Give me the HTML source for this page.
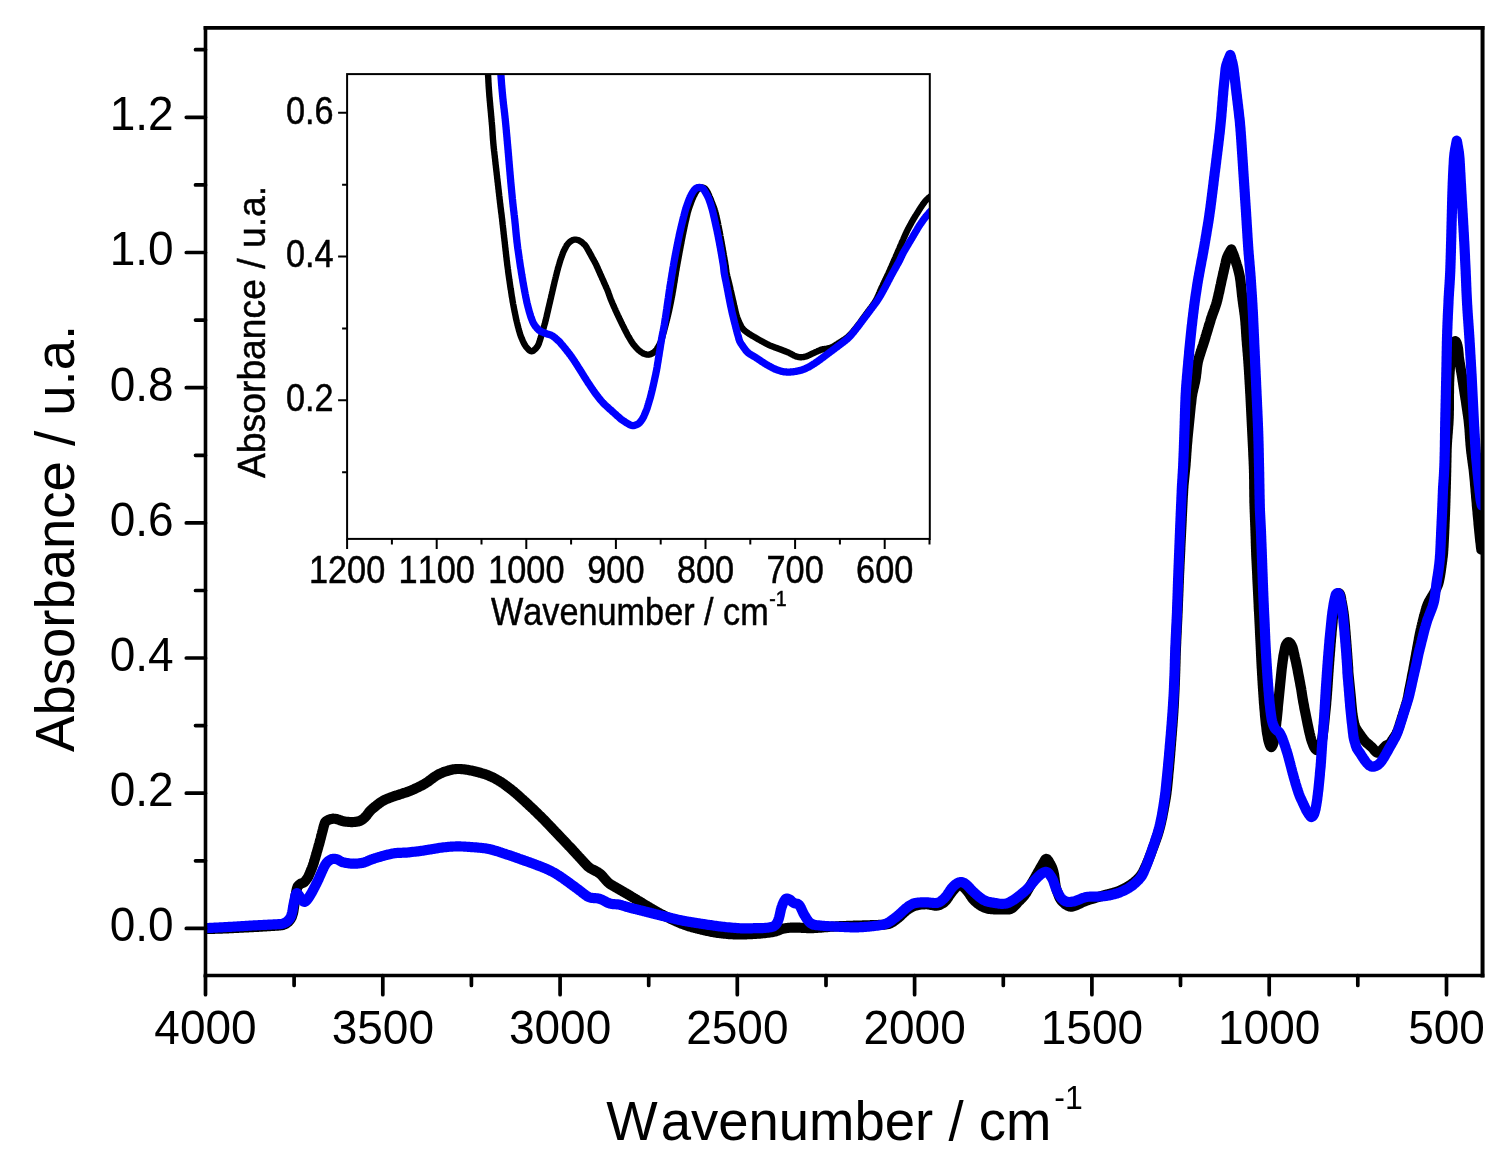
<!DOCTYPE html>
<html lang="en"><head><meta charset="utf-8"><title>FTIR absorbance spectra</title>
<style>
html,body{margin:0;padding:0;background:#fff;}
body{width:1508px;height:1172px;overflow:hidden;}
svg{display:block;}
text{font-family:"Liberation Sans", Arial, Helvetica, sans-serif;fill:#000;font-kerning:none;}
.tk{font-size:46px;}
.ti{font-size:54.5px;}
.itk{font-size:34.3px;stroke:#000;stroke-width:0.45px;}
.iti{font-size:34.25px;stroke:#000;stroke-width:0.45px;}
.ax{stroke:#000;stroke-width:3.6;fill:none;}
.axt{stroke:#000;stroke-width:3.7;fill:none;stroke-linecap:round;}
.iax{stroke:#000;stroke-width:2;fill:none;}
.c{fill:none;stroke-linejoin:round;stroke-linecap:round;}
</style></head><body>
<svg width="1508" height="1172" viewBox="0 0 1508 1172">
<rect width="1508" height="1172" fill="#fff"/>
<defs>
<clipPath id="mc"><rect x="205.5" y="27.95" width="1277.05" height="947.55"/></clipPath>
<clipPath id="ic"><rect x="347.1" y="74.1" width="582.70" height="464.80"/></clipPath>
</defs>

<g clip-path="url(#mc)">
<path class="c" stroke="#000" stroke-width="10.2" d="M205.8,928.9 L206.8,928.9 L207.8,928.9 L208.8,928.9 L209.8,928.9 L210.8,928.8 L211.8,928.8 L212.8,928.8 L213.8,928.8 L214.8,928.8 L215.8,928.7 L216.8,928.7 L217.8,928.7 L218.8,928.7 L219.8,928.6 L220.8,928.6 L221.8,928.6 L222.8,928.5 L223.8,928.5 L224.8,928.5 L225.8,928.4 L226.8,928.4 L227.8,928.3 L228.8,928.3 L229.8,928.2 L230.8,928.2 L231.8,928.1 L232.8,928.1 L233.8,928.0 L234.8,928.0 L235.8,927.9 L236.8,927.9 L237.8,927.8 L238.8,927.8 L239.8,927.7 L240.8,927.7 L241.8,927.6 L242.8,927.6 L243.8,927.5 L244.8,927.5 L245.8,927.4 L246.8,927.4 L247.8,927.3 L248.8,927.3 L249.8,927.2 L250.8,927.2 L251.8,927.1 L252.8,927.1 L253.8,927.0 L254.8,927.0 L255.8,926.9 L256.8,926.9 L257.8,926.8 L258.8,926.8 L259.8,926.7 L260.8,926.6 L261.8,926.6 L262.8,926.5 L263.8,926.5 L264.8,926.4 L265.8,926.3 L266.8,926.3 L267.8,926.2 L268.8,926.2 L269.8,926.1 L270.8,926.0 L271.8,926.0 L272.8,925.9 L273.8,925.8 L274.8,925.8 L275.8,925.7 L276.8,925.7 L277.8,925.6 L278.7,925.5 L279.7,925.5 L280.7,925.3 L281.7,925.2 L282.7,925.0 L283.7,924.7 L284.6,924.3 L285.5,923.9 L286.4,923.3 L287.2,922.7 L288.1,922.1 L288.8,921.3 L289.6,920.5 L290.2,919.6 L290.8,918.7 L291.3,917.8 L291.8,916.9 L292.1,916.0 L292.4,915.0 L292.7,914.1 L293.0,913.1 L293.2,912.2 L293.4,911.2 L293.5,910.2 L293.7,909.2 L293.8,908.2 L294.0,907.2 L294.1,906.2 L294.3,905.3 L294.4,904.3 L294.5,903.3 L294.6,902.3 L294.8,901.3 L294.9,900.3 L295.0,899.3 L295.2,898.3 L295.3,897.3 L295.5,896.3 L295.6,895.4 L295.8,894.4 L296.0,893.4 L296.1,892.4 L296.3,891.4 L296.5,890.4 L296.7,889.5 L297.0,888.5 L297.3,887.5 L297.6,886.6 L298.2,885.8 L298.9,885.1 L299.7,884.4 L300.6,883.8 L301.5,883.3 L302.4,883.0 L303.4,882.7 L304.2,882.1 L304.9,881.3 L305.6,880.6 L306.2,879.8 L306.8,879.0 L307.4,878.2 L307.9,877.3 L308.4,876.4 L308.8,875.5 L309.2,874.6 L309.6,873.7 L310.0,872.8 L310.4,871.8 L310.8,870.9 L311.1,870.0 L311.5,869.1 L311.9,868.1 L312.2,867.2 L312.6,866.3 L312.9,865.3 L313.2,864.4 L313.6,863.4 L313.9,862.5 L314.1,861.5 L314.4,860.6 L314.7,859.6 L315.0,858.6 L315.3,857.7 L315.5,856.7 L315.8,855.8 L316.1,854.8 L316.4,853.8 L316.6,852.9 L316.9,851.9 L317.2,850.9 L317.5,850.0 L317.7,849.0 L318.0,848.1 L318.3,847.1 L318.5,846.1 L318.8,845.2 L319.1,844.2 L319.4,843.2 L319.6,842.3 L319.9,841.3 L320.1,840.4 L320.4,839.4 L320.7,838.4 L320.9,837.5 L321.1,836.5 L321.4,835.5 L321.6,834.6 L321.9,833.6 L322.1,832.6 L322.4,831.7 L322.6,830.7 L322.9,829.7 L323.1,828.8 L323.4,827.8 L323.6,826.8 L323.9,825.9 L324.2,824.9 L324.5,823.9 L324.8,823.0 L325.3,822.1 L326.0,821.4 L326.8,820.8 L327.8,820.3 L328.7,819.8 L329.7,819.4 L330.7,819.1 L331.7,818.9 L332.7,818.7 L333.7,818.7 L334.7,818.8 L335.7,818.9 L336.7,819.1 L337.6,819.4 L338.6,819.7 L339.5,820.0 L340.5,820.4 L341.4,820.7 L342.4,821.0 L343.4,821.2 L344.3,821.4 L345.3,821.6 L346.3,821.7 L347.3,821.8 L348.3,821.9 L349.3,822.0 L350.3,822.0 L351.3,822.1 L352.3,822.1 L353.3,822.0 L354.3,822.0 L355.3,821.9 L356.3,821.8 L357.3,821.6 L358.3,821.4 L359.2,821.1 L360.2,820.8 L361.1,820.3 L362.0,819.8 L362.9,819.1 L363.7,818.5 L364.4,817.8 L365.1,817.1 L365.8,816.3 L366.5,815.6 L367.1,814.8 L367.7,814.0 L368.3,813.2 L368.9,812.4 L369.5,811.6 L370.2,810.9 L370.9,810.2 L371.6,809.5 L372.3,808.8 L373.1,808.2 L373.9,807.6 L374.6,806.9 L375.4,806.3 L376.2,805.7 L377.0,805.0 L377.8,804.4 L378.6,803.8 L379.4,803.2 L380.2,802.6 L381.0,802.1 L381.9,801.5 L382.7,801.0 L383.6,800.5 L384.5,800.0 L385.4,799.6 L386.3,799.2 L387.2,798.8 L388.2,798.4 L389.1,798.1 L390.0,797.7 L391.0,797.4 L391.9,797.0 L392.8,796.7 L393.8,796.4 L394.7,796.0 L395.7,795.7 L396.6,795.4 L397.6,795.1 L398.5,794.8 L399.5,794.5 L400.4,794.2 L401.4,793.9 L402.3,793.6 L403.3,793.2 L404.2,792.9 L405.2,792.6 L406.1,792.3 L407.1,792.0 L408.0,791.6 L408.9,791.3 L409.9,790.9 L410.8,790.6 L411.7,790.2 L412.7,789.8 L413.6,789.4 L414.5,789.0 L415.4,788.5 L416.3,788.1 L417.2,787.7 L418.1,787.3 L419.0,786.8 L419.9,786.4 L420.8,785.9 L421.7,785.5 L422.6,785.0 L423.5,784.5 L424.3,784.0 L425.2,783.5 L426.0,783.0 L426.8,782.4 L427.7,781.9 L428.5,781.3 L429.3,780.7 L430.1,780.1 L430.9,779.5 L431.7,778.9 L432.5,778.3 L433.3,777.7 L434.1,777.1 L434.9,776.6 L435.8,776.0 L436.6,775.5 L437.5,774.9 L438.4,774.5 L439.3,774.0 L440.2,773.6 L441.1,773.1 L442.0,772.8 L442.9,772.4 L443.8,772.0 L444.8,771.7 L445.7,771.4 L446.7,771.1 L447.6,770.8 L448.6,770.5 L449.6,770.2 L450.6,770.0 L451.6,769.7 L452.6,769.5 L453.5,769.3 L454.5,769.2 L455.5,769.1 L456.5,769.0 L457.5,769.0 L458.5,769.0 L459.5,769.0 L460.5,769.0 L461.5,769.1 L462.4,769.2 L463.4,769.3 L464.4,769.4 L465.4,769.5 L466.4,769.7 L467.4,769.8 L468.4,770.0 L469.4,770.2 L470.4,770.4 L471.4,770.6 L472.3,770.8 L473.3,771.0 L474.3,771.2 L475.3,771.5 L476.3,771.7 L477.3,772.0 L478.3,772.2 L479.2,772.5 L480.2,772.8 L481.2,773.0 L482.1,773.3 L483.1,773.6 L484.0,773.9 L485.0,774.2 L485.9,774.5 L486.8,774.9 L487.8,775.2 L488.7,775.6 L489.6,776.0 L490.6,776.4 L491.5,776.8 L492.4,777.2 L493.3,777.7 L494.2,778.1 L495.1,778.6 L496.0,779.1 L496.8,779.6 L497.7,780.1 L498.6,780.6 L499.4,781.1 L500.3,781.6 L501.1,782.1 L501.9,782.7 L502.8,783.3 L503.6,783.8 L504.4,784.4 L505.2,785.0 L506.0,785.6 L506.8,786.2 L507.6,786.8 L508.4,787.4 L509.2,788.0 L510.0,788.6 L510.8,789.2 L511.6,789.8 L512.4,790.5 L513.1,791.1 L513.9,791.7 L514.7,792.4 L515.5,793.0 L516.2,793.7 L517.0,794.3 L517.7,795.0 L518.5,795.6 L519.2,796.3 L520.0,797.0 L520.7,797.7 L521.4,798.3 L522.2,799.0 L522.9,799.7 L523.7,800.4 L524.4,801.0 L525.1,801.7 L525.9,802.4 L526.6,803.1 L527.3,803.7 L528.1,804.4 L528.8,805.1 L529.5,805.8 L530.3,806.5 L531.0,807.1 L531.7,807.8 L532.5,808.5 L533.2,809.2 L533.9,809.9 L534.6,810.6 L535.4,811.3 L536.1,812.0 L536.8,812.7 L537.5,813.4 L538.2,814.1 L538.9,814.8 L539.6,815.5 L540.4,816.2 L541.1,816.9 L541.8,817.6 L542.5,818.3 L543.2,819.0 L543.9,819.7 L544.6,820.4 L545.3,821.1 L546.0,821.9 L546.7,822.6 L547.4,823.3 L548.0,824.0 L548.7,824.7 L549.4,825.5 L550.1,826.2 L550.8,826.9 L551.5,827.6 L552.2,828.4 L552.9,829.1 L553.6,829.8 L554.3,830.5 L555.0,831.3 L555.7,832.0 L556.3,832.7 L557.0,833.4 L557.7,834.2 L558.4,834.9 L559.1,835.6 L559.8,836.3 L560.5,837.1 L561.2,837.8 L561.8,838.5 L562.5,839.2 L563.2,840.0 L563.9,840.7 L564.6,841.4 L565.3,842.1 L566.0,842.9 L566.7,843.6 L567.3,844.3 L568.0,845.0 L568.7,845.8 L569.4,846.5 L570.1,847.2 L570.8,847.9 L571.5,848.7 L572.2,849.4 L572.8,850.1 L573.5,850.9 L574.2,851.6 L574.9,852.3 L575.6,853.1 L576.2,853.8 L576.9,854.5 L577.6,855.3 L578.3,856.0 L578.9,856.8 L579.6,857.5 L580.3,858.2 L580.9,859.0 L581.6,859.7 L582.3,860.5 L583.0,861.2 L583.6,861.9 L584.3,862.7 L585.0,863.4 L585.7,864.1 L586.4,864.8 L587.1,865.6 L587.8,866.3 L588.5,866.9 L589.3,867.5 L590.1,868.1 L591.0,868.6 L591.9,869.1 L592.8,869.6 L593.7,870.0 L594.6,870.5 L595.5,871.0 L596.4,871.4 L597.3,871.9 L598.1,872.4 L599.0,873.0 L599.8,873.6 L600.5,874.2 L601.3,874.9 L602.0,875.6 L602.7,876.3 L603.3,877.1 L604.0,877.8 L604.6,878.6 L605.3,879.4 L605.9,880.2 L606.6,880.9 L607.3,881.6 L608.0,882.3 L608.7,883.0 L609.5,883.6 L610.3,884.2 L611.2,884.7 L612.1,885.2 L612.9,885.7 L613.8,886.2 L614.6,886.7 L615.5,887.2 L616.4,887.7 L617.2,888.2 L618.1,888.7 L619.0,889.2 L619.8,889.7 L620.7,890.2 L621.6,890.7 L622.4,891.2 L623.3,891.7 L624.2,892.2 L625.0,892.7 L625.9,893.3 L626.8,893.8 L627.6,894.3 L628.5,894.8 L629.3,895.3 L630.2,895.8 L631.0,896.3 L631.9,896.9 L632.8,897.4 L633.6,897.9 L634.5,898.4 L635.3,898.9 L636.2,899.4 L637.0,899.9 L637.9,900.5 L638.7,901.0 L639.6,901.5 L640.5,902.0 L641.3,902.5 L642.2,903.0 L643.0,903.6 L643.9,904.1 L644.7,904.6 L645.6,905.1 L646.5,905.6 L647.3,906.1 L648.2,906.6 L649.0,907.2 L649.9,907.7 L650.8,908.2 L651.6,908.7 L652.5,909.2 L653.3,909.7 L654.2,910.2 L655.1,910.7 L655.9,911.2 L656.8,911.7 L657.7,912.2 L658.5,912.7 L659.4,913.2 L660.3,913.6 L661.2,914.1 L662.1,914.6 L663.0,915.0 L663.8,915.5 L664.7,915.9 L665.6,916.4 L666.5,916.8 L667.4,917.3 L668.3,917.7 L669.2,918.1 L670.1,918.6 L671.0,919.0 L671.9,919.4 L672.8,919.8 L673.8,920.2 L674.7,920.7 L675.6,921.1 L676.5,921.5 L677.4,921.9 L678.3,922.3 L679.3,922.7 L680.2,923.1 L681.1,923.5 L682.1,923.8 L683.0,924.2 L683.9,924.5 L684.9,924.9 L685.8,925.2 L686.8,925.5 L687.7,925.8 L688.7,926.2 L689.6,926.4 L690.6,926.7 L691.5,927.0 L692.5,927.3 L693.5,927.6 L694.4,927.8 L695.4,928.1 L696.4,928.3 L697.3,928.6 L698.3,928.8 L699.3,929.1 L700.3,929.3 L701.2,929.5 L702.2,929.8 L703.2,930.0 L704.2,930.2 L705.1,930.4 L706.1,930.7 L707.1,930.9 L708.1,931.1 L709.1,931.3 L710.1,931.5 L711.0,931.7 L712.0,931.9 L713.0,932.0 L714.0,932.2 L715.0,932.4 L716.0,932.5 L716.9,932.7 L717.9,932.9 L718.9,933.0 L719.9,933.1 L720.9,933.3 L721.9,933.4 L722.9,933.5 L723.9,933.6 L724.9,933.7 L725.9,933.8 L726.9,933.9 L727.9,934.0 L728.9,934.1 L729.9,934.1 L730.9,934.2 L731.9,934.2 L732.9,934.3 L733.9,934.3 L734.9,934.3 L735.9,934.4 L736.9,934.4 L737.9,934.4 L738.9,934.4 L739.9,934.4 L740.9,934.4 L741.9,934.4 L742.9,934.4 L743.9,934.3 L744.9,934.3 L745.9,934.3 L746.9,934.3 L747.9,934.2 L748.9,934.2 L749.9,934.2 L750.9,934.1 L751.9,934.1 L752.8,934.0 L753.8,934.0 L754.8,933.9 L755.8,933.9 L756.8,933.8 L757.8,933.7 L758.8,933.6 L759.8,933.6 L760.8,933.5 L761.8,933.4 L762.8,933.3 L763.8,933.2 L764.8,933.1 L765.8,933.0 L766.8,932.8 L767.8,932.7 L768.8,932.6 L769.8,932.5 L770.8,932.3 L771.8,932.2 L772.8,932.0 L773.7,931.8 L774.7,931.6 L775.7,931.3 L776.6,931.0 L777.6,930.6 L778.5,930.3 L779.4,929.9 L780.4,929.5 L781.3,929.2 L782.3,928.9 L783.2,928.6 L784.2,928.4 L785.2,928.2 L786.2,928.1 L787.2,928.0 L788.2,927.9 L789.2,927.8 L790.2,927.7 L791.2,927.7 L792.2,927.6 L793.2,927.6 L794.2,927.6 L795.2,927.6 L796.2,927.6 L797.2,927.6 L798.2,927.6 L799.2,927.7 L800.2,927.7 L801.2,927.8 L802.2,927.8 L803.2,927.9 L804.2,927.9 L805.2,928.0 L806.2,928.0 L807.2,928.1 L808.2,928.1 L809.2,928.1 L810.2,928.2 L811.2,928.1 L812.2,928.1 L813.2,928.1 L814.2,928.0 L815.2,928.0 L816.2,927.9 L817.1,927.9 L818.1,927.8 L819.1,927.7 L820.1,927.6 L821.1,927.6 L822.1,927.5 L823.1,927.4 L824.1,927.3 L825.1,927.2 L826.1,927.2 L827.1,927.1 L828.1,927.0 L829.1,926.9 L830.1,926.8 L831.1,926.7 L832.1,926.7 L833.1,926.6 L834.1,926.5 L835.1,926.5 L836.1,926.4 L837.1,926.3 L838.1,926.3 L839.1,926.2 L840.1,926.2 L841.1,926.2 L842.1,926.1 L843.1,926.1 L844.1,926.0 L845.1,926.0 L846.1,926.0 L847.1,925.9 L848.1,925.9 L849.1,925.9 L850.1,925.8 L851.1,925.8 L852.1,925.8 L853.1,925.7 L854.1,925.7 L855.1,925.7 L856.1,925.6 L857.1,925.6 L858.1,925.6 L859.1,925.5 L860.1,925.5 L861.1,925.5 L862.1,925.5 L863.1,925.4 L864.1,925.4 L865.1,925.4 L866.1,925.3 L867.1,925.3 L868.1,925.3 L869.1,925.3 L870.1,925.2 L871.1,925.2 L872.1,925.2 L873.1,925.1 L874.1,925.1 L875.1,925.1 L876.1,925.0 L877.1,925.0 L878.1,925.0 L879.1,924.9 L880.1,924.9 L881.1,924.8 L882.1,924.8 L883.1,924.7 L884.1,924.6 L885.1,924.5 L886.0,924.4 L887.0,924.3 L888.0,924.1 L889.0,923.8 L889.9,923.5 L890.8,923.1 L891.7,922.6 L892.6,922.1 L893.4,921.5 L894.3,921.0 L895.1,920.3 L895.9,919.7 L896.7,919.1 L897.5,918.5 L898.3,917.9 L899.1,917.2 L899.8,916.6 L900.6,915.9 L901.3,915.2 L902.0,914.5 L902.7,913.8 L903.4,913.1 L904.2,912.5 L904.9,911.8 L905.7,911.1 L906.4,910.5 L907.2,909.9 L908.1,909.3 L908.9,908.7 L909.7,908.2 L910.6,907.7 L911.5,907.2 L912.4,906.8 L913.3,906.4 L914.2,906.0 L915.2,905.7 L916.2,905.4 L917.2,905.2 L918.2,905.0 L919.2,904.8 L920.2,904.6 L921.2,904.5 L922.1,904.4 L923.1,904.4 L924.1,904.3 L925.1,904.3 L926.1,904.2 L927.1,904.3 L928.1,904.3 L929.1,904.5 L930.1,904.7 L931.1,904.9 L932.1,905.1 L933.1,905.3 L934.1,905.5 L935.0,905.6 L936.0,905.6 L937.0,905.6 L938.0,905.4 L939.0,905.1 L939.9,904.8 L940.8,904.4 L941.7,903.9 L942.6,903.4 L943.4,902.8 L944.3,902.1 L945.0,901.4 L945.8,900.6 L946.4,899.9 L947.0,899.1 L947.6,898.3 L948.2,897.5 L948.7,896.6 L949.2,895.8 L949.8,895.0 L950.3,894.2 L950.9,893.4 L951.5,892.6 L952.1,891.8 L952.8,891.0 L953.5,890.2 L954.2,889.3 L954.9,888.5 L955.7,887.7 L956.4,886.9 L957.1,886.2 L957.9,885.7 L958.6,885.2 L959.4,884.9 L960.2,884.8 L961.0,885.1 L961.8,885.5 L962.7,886.2 L963.5,887.0 L964.3,887.8 L965.1,888.7 L965.9,889.5 L966.6,890.3 L967.3,891.1 L968.0,891.9 L968.5,892.7 L969.1,893.5 L969.7,894.4 L970.2,895.2 L970.7,896.0 L971.3,896.8 L971.8,897.6 L972.4,898.4 L973.0,899.2 L973.7,899.9 L974.4,900.7 L975.1,901.4 L975.9,902.0 L976.6,902.7 L977.4,903.3 L978.2,903.9 L979.0,904.5 L979.8,905.1 L980.7,905.6 L981.5,906.1 L982.5,906.6 L983.4,907.1 L984.3,907.5 L985.2,907.9 L986.2,908.2 L987.1,908.5 L988.1,908.7 L989.1,908.9 L990.1,909.0 L991.1,909.1 L992.1,909.2 L993.1,909.3 L994.1,909.4 L995.1,909.5 L996.0,909.5 L997.0,909.5 L998.0,909.5 L999.0,909.5 L1000.0,909.5 L1001.0,909.5 L1002.0,909.5 L1003.0,909.5 L1004.0,909.5 L1005.0,909.5 L1006.0,909.5 L1007.0,909.5 L1008.0,909.5 L1009.0,909.5 L1009.9,909.2 L1010.8,908.9 L1011.7,908.4 L1012.5,907.8 L1013.3,907.2 L1014.1,906.5 L1014.8,905.7 L1015.6,904.9 L1016.3,904.1 L1017.0,903.3 L1017.7,902.5 L1018.4,901.7 L1019.2,901.0 L1019.9,900.3 L1020.6,899.5 L1021.3,898.8 L1022.0,898.1 L1022.7,897.4 L1023.4,896.6 L1024.0,895.9 L1024.6,895.1 L1025.2,894.3 L1025.8,893.5 L1026.3,892.7 L1026.8,891.8 L1027.3,890.9 L1027.8,890.1 L1028.3,889.2 L1028.8,888.3 L1029.3,887.4 L1029.8,886.6 L1030.3,885.7 L1030.8,884.8 L1031.3,884.0 L1031.8,883.1 L1032.3,882.2 L1032.8,881.4 L1033.3,880.5 L1033.8,879.6 L1034.3,878.8 L1034.8,877.9 L1035.3,877.0 L1035.8,876.2 L1036.2,875.3 L1036.7,874.4 L1037.2,873.6 L1037.7,872.7 L1038.2,871.8 L1038.7,870.9 L1039.2,870.1 L1039.7,869.2 L1040.2,868.3 L1040.7,867.5 L1041.2,866.6 L1041.7,865.7 L1042.2,864.9 L1042.7,864.0 L1043.2,863.1 L1043.7,862.3 L1044.2,861.4 L1044.7,860.5 L1045.2,859.7 L1045.7,859.0 L1046.4,858.9 L1047.1,859.2 L1047.8,860.0 L1048.6,861.1 L1049.3,862.3 L1050.0,863.6 L1050.7,864.8 L1051.2,865.8 L1051.7,866.8 L1052.1,867.8 L1052.5,868.7 L1052.8,869.7 L1053.1,870.7 L1053.4,871.7 L1053.6,872.7 L1053.8,873.6 L1054.0,874.6 L1054.2,875.6 L1054.3,876.6 L1054.4,877.6 L1054.6,878.6 L1054.7,879.5 L1054.8,880.5 L1054.9,881.5 L1055.1,882.5 L1055.2,883.5 L1055.4,884.4 L1055.5,885.4 L1055.7,886.4 L1055.9,887.4 L1056.2,888.3 L1056.5,889.3 L1056.8,890.2 L1057.1,891.2 L1057.4,892.1 L1057.8,893.0 L1058.1,893.9 L1058.4,894.8 L1058.8,895.7 L1059.1,896.6 L1059.5,897.5 L1060.0,898.4 L1060.5,899.2 L1061.1,900.1 L1061.7,900.9 L1062.4,901.7 L1063.3,902.5 L1064.2,903.3 L1065.1,904.1 L1066.0,904.8 L1067.0,905.3 L1067.9,905.8 L1068.8,906.2 L1069.8,906.5 L1070.7,906.6 L1071.7,906.6 L1072.6,906.5 L1073.5,906.2 L1074.5,905.9 L1075.4,905.5 L1076.3,905.1 L1077.2,904.8 L1078.1,904.3 L1079.0,903.9 L1080.0,903.5 L1080.9,903.0 L1081.8,902.6 L1082.7,902.2 L1083.6,901.8 L1084.6,901.4 L1085.5,901.0 L1086.4,900.6 L1087.4,900.3 L1088.3,900.0 L1089.3,899.7 L1090.2,899.4 L1091.2,899.1 L1092.1,898.9 L1093.1,898.6 L1094.0,898.3 L1095.0,898.0 L1096.0,897.7 L1096.9,897.4 L1097.9,897.1 L1098.8,896.8 L1099.8,896.5 L1100.8,896.3 L1101.7,896.0 L1102.7,895.7 L1103.6,895.4 L1104.6,895.1 L1105.6,894.9 L1106.5,894.6 L1107.5,894.4 L1108.5,894.1 L1109.4,893.9 L1110.4,893.6 L1111.4,893.4 L1112.3,893.1 L1113.3,892.8 L1114.3,892.6 L1115.2,892.3 L1116.2,892.0 L1117.1,891.7 L1118.1,891.4 L1119.0,891.0 L1119.9,890.6 L1120.8,890.2 L1121.7,889.7 L1122.6,889.3 L1123.5,888.8 L1124.4,888.4 L1125.3,887.9 L1126.2,887.4 L1127.1,886.9 L1127.9,886.4 L1128.8,885.9 L1129.6,885.4 L1130.5,884.8 L1131.3,884.3 L1132.1,883.7 L1132.9,883.1 L1133.7,882.5 L1134.5,881.8 L1135.2,881.2 L1136.0,880.5 L1136.8,879.8 L1137.5,879.1 L1138.2,878.4 L1138.9,877.7 L1139.6,876.9 L1140.2,876.2 L1140.8,875.4 L1141.4,874.6 L1142.0,873.7 L1142.5,872.9 L1143.0,872.0 L1143.4,871.1 L1143.9,870.2 L1144.3,869.3 L1144.7,868.3 L1145.1,867.4 L1145.6,866.5 L1146.0,865.6 L1146.4,864.7 L1146.8,863.8 L1147.2,862.9 L1147.6,861.9 L1147.9,861.0 L1148.3,860.1 L1148.7,859.2 L1149.1,858.3 L1149.4,857.3 L1149.8,856.4 L1150.2,855.5 L1150.5,854.5 L1150.9,853.6 L1151.2,852.7 L1151.6,851.7 L1151.9,850.8 L1152.3,849.9 L1152.6,848.9 L1153.0,848.0 L1153.3,847.0 L1153.7,846.1 L1154.0,845.2 L1154.4,844.2 L1154.7,843.3 L1155.0,842.3 L1155.4,841.4 L1155.7,840.5 L1156.1,839.5 L1156.4,838.6 L1156.7,837.6 L1157.1,836.7 L1157.4,835.7 L1157.7,834.8 L1158.0,833.8 L1158.3,832.9 L1158.6,831.9 L1158.9,831.0 L1159.1,830.0 L1159.4,829.0 L1159.7,828.1 L1159.9,827.1 L1160.2,826.1 L1160.4,825.2 L1160.6,824.2 L1160.9,823.2 L1161.1,822.2 L1161.3,821.3 L1161.5,820.3 L1161.7,819.3 L1162.0,818.3 L1162.2,817.4 L1162.4,816.4 L1162.5,815.4 L1162.7,814.4 L1162.9,813.4 L1163.1,812.5 L1163.3,811.5 L1163.5,810.5 L1163.7,809.5 L1163.8,808.5 L1164.0,807.5 L1164.2,806.6 L1164.4,805.6 L1164.6,804.6 L1164.7,803.6 L1164.9,802.6 L1165.1,801.6 L1165.3,800.6 L1165.4,799.7 L1165.6,798.7 L1165.8,797.7 L1165.9,796.7 L1166.1,795.7 L1166.2,794.7 L1166.4,793.7 L1166.5,792.7 L1166.6,791.7 L1166.7,790.8 L1166.9,789.8 L1167.0,788.8 L1167.1,787.8 L1167.2,786.8 L1167.3,785.8 L1167.4,784.8 L1167.5,783.8 L1167.6,782.8 L1167.7,781.8 L1167.8,780.8 L1167.9,779.8 L1168.0,778.8 L1168.1,777.8 L1168.2,776.8 L1168.2,775.8 L1168.3,774.8 L1168.4,773.8 L1168.5,772.8 L1168.6,771.8 L1168.7,770.9 L1168.8,769.9 L1168.9,768.9 L1169.0,767.9 L1169.1,766.9 L1169.1,765.9 L1169.2,764.9 L1169.3,763.9 L1169.4,762.9 L1169.5,761.9 L1169.6,760.9 L1169.7,759.9 L1169.7,758.9 L1169.8,757.9 L1169.9,756.9 L1170.0,755.9 L1170.1,754.9 L1170.2,753.9 L1170.2,752.9 L1170.3,751.9 L1170.4,750.9 L1170.5,749.9 L1170.6,748.9 L1170.6,747.9 L1170.7,746.9 L1170.8,745.9 L1170.9,744.9 L1171.0,743.9 L1171.0,742.9 L1171.1,742.0 L1171.2,741.0 L1171.3,740.0 L1171.4,739.0 L1171.4,738.0 L1171.5,737.0 L1171.6,736.0 L1171.7,735.0 L1171.8,734.0 L1171.8,733.0 L1171.9,732.0 L1172.0,731.0 L1172.1,730.0 L1172.1,729.0 L1172.2,728.0 L1172.3,727.0 L1172.4,726.0 L1172.5,725.0 L1172.5,724.0 L1172.6,723.0 L1172.7,722.0 L1172.7,721.0 L1172.8,720.0 L1172.9,719.0 L1173.0,718.0 L1173.0,717.0 L1173.1,716.0 L1173.2,715.0 L1173.2,714.0 L1173.3,713.0 L1173.4,712.0 L1173.4,711.0 L1173.5,710.0 L1173.5,709.0 L1173.6,708.0 L1173.7,707.0 L1173.7,706.0 L1173.8,705.0 L1173.8,704.0 L1173.9,703.1 L1173.9,702.1 L1174.0,701.1 L1174.0,700.1 L1174.1,699.1 L1174.1,698.1 L1174.2,697.1 L1174.2,696.1 L1174.3,695.1 L1174.3,694.1 L1174.4,693.1 L1174.4,692.1 L1174.5,691.1 L1174.5,690.1 L1174.6,689.1 L1174.6,688.1 L1174.6,687.1 L1174.7,686.1 L1174.7,685.1 L1174.8,684.1 L1174.8,683.1 L1174.8,682.1 L1174.9,681.1 L1174.9,680.1 L1175.0,679.1 L1175.0,678.1 L1175.0,677.1 L1175.1,676.1 L1175.1,675.1 L1175.1,674.1 L1175.2,673.1 L1175.2,672.1 L1175.2,671.1 L1175.3,670.1 L1175.3,669.1 L1175.3,668.1 L1175.3,667.1 L1175.4,666.1 L1175.4,665.1 L1175.4,664.1 L1175.5,663.1 L1175.5,662.1 L1175.5,661.1 L1175.5,660.1 L1175.6,659.1 L1175.6,658.1 L1175.6,657.1 L1175.6,656.1 L1175.7,655.1 L1175.7,654.1 L1175.7,653.1 L1175.8,652.1 L1175.8,651.1 L1175.9,650.1 L1175.9,649.1 L1175.9,648.1 L1176.0,647.1 L1176.0,646.1 L1176.1,645.1 L1176.1,644.1 L1176.2,643.1 L1176.2,642.1 L1176.2,641.1 L1176.3,640.1 L1176.3,639.1 L1176.4,638.1 L1176.4,637.1 L1176.5,636.1 L1176.5,635.1 L1176.6,634.1 L1176.6,633.1 L1176.7,632.1 L1176.7,631.1 L1176.7,630.1 L1176.8,629.1 L1176.8,628.1 L1176.9,627.1 L1176.9,626.1 L1177.0,625.1 L1177.0,624.1 L1177.1,623.1 L1177.1,622.1 L1177.2,621.1 L1177.2,620.1 L1177.3,619.1 L1177.3,618.1 L1177.4,617.1 L1177.4,616.1 L1177.4,615.1 L1177.5,614.1 L1177.5,613.1 L1177.6,612.1 L1177.6,611.1 L1177.7,610.1 L1177.7,609.1 L1177.7,608.1 L1177.8,607.1 L1177.8,606.1 L1177.9,605.1 L1177.9,604.1 L1177.9,603.1 L1178.0,602.1 L1178.0,601.1 L1178.1,600.1 L1178.1,599.1 L1178.1,598.1 L1178.2,597.1 L1178.2,596.1 L1178.3,595.1 L1178.3,594.1 L1178.3,593.1 L1178.4,592.1 L1178.4,591.1 L1178.5,590.1 L1178.5,589.1 L1178.5,588.1 L1178.6,587.1 L1178.6,586.1 L1178.6,585.1 L1178.7,584.1 L1178.7,583.1 L1178.8,582.2 L1178.8,581.2 L1178.8,580.2 L1178.9,579.2 L1178.9,578.2 L1179.0,577.2 L1179.0,576.2 L1179.0,575.2 L1179.1,574.2 L1179.1,573.2 L1179.2,572.2 L1179.2,571.2 L1179.3,570.2 L1179.3,569.2 L1179.4,568.2 L1179.4,567.2 L1179.4,566.2 L1179.5,565.2 L1179.5,564.2 L1179.6,563.2 L1179.6,562.2 L1179.7,561.2 L1179.7,560.2 L1179.8,559.2 L1179.8,558.2 L1179.9,557.2 L1179.9,556.2 L1180.0,555.2 L1180.0,554.2 L1180.1,553.2 L1180.1,552.2 L1180.2,551.2 L1180.2,550.2 L1180.3,549.2 L1180.3,548.2 L1180.3,547.2 L1180.4,546.2 L1180.4,545.2 L1180.5,544.2 L1180.5,543.2 L1180.6,542.2 L1180.6,541.2 L1180.7,540.2 L1180.7,539.2 L1180.8,538.2 L1180.8,537.2 L1180.9,536.2 L1180.9,535.2 L1181.0,534.2 L1181.0,533.2 L1181.1,532.2 L1181.1,531.2 L1181.2,530.2 L1181.2,529.2 L1181.3,528.2 L1181.3,527.2 L1181.4,526.2 L1181.4,525.2 L1181.5,524.2 L1181.5,523.2 L1181.6,522.2 L1181.6,521.2 L1181.7,520.2 L1181.7,519.2 L1181.7,518.2 L1181.8,517.2 L1181.8,516.2 L1181.9,515.2 L1181.9,514.2 L1182.0,513.2 L1182.0,512.2 L1182.1,511.2 L1182.1,510.2 L1182.2,509.2 L1182.2,508.2 L1182.3,507.2 L1182.3,506.2 L1182.4,505.2 L1182.4,504.2 L1182.5,503.2 L1182.5,502.2 L1182.6,501.2 L1182.6,500.2 L1182.7,499.2 L1182.7,498.2 L1182.8,497.2 L1182.8,496.2 L1182.9,495.2 L1183.0,494.3 L1183.0,493.3 L1183.1,492.3 L1183.1,491.3 L1183.2,490.3 L1183.2,489.3 L1183.3,488.3 L1183.4,487.3 L1183.4,486.3 L1183.5,485.3 L1183.6,484.3 L1183.7,483.3 L1183.8,482.3 L1183.9,481.3 L1184.0,480.3 L1184.1,479.3 L1184.2,478.3 L1184.3,477.3 L1184.4,476.3 L1184.5,475.3 L1184.6,474.3 L1184.7,473.3 L1184.8,472.3 L1184.9,471.3 L1185.0,470.3 L1185.1,469.3 L1185.2,468.4 L1185.3,467.4 L1185.4,466.4 L1185.5,465.4 L1185.6,464.4 L1185.6,463.4 L1185.7,462.4 L1185.8,461.4 L1185.9,460.4 L1185.9,459.4 L1186.0,458.4 L1186.1,457.4 L1186.1,456.4 L1186.2,455.4 L1186.3,454.4 L1186.3,453.4 L1186.4,452.4 L1186.5,451.4 L1186.6,450.4 L1186.6,449.4 L1186.7,448.4 L1186.8,447.4 L1186.8,446.4 L1186.9,445.4 L1187.0,444.4 L1187.1,443.4 L1187.2,442.4 L1187.3,441.4 L1187.4,440.4 L1187.4,439.4 L1187.5,438.4 L1187.6,437.4 L1187.7,436.5 L1187.8,435.5 L1187.9,434.5 L1188.0,433.5 L1188.1,432.5 L1188.2,431.5 L1188.3,430.5 L1188.4,429.5 L1188.5,428.5 L1188.6,427.5 L1188.7,426.5 L1188.8,425.5 L1188.9,424.5 L1189.0,423.5 L1189.1,422.5 L1189.2,421.5 L1189.3,420.5 L1189.4,419.5 L1189.5,418.5 L1189.6,417.5 L1189.7,416.6 L1189.8,415.6 L1189.9,414.6 L1190.0,413.6 L1190.1,412.6 L1190.2,411.6 L1190.3,410.6 L1190.4,409.6 L1190.5,408.6 L1190.6,407.6 L1190.7,406.6 L1190.8,405.6 L1190.9,404.6 L1191.1,403.6 L1191.2,402.6 L1191.3,401.6 L1191.4,400.6 L1191.5,399.6 L1191.6,398.6 L1191.7,397.7 L1191.8,396.7 L1192.0,395.7 L1192.2,394.7 L1192.3,393.7 L1192.5,392.7 L1192.7,391.8 L1193.0,390.8 L1193.2,389.8 L1193.4,388.8 L1193.6,387.8 L1193.9,386.9 L1194.1,385.9 L1194.3,384.9 L1194.5,383.9 L1194.8,383.0 L1195.0,382.0 L1195.2,381.0 L1195.4,380.0 L1195.5,379.0 L1195.7,378.1 L1195.9,377.1 L1196.0,376.1 L1196.1,375.1 L1196.2,374.1 L1196.4,373.1 L1196.5,372.1 L1196.6,371.1 L1196.7,370.1 L1196.8,369.1 L1196.9,368.1 L1197.0,367.1 L1197.2,366.1 L1197.3,365.1 L1197.5,364.1 L1197.6,363.2 L1197.8,362.2 L1198.0,361.2 L1198.3,360.2 L1198.5,359.3 L1198.8,358.3 L1199.1,357.3 L1199.4,356.4 L1199.7,355.4 L1200.0,354.5 L1200.3,353.5 L1200.6,352.6 L1200.9,351.6 L1201.2,350.7 L1201.5,349.7 L1201.8,348.8 L1202.1,347.8 L1202.4,346.9 L1202.8,345.9 L1203.1,345.0 L1203.4,344.0 L1203.7,343.1 L1204.0,342.1 L1204.3,341.2 L1204.6,340.2 L1204.9,339.2 L1205.2,338.3 L1205.5,337.3 L1205.7,336.4 L1206.0,335.4 L1206.3,334.5 L1206.6,333.5 L1206.9,332.5 L1207.2,331.6 L1207.5,330.6 L1207.8,329.7 L1208.0,328.7 L1208.3,327.8 L1208.6,326.8 L1208.9,325.8 L1209.2,324.9 L1209.5,323.9 L1209.8,323.0 L1210.1,322.0 L1210.4,321.1 L1210.6,320.1 L1210.9,319.1 L1211.2,318.2 L1211.6,317.2 L1211.9,316.3 L1212.2,315.3 L1212.5,314.4 L1212.9,313.5 L1213.2,312.5 L1213.6,311.6 L1213.9,310.6 L1214.3,309.7 L1214.6,308.8 L1214.9,307.8 L1215.3,306.9 L1215.6,305.9 L1215.9,305.0 L1216.2,304.0 L1216.5,303.1 L1216.8,302.1 L1217.0,301.1 L1217.3,300.2 L1217.5,299.2 L1217.7,298.2 L1218.0,297.3 L1218.2,296.3 L1218.4,295.3 L1218.6,294.3 L1218.8,293.4 L1219.1,292.4 L1219.3,291.4 L1219.5,290.4 L1219.7,289.4 L1219.9,288.5 L1220.1,287.5 L1220.3,286.5 L1220.5,285.5 L1220.8,284.6 L1221.0,283.6 L1221.2,282.6 L1221.4,281.6 L1221.6,280.6 L1221.8,279.7 L1222.0,278.7 L1222.3,277.7 L1222.5,276.7 L1222.7,275.8 L1222.9,274.8 L1223.1,273.8 L1223.4,272.8 L1223.6,271.9 L1223.8,270.9 L1224.0,269.9 L1224.2,268.9 L1224.5,268.0 L1224.7,267.0 L1224.9,266.0 L1225.1,265.0 L1225.3,264.1 L1225.6,263.1 L1225.8,262.1 L1226.0,261.1 L1226.2,260.2 L1226.5,259.2 L1226.8,258.2 L1227.1,257.3 L1227.5,256.4 L1227.9,255.5 L1228.3,254.6 L1228.8,253.7 L1229.3,252.8 L1229.8,251.9 L1230.3,251.0 L1230.8,250.2 L1231.3,249.4 L1231.7,250.3 L1232.1,251.2 L1232.5,252.2 L1232.9,253.1 L1233.2,254.0 L1233.6,255.0 L1233.9,255.9 L1234.3,256.8 L1234.6,257.8 L1234.9,258.7 L1235.2,259.7 L1235.5,260.6 L1235.8,261.6 L1236.1,262.5 L1236.4,263.5 L1236.7,264.5 L1237.0,265.4 L1237.3,266.4 L1237.6,267.3 L1237.9,268.3 L1238.1,269.3 L1238.4,270.2 L1238.6,271.2 L1238.9,272.2 L1239.1,273.2 L1239.3,274.1 L1239.5,275.1 L1239.7,276.1 L1239.9,277.1 L1240.0,278.1 L1240.2,279.1 L1240.3,280.0 L1240.5,281.0 L1240.6,282.0 L1240.7,283.0 L1240.8,284.0 L1240.9,285.0 L1241.0,286.0 L1241.2,287.0 L1241.3,288.0 L1241.4,289.0 L1241.5,290.0 L1241.6,291.0 L1241.7,292.0 L1241.8,293.0 L1241.9,294.0 L1242.0,294.9 L1242.1,295.9 L1242.3,296.9 L1242.4,297.9 L1242.5,298.9 L1242.6,299.9 L1242.8,300.9 L1242.9,301.9 L1243.0,302.9 L1243.2,303.9 L1243.3,304.9 L1243.4,305.9 L1243.6,306.8 L1243.7,307.8 L1243.9,308.8 L1244.0,309.8 L1244.1,310.8 L1244.3,311.8 L1244.4,312.8 L1244.5,313.8 L1244.7,314.8 L1244.8,315.8 L1244.9,316.8 L1245.0,317.8 L1245.1,318.7 L1245.2,319.7 L1245.3,320.7 L1245.4,321.7 L1245.5,322.7 L1245.5,323.7 L1245.6,324.7 L1245.7,325.7 L1245.8,326.7 L1245.8,327.7 L1245.9,328.7 L1246.0,329.7 L1246.0,330.7 L1246.1,331.7 L1246.1,332.7 L1246.2,333.7 L1246.3,334.7 L1246.3,335.7 L1246.4,336.7 L1246.5,337.7 L1246.5,338.7 L1246.6,339.7 L1246.7,340.7 L1246.8,341.7 L1246.9,342.7 L1246.9,343.7 L1247.0,344.7 L1247.1,345.7 L1247.2,346.7 L1247.3,347.7 L1247.4,348.7 L1247.4,349.7 L1247.5,350.7 L1247.6,351.7 L1247.7,352.6 L1247.8,353.6 L1247.8,354.6 L1247.9,355.6 L1248.0,356.6 L1248.1,357.6 L1248.1,358.6 L1248.2,359.6 L1248.3,360.6 L1248.4,361.6 L1248.4,362.6 L1248.5,363.6 L1248.6,364.6 L1248.6,365.6 L1248.7,366.6 L1248.8,367.6 L1248.8,368.6 L1248.9,369.6 L1249.0,370.6 L1249.0,371.6 L1249.1,372.6 L1249.1,373.6 L1249.2,374.6 L1249.3,375.6 L1249.3,376.6 L1249.4,377.6 L1249.4,378.6 L1249.5,379.6 L1249.6,380.6 L1249.6,381.6 L1249.7,382.6 L1249.7,383.6 L1249.8,384.6 L1249.9,385.6 L1249.9,386.6 L1250.0,387.6 L1250.0,388.6 L1250.1,389.6 L1250.1,390.6 L1250.2,391.6 L1250.2,392.6 L1250.3,393.6 L1250.4,394.6 L1250.4,395.6 L1250.5,396.6 L1250.5,397.6 L1250.6,398.6 L1250.6,399.6 L1250.7,400.6 L1250.7,401.6 L1250.8,402.6 L1250.8,403.6 L1250.9,404.6 L1250.9,405.5 L1251.0,406.5 L1251.0,407.5 L1251.1,408.5 L1251.1,409.5 L1251.2,410.5 L1251.2,411.5 L1251.3,412.5 L1251.3,413.5 L1251.4,414.5 L1251.4,415.5 L1251.5,416.5 L1251.5,417.5 L1251.6,418.5 L1251.6,419.5 L1251.7,420.5 L1251.7,421.5 L1251.8,422.5 L1251.8,423.5 L1251.9,424.5 L1251.9,425.5 L1252.0,426.5 L1252.0,427.5 L1252.1,428.5 L1252.1,429.5 L1252.2,430.5 L1252.2,431.5 L1252.3,432.5 L1252.3,433.5 L1252.4,434.5 L1252.4,435.5 L1252.5,436.5 L1252.5,437.5 L1252.6,438.5 L1252.6,439.5 L1252.7,440.5 L1252.7,441.5 L1252.8,442.5 L1252.8,443.5 L1252.9,444.5 L1252.9,445.5 L1253.0,446.5 L1253.0,447.5 L1253.1,448.5 L1253.1,449.5 L1253.2,450.5 L1253.2,451.5 L1253.3,452.5 L1253.3,453.5 L1253.3,454.5 L1253.4,455.5 L1253.4,456.5 L1253.5,457.5 L1253.5,458.5 L1253.6,459.5 L1253.6,460.5 L1253.7,461.5 L1253.7,462.5 L1253.7,463.5 L1253.8,464.5 L1253.8,465.5 L1253.9,466.5 L1253.9,467.5 L1253.9,468.5 L1254.0,469.5 L1254.0,470.5 L1254.0,471.5 L1254.0,472.5 L1254.1,473.5 L1254.1,474.5 L1254.1,475.5 L1254.1,476.5 L1254.1,477.5 L1254.1,478.5 L1254.2,479.5 L1254.2,480.5 L1254.2,481.5 L1254.2,482.5 L1254.2,483.5 L1254.2,484.5 L1254.2,485.5 L1254.2,486.5 L1254.2,487.5 L1254.2,488.5 L1254.3,489.5 L1254.3,490.5 L1254.3,491.5 L1254.3,492.5 L1254.3,493.5 L1254.3,494.5 L1254.3,495.5 L1254.3,496.5 L1254.4,497.5 L1254.4,498.5 L1254.4,499.5 L1254.4,500.5 L1254.4,501.5 L1254.4,502.5 L1254.5,503.5 L1254.5,504.5 L1254.5,505.5 L1254.6,506.5 L1254.6,507.5 L1254.6,508.5 L1254.7,509.5 L1254.7,510.5 L1254.7,511.5 L1254.8,512.5 L1254.8,513.5 L1254.9,514.5 L1254.9,515.5 L1254.9,516.5 L1255.0,517.5 L1255.0,518.5 L1255.0,519.5 L1255.1,520.5 L1255.1,521.5 L1255.2,522.5 L1255.2,523.5 L1255.2,524.5 L1255.3,525.5 L1255.3,526.5 L1255.4,527.5 L1255.4,528.5 L1255.4,529.5 L1255.5,530.5 L1255.5,531.5 L1255.5,532.5 L1255.6,533.5 L1255.6,534.5 L1255.6,535.5 L1255.7,536.5 L1255.7,537.5 L1255.7,538.5 L1255.8,539.5 L1255.8,540.5 L1255.8,541.5 L1255.8,542.5 L1255.9,543.4 L1255.9,544.4 L1255.9,545.4 L1256.0,546.4 L1256.0,547.4 L1256.0,548.4 L1256.1,549.4 L1256.1,550.4 L1256.1,551.4 L1256.2,552.4 L1256.2,553.4 L1256.2,554.4 L1256.3,555.4 L1256.3,556.4 L1256.4,557.4 L1256.4,558.4 L1256.5,559.4 L1256.5,560.4 L1256.6,561.4 L1256.6,562.4 L1256.7,563.4 L1256.7,564.4 L1256.8,565.4 L1256.8,566.4 L1256.9,567.4 L1256.9,568.4 L1257.0,569.4 L1257.0,570.4 L1257.1,571.4 L1257.1,572.4 L1257.2,573.4 L1257.2,574.4 L1257.3,575.4 L1257.3,576.4 L1257.3,577.4 L1257.4,578.4 L1257.4,579.4 L1257.5,580.4 L1257.5,581.4 L1257.6,582.4 L1257.6,583.4 L1257.7,584.4 L1257.7,585.4 L1257.8,586.4 L1257.8,587.4 L1257.9,588.4 L1257.9,589.4 L1258.0,590.4 L1258.0,591.4 L1258.1,592.4 L1258.1,593.4 L1258.2,594.4 L1258.2,595.4 L1258.3,596.4 L1258.3,597.4 L1258.4,598.4 L1258.4,599.4 L1258.5,600.4 L1258.5,601.4 L1258.6,602.4 L1258.6,603.4 L1258.7,604.4 L1258.7,605.4 L1258.7,606.4 L1258.8,607.4 L1258.8,608.4 L1258.9,609.4 L1258.9,610.4 L1259.0,611.4 L1259.1,612.4 L1259.1,613.4 L1259.2,614.4 L1259.2,615.4 L1259.3,616.4 L1259.3,617.4 L1259.4,618.4 L1259.4,619.4 L1259.5,620.4 L1259.5,621.4 L1259.6,622.4 L1259.6,623.4 L1259.7,624.4 L1259.7,625.4 L1259.8,626.4 L1259.8,627.4 L1259.9,628.4 L1259.9,629.4 L1260.0,630.4 L1260.0,631.4 L1260.0,632.4 L1260.1,633.3 L1260.1,634.3 L1260.2,635.3 L1260.2,636.3 L1260.3,637.3 L1260.3,638.3 L1260.4,639.3 L1260.4,640.3 L1260.5,641.3 L1260.5,642.3 L1260.6,643.3 L1260.6,644.3 L1260.7,645.3 L1260.7,646.3 L1260.8,647.3 L1260.8,648.3 L1260.9,649.3 L1260.9,650.3 L1261.0,651.3 L1261.0,652.3 L1261.0,653.3 L1261.1,654.3 L1261.1,655.3 L1261.2,656.3 L1261.2,657.3 L1261.3,658.3 L1261.3,659.3 L1261.4,660.3 L1261.4,661.3 L1261.5,662.3 L1261.5,663.3 L1261.6,664.3 L1261.6,665.3 L1261.7,666.3 L1261.7,667.3 L1261.8,668.3 L1261.9,669.3 L1261.9,670.3 L1262.0,671.3 L1262.0,672.3 L1262.1,673.3 L1262.1,674.3 L1262.2,675.3 L1262.3,676.3 L1262.3,677.3 L1262.4,678.3 L1262.4,679.3 L1262.5,680.3 L1262.6,681.3 L1262.6,682.3 L1262.7,683.3 L1262.7,684.3 L1262.8,685.3 L1262.9,686.3 L1262.9,687.3 L1263.0,688.3 L1263.1,689.3 L1263.1,690.3 L1263.2,691.3 L1263.3,692.3 L1263.3,693.3 L1263.4,694.3 L1263.5,695.3 L1263.5,696.3 L1263.6,697.3 L1263.7,698.3 L1263.7,699.2 L1263.8,700.2 L1263.9,701.2 L1263.9,702.2 L1264.0,703.2 L1264.1,704.2 L1264.2,705.2 L1264.3,706.2 L1264.3,707.2 L1264.4,708.2 L1264.5,709.2 L1264.6,710.2 L1264.7,711.2 L1264.8,712.2 L1264.9,713.2 L1264.9,714.2 L1265.0,715.2 L1265.1,716.2 L1265.2,717.2 L1265.3,718.2 L1265.4,719.2 L1265.5,720.2 L1265.6,721.2 L1265.7,722.2 L1265.8,723.2 L1265.9,724.1 L1266.0,725.1 L1266.2,726.1 L1266.3,727.1 L1266.4,728.1 L1266.5,729.1 L1266.6,730.1 L1266.7,731.1 L1266.9,732.1 L1267.0,733.1 L1267.2,734.1 L1267.4,735.0 L1267.6,736.0 L1267.8,737.0 L1267.9,738.0 L1268.1,739.0 L1268.3,740.0 L1268.5,740.9 L1268.8,741.9 L1269.1,742.8 L1269.4,743.8 L1269.8,744.8 L1270.2,745.8 L1270.7,746.7 L1271.3,747.2 L1271.9,746.5 L1272.5,745.4 L1273.0,744.4 L1273.3,743.5 L1273.6,742.5 L1273.8,741.6 L1274.0,740.6 L1274.2,739.6 L1274.3,738.6 L1274.5,737.6 L1274.6,736.6 L1274.7,735.7 L1274.9,734.7 L1275.0,733.7 L1275.1,732.7 L1275.2,731.7 L1275.4,730.7 L1275.5,729.7 L1275.6,728.7 L1275.7,727.7 L1275.8,726.7 L1276.0,725.7 L1276.1,724.7 L1276.2,723.7 L1276.3,722.8 L1276.4,721.8 L1276.5,720.8 L1276.7,719.8 L1276.8,718.8 L1276.9,717.8 L1277.0,716.8 L1277.1,715.8 L1277.2,714.8 L1277.3,713.8 L1277.4,712.8 L1277.5,711.8 L1277.6,710.8 L1277.7,709.8 L1277.8,708.8 L1277.8,707.8 L1277.9,706.8 L1278.0,705.8 L1278.1,704.8 L1278.2,703.8 L1278.3,702.9 L1278.4,701.9 L1278.5,700.9 L1278.6,699.9 L1278.7,698.9 L1278.8,697.9 L1278.9,696.9 L1279.0,695.9 L1279.1,694.9 L1279.2,693.9 L1279.3,692.9 L1279.4,691.9 L1279.5,690.9 L1279.6,689.9 L1279.7,688.9 L1279.8,687.9 L1279.9,686.9 L1280.0,685.9 L1280.1,684.9 L1280.2,683.9 L1280.3,682.9 L1280.4,682.0 L1280.5,681.0 L1280.6,680.0 L1280.7,679.0 L1280.8,678.0 L1280.9,677.0 L1281.0,676.0 L1281.1,675.0 L1281.2,674.0 L1281.3,673.0 L1281.4,672.0 L1281.5,671.0 L1281.6,670.0 L1281.7,669.0 L1281.8,668.0 L1282.0,667.0 L1282.1,666.0 L1282.2,665.1 L1282.3,664.1 L1282.5,663.1 L1282.6,662.1 L1282.7,661.1 L1282.9,660.1 L1283.0,659.1 L1283.2,658.1 L1283.3,657.1 L1283.4,656.1 L1283.6,655.2 L1283.8,654.2 L1284.0,653.2 L1284.2,652.2 L1284.4,651.2 L1284.6,650.3 L1284.8,649.3 L1285.0,648.3 L1285.2,647.3 L1285.5,646.4 L1285.8,645.4 L1286.2,644.5 L1286.8,643.6 L1287.5,642.7 L1288.4,642.1 L1289.2,642.3 L1289.9,642.9 L1290.6,643.7 L1291.2,644.7 L1291.7,645.6 L1292.1,646.5 L1292.5,647.4 L1292.8,648.3 L1293.0,649.3 L1293.3,650.3 L1293.5,651.2 L1293.7,652.2 L1293.9,653.2 L1294.2,654.2 L1294.4,655.1 L1294.6,656.1 L1294.8,657.1 L1295.1,658.1 L1295.3,659.0 L1295.5,660.0 L1295.8,661.0 L1296.0,662.0 L1296.2,662.9 L1296.4,663.9 L1296.6,664.9 L1296.8,665.9 L1297.0,666.8 L1297.2,667.8 L1297.4,668.8 L1297.6,669.8 L1297.8,670.8 L1297.9,671.8 L1298.1,672.7 L1298.3,673.7 L1298.5,674.7 L1298.7,675.7 L1298.9,676.7 L1299.1,677.7 L1299.2,678.6 L1299.4,679.6 L1299.6,680.6 L1299.8,681.6 L1300.0,682.6 L1300.2,683.6 L1300.3,684.5 L1300.5,685.5 L1300.7,686.5 L1300.9,687.5 L1301.1,688.5 L1301.3,689.5 L1301.4,690.4 L1301.6,691.4 L1301.7,692.4 L1301.9,693.4 L1302.0,694.4 L1302.2,695.4 L1302.3,696.4 L1302.5,697.4 L1302.6,698.3 L1302.8,699.3 L1303.0,700.3 L1303.1,701.3 L1303.3,702.3 L1303.5,703.3 L1303.7,704.3 L1303.9,705.2 L1304.1,706.2 L1304.2,707.2 L1304.4,708.2 L1304.6,709.2 L1304.8,710.1 L1305.0,711.1 L1305.2,712.1 L1305.4,713.1 L1305.6,714.1 L1305.8,715.1 L1306.0,716.0 L1306.2,717.0 L1306.4,718.0 L1306.6,719.0 L1306.8,720.0 L1307.0,720.9 L1307.2,721.9 L1307.4,722.9 L1307.6,723.9 L1307.8,724.9 L1308.0,725.8 L1308.2,726.8 L1308.4,727.8 L1308.6,728.8 L1308.8,729.7 L1309.0,730.7 L1309.3,731.7 L1309.5,732.7 L1309.7,733.6 L1310.0,734.6 L1310.2,735.6 L1310.4,736.6 L1310.7,737.5 L1310.9,738.5 L1311.2,739.5 L1311.5,740.4 L1311.8,741.3 L1312.2,742.3 L1312.5,743.2 L1312.9,744.2 L1313.2,745.1 L1313.6,746.0 L1314.0,746.9 L1314.5,747.8 L1315.1,748.6 L1315.9,749.5 L1316.7,750.1 L1317.5,750.3 L1318.3,749.8 L1319.1,749.0 L1319.8,748.1 L1320.2,747.2 L1320.5,746.2 L1320.8,745.3 L1321.0,744.3 L1321.2,743.3 L1321.5,742.4 L1321.7,741.4 L1321.9,740.4 L1322.1,739.4 L1322.3,738.5 L1322.5,737.5 L1322.6,736.5 L1322.8,735.5 L1322.9,734.5 L1323.0,733.5 L1323.1,732.5 L1323.3,731.5 L1323.4,730.5 L1323.5,729.5 L1323.6,728.5 L1323.7,727.6 L1323.8,726.6 L1323.9,725.6 L1324.1,724.6 L1324.2,723.6 L1324.3,722.6 L1324.4,721.6 L1324.5,720.6 L1324.6,719.6 L1324.7,718.6 L1324.8,717.6 L1324.9,716.6 L1325.0,715.6 L1325.1,714.6 L1325.2,713.6 L1325.3,712.6 L1325.4,711.6 L1325.5,710.6 L1325.6,709.7 L1325.7,708.7 L1325.8,707.7 L1325.9,706.7 L1326.0,705.7 L1326.1,704.7 L1326.2,703.7 L1326.2,702.7 L1326.3,701.7 L1326.4,700.7 L1326.5,699.7 L1326.6,698.7 L1326.7,697.7 L1326.7,696.7 L1326.8,695.7 L1326.9,694.7 L1327.0,693.7 L1327.0,692.7 L1327.1,691.7 L1327.2,690.7 L1327.3,689.7 L1327.3,688.7 L1327.4,687.7 L1327.5,686.7 L1327.5,685.7 L1327.6,684.7 L1327.7,683.7 L1327.7,682.7 L1327.8,681.7 L1327.9,680.7 L1327.9,679.7 L1328.0,678.7 L1328.1,677.7 L1328.1,676.8 L1328.2,675.8 L1328.3,674.8 L1328.3,673.8 L1328.4,672.8 L1328.5,671.8 L1328.6,670.8 L1328.6,669.8 L1328.7,668.8 L1328.8,667.8 L1328.8,666.8 L1328.9,665.8 L1329.0,664.8 L1329.1,663.8 L1329.1,662.8 L1329.2,661.8 L1329.3,660.8 L1329.4,659.8 L1329.4,658.8 L1329.5,657.8 L1329.6,656.8 L1329.7,655.8 L1329.8,654.8 L1329.8,653.8 L1329.9,652.8 L1330.0,651.8 L1330.1,650.8 L1330.2,649.8 L1330.2,648.8 L1330.3,647.8 L1330.4,646.8 L1330.5,645.8 L1330.5,644.8 L1330.6,643.8 L1330.7,642.8 L1330.8,641.9 L1330.9,640.9 L1330.9,639.9 L1331.0,638.9 L1331.1,637.9 L1331.2,636.9 L1331.3,635.9 L1331.4,634.9 L1331.5,633.9 L1331.5,632.9 L1331.6,631.9 L1331.7,630.9 L1331.8,629.9 L1331.9,628.9 L1332.0,627.9 L1332.1,626.9 L1332.2,625.9 L1332.3,624.9 L1332.4,623.9 L1332.5,622.9 L1332.6,621.9 L1332.6,620.9 L1332.7,619.9 L1332.8,618.9 L1332.9,617.9 L1333.0,617.0 L1333.2,616.0 L1333.3,615.0 L1333.4,614.0 L1333.5,613.0 L1333.7,612.0 L1333.8,611.0 L1334.0,610.0 L1334.1,609.0 L1334.3,608.0 L1334.4,607.1 L1334.6,606.1 L1334.7,605.1 L1334.9,604.1 L1335.1,603.1 L1335.3,602.1 L1335.5,601.1 L1335.7,600.2 L1335.9,599.2 L1336.1,598.2 L1336.3,597.2 L1336.5,596.3 L1336.8,595.3 L1337.3,594.4 L1337.9,593.5 L1338.7,593.1 L1339.5,593.6 L1340.1,594.6 L1340.4,595.6 L1340.7,596.5 L1340.9,597.5 L1341.1,598.5 L1341.3,599.5 L1341.4,600.4 L1341.6,601.4 L1341.8,602.4 L1342.0,603.4 L1342.2,604.4 L1342.3,605.4 L1342.5,606.3 L1342.7,607.3 L1342.8,608.3 L1343.0,609.3 L1343.1,610.3 L1343.3,611.3 L1343.5,612.3 L1343.6,613.3 L1343.7,614.2 L1343.9,615.2 L1344.0,616.2 L1344.1,617.2 L1344.2,618.2 L1344.3,619.2 L1344.4,620.2 L1344.5,621.2 L1344.6,622.2 L1344.7,623.2 L1344.8,624.2 L1344.9,625.2 L1345.0,626.2 L1345.1,627.2 L1345.1,628.2 L1345.2,629.2 L1345.3,630.2 L1345.4,631.2 L1345.5,632.2 L1345.6,633.2 L1345.6,634.2 L1345.7,635.2 L1345.8,636.1 L1345.9,637.1 L1345.9,638.1 L1346.0,639.1 L1346.1,640.1 L1346.2,641.1 L1346.3,642.1 L1346.3,643.1 L1346.4,644.1 L1346.5,645.1 L1346.6,646.1 L1346.6,647.1 L1346.7,648.1 L1346.8,649.1 L1346.9,650.1 L1346.9,651.1 L1347.0,652.1 L1347.1,653.1 L1347.2,654.1 L1347.2,655.1 L1347.3,656.1 L1347.4,657.1 L1347.4,658.1 L1347.5,659.1 L1347.6,660.1 L1347.7,661.1 L1347.7,662.1 L1347.8,663.1 L1347.9,664.1 L1347.9,665.1 L1348.0,666.1 L1348.1,667.1 L1348.2,668.1 L1348.2,669.1 L1348.2,670.1 L1348.3,671.1 L1348.3,672.1 L1348.4,673.1 L1348.5,674.1 L1348.6,675.0 L1348.7,676.0 L1348.8,677.0 L1348.9,678.0 L1349.0,679.0 L1349.1,680.0 L1349.2,681.0 L1349.3,682.0 L1349.4,683.0 L1349.5,684.0 L1349.6,685.0 L1349.7,686.0 L1349.8,687.0 L1349.9,688.0 L1350.0,689.0 L1350.1,690.0 L1350.2,691.0 L1350.3,692.0 L1350.4,693.0 L1350.5,694.0 L1350.6,694.9 L1350.7,695.9 L1350.8,696.9 L1350.9,697.9 L1351.0,698.9 L1351.1,699.9 L1351.1,700.9 L1351.2,701.9 L1351.3,702.9 L1351.4,703.9 L1351.5,704.9 L1351.6,705.9 L1351.7,706.9 L1351.8,707.9 L1351.9,708.9 L1352.0,709.9 L1352.1,710.9 L1352.2,711.9 L1352.3,712.9 L1352.5,713.9 L1352.6,714.8 L1352.7,715.8 L1352.9,716.8 L1353.1,717.8 L1353.2,718.8 L1353.4,719.8 L1353.6,720.8 L1353.8,721.7 L1354.0,722.7 L1354.2,723.7 L1354.5,724.7 L1354.8,725.6 L1355.1,726.6 L1355.5,727.5 L1356.0,728.4 L1356.5,729.3 L1357.0,730.1 L1357.5,731.0 L1358.1,731.8 L1358.6,732.6 L1359.2,733.4 L1359.8,734.2 L1360.4,735.1 L1361.0,735.9 L1361.6,736.7 L1362.2,737.5 L1362.8,738.3 L1363.4,739.1 L1364.0,739.8 L1364.6,740.6 L1365.3,741.4 L1366.0,742.1 L1366.7,742.8 L1367.5,743.4 L1368.2,744.1 L1369.0,744.7 L1369.7,745.4 L1370.5,746.1 L1371.2,746.7 L1372.0,747.4 L1372.7,748.1 L1373.3,748.8 L1373.9,749.6 L1374.5,750.4 L1375.2,751.2 L1376.0,751.9 L1376.9,752.5 L1377.8,752.7 L1378.8,752.5 L1379.7,752.1 L1380.5,751.4 L1381.2,750.7 L1381.9,749.9 L1382.5,749.2 L1383.2,748.5 L1383.9,747.7 L1384.5,747.0 L1385.2,746.3 L1386.0,745.6 L1386.9,745.2 L1387.8,744.8 L1388.7,744.3 L1389.6,743.8 L1390.3,743.1 L1390.9,742.3 L1391.4,741.5 L1392.0,740.6 L1392.5,739.8 L1393.1,739.0 L1393.6,738.1 L1394.2,737.3 L1394.7,736.5 L1395.3,735.6 L1395.8,734.8 L1396.3,733.9 L1396.7,733.0 L1397.1,732.1 L1397.5,731.1 L1397.9,730.2 L1398.2,729.3 L1398.5,728.3 L1398.9,727.4 L1399.2,726.4 L1399.5,725.5 L1399.8,724.5 L1400.1,723.6 L1400.4,722.6 L1400.7,721.7 L1401.0,720.7 L1401.3,719.8 L1401.6,718.8 L1401.9,717.8 L1402.2,716.9 L1402.5,715.9 L1402.8,715.0 L1403.1,714.0 L1403.4,713.1 L1403.7,712.1 L1404.0,711.2 L1404.3,710.2 L1404.6,709.2 L1404.9,708.3 L1405.2,707.3 L1405.5,706.4 L1405.8,705.4 L1406.1,704.5 L1406.4,703.5 L1406.6,702.6 L1406.9,701.6 L1407.2,700.6 L1407.4,699.7 L1407.6,698.7 L1407.9,697.7 L1408.1,696.7 L1408.3,695.8 L1408.4,694.8 L1408.6,693.8 L1408.8,692.8 L1409.0,691.8 L1409.1,690.8 L1409.3,689.8 L1409.5,688.9 L1409.7,687.9 L1409.9,686.9 L1410.1,685.9 L1410.3,684.9 L1410.5,684.0 L1410.7,683.0 L1410.9,682.0 L1411.1,681.0 L1411.3,680.0 L1411.5,679.1 L1411.7,678.1 L1411.8,677.1 L1412.0,676.1 L1412.2,675.1 L1412.4,674.1 L1412.6,673.2 L1412.8,672.2 L1413.0,671.2 L1413.2,670.2 L1413.4,669.2 L1413.5,668.3 L1413.7,667.3 L1413.9,666.3 L1414.1,665.3 L1414.3,664.3 L1414.4,663.3 L1414.6,662.4 L1414.8,661.4 L1415.0,660.4 L1415.2,659.4 L1415.3,658.4 L1415.5,657.4 L1415.7,656.4 L1415.9,655.5 L1416.1,654.5 L1416.2,653.5 L1416.4,652.5 L1416.6,651.5 L1416.8,650.5 L1417.0,649.6 L1417.1,648.6 L1417.3,647.6 L1417.5,646.6 L1417.7,645.6 L1417.9,644.6 L1418.0,643.7 L1418.2,642.7 L1418.4,641.7 L1418.6,640.7 L1418.8,639.7 L1418.9,638.7 L1419.1,637.8 L1419.3,636.8 L1419.5,635.8 L1419.7,634.8 L1419.9,633.8 L1420.1,632.9 L1420.3,631.9 L1420.5,630.9 L1420.7,629.9 L1421.0,628.9 L1421.2,628.0 L1421.4,627.0 L1421.6,626.0 L1421.9,625.1 L1422.1,624.1 L1422.3,623.1 L1422.6,622.1 L1422.8,621.2 L1423.1,620.2 L1423.3,619.2 L1423.6,618.3 L1423.8,617.3 L1424.1,616.3 L1424.3,615.4 L1424.6,614.4 L1424.8,613.4 L1425.1,612.5 L1425.4,611.5 L1425.6,610.5 L1425.9,609.6 L1426.2,608.6 L1426.5,607.7 L1426.8,606.7 L1427.1,605.8 L1427.5,604.8 L1427.9,603.9 L1428.3,603.0 L1428.7,602.1 L1429.2,601.2 L1429.7,600.4 L1430.2,599.5 L1430.7,598.6 L1431.2,597.8 L1431.7,596.9 L1432.3,596.1 L1432.8,595.2 L1433.3,594.3 L1433.8,593.5 L1434.3,592.6 L1434.8,591.7 L1435.3,590.8 L1435.7,589.9 L1436.1,589.0 L1436.5,588.1 L1436.9,587.2 L1437.3,586.3 L1437.7,585.3 L1438.1,584.4 L1438.4,583.4 L1438.6,582.5 L1438.9,581.5 L1439.1,580.5 L1439.3,579.5 L1439.5,578.6 L1439.7,577.6 L1439.9,576.6 L1440.1,575.6 L1440.2,574.6 L1440.4,573.6 L1440.5,572.7 L1440.7,571.7 L1440.8,570.7 L1441.0,569.7 L1441.1,568.7 L1441.2,567.7 L1441.4,566.7 L1441.5,565.7 L1441.6,564.7 L1441.8,563.7 L1441.9,562.7 L1442.0,561.8 L1442.2,560.8 L1442.3,559.8 L1442.4,558.8 L1442.5,557.8 L1442.7,556.8 L1442.8,555.8 L1442.9,554.8 L1443.0,553.8 L1443.1,552.8 L1443.1,551.8 L1443.2,550.8 L1443.3,549.8 L1443.3,548.8 L1443.4,547.8 L1443.5,546.8 L1443.5,545.8 L1443.6,544.8 L1443.6,543.8 L1443.7,542.8 L1443.7,541.8 L1443.8,540.8 L1443.8,539.8 L1443.9,538.8 L1443.9,537.8 L1444.0,536.8 L1444.0,535.8 L1444.1,534.8 L1444.1,533.8 L1444.2,532.8 L1444.2,531.8 L1444.2,530.9 L1444.3,529.9 L1444.3,528.9 L1444.4,527.9 L1444.4,526.9 L1444.5,525.9 L1444.5,524.9 L1444.5,523.9 L1444.6,522.9 L1444.6,521.9 L1444.7,520.9 L1444.7,519.9 L1444.8,518.9 L1444.8,517.9 L1444.8,516.9 L1444.9,515.9 L1444.9,514.9 L1445.0,513.9 L1445.0,512.9 L1445.0,511.9 L1445.1,510.9 L1445.1,509.9 L1445.1,508.9 L1445.2,507.9 L1445.2,506.9 L1445.2,505.9 L1445.3,504.9 L1445.3,503.9 L1445.3,502.9 L1445.4,501.9 L1445.4,500.9 L1445.4,499.9 L1445.4,498.9 L1445.5,497.9 L1445.5,496.9 L1445.5,495.9 L1445.6,494.9 L1445.6,493.9 L1445.6,492.9 L1445.6,491.9 L1445.7,490.9 L1445.7,489.9 L1445.7,488.9 L1445.8,487.9 L1445.8,486.9 L1445.8,485.9 L1445.8,484.9 L1445.9,483.9 L1445.9,482.9 L1445.9,481.9 L1445.9,480.9 L1446.0,479.9 L1446.0,478.9 L1446.0,477.9 L1446.0,476.9 L1446.1,475.9 L1446.1,474.9 L1446.1,473.9 L1446.1,472.9 L1446.2,471.9 L1446.2,470.9 L1446.2,469.9 L1446.2,468.9 L1446.2,467.9 L1446.3,466.9 L1446.3,465.9 L1446.3,464.9 L1446.3,463.9 L1446.3,462.9 L1446.4,461.9 L1446.4,460.9 L1446.4,459.9 L1446.4,458.9 L1446.4,457.9 L1446.5,456.9 L1446.5,455.9 L1446.5,454.9 L1446.5,453.9 L1446.5,452.9 L1446.6,451.9 L1446.6,450.9 L1446.6,449.9 L1446.6,448.9 L1446.7,447.9 L1446.7,446.9 L1446.8,445.9 L1446.8,444.9 L1446.9,443.9 L1446.9,442.9 L1447.0,441.9 L1447.1,440.9 L1447.1,439.9 L1447.2,438.9 L1447.3,437.9 L1447.4,436.9 L1447.4,435.9 L1447.5,434.9 L1447.6,433.9 L1447.7,432.9 L1447.8,431.9 L1447.8,430.9 L1447.9,429.9 L1448.0,428.9 L1448.1,427.9 L1448.1,426.9 L1448.2,425.9 L1448.3,424.9 L1448.4,423.9 L1448.4,422.9 L1448.5,421.9 L1448.5,420.9 L1448.6,420.0 L1448.6,419.0 L1448.7,418.0 L1448.7,417.0 L1448.7,416.0 L1448.8,415.0 L1448.8,414.0 L1448.8,413.0 L1448.8,412.0 L1448.8,411.0 L1448.9,410.0 L1448.9,409.0 L1448.9,408.0 L1448.9,407.0 L1448.9,406.0 L1448.9,405.0 L1448.9,404.0 L1448.9,403.0 L1448.9,402.0 L1448.9,401.0 L1448.9,400.0 L1448.9,399.0 L1448.9,398.0 L1448.9,397.0 L1448.9,396.0 L1448.9,395.0 L1448.9,394.0 L1449.0,393.0 L1449.0,392.0 L1449.0,391.0 L1449.0,390.0 L1449.0,389.0 L1449.0,388.0 L1449.0,387.0 L1449.0,386.0 L1449.1,385.0 L1449.1,384.0 L1449.1,383.0 L1449.1,382.0 L1449.2,381.0 L1449.2,380.0 L1449.2,379.0 L1449.3,378.0 L1449.3,377.0 L1449.4,376.0 L1449.4,375.0 L1449.5,374.0 L1449.6,373.0 L1449.6,372.0 L1449.7,371.0 L1449.8,370.0 L1449.8,369.0 L1449.9,368.0 L1450.0,367.0 L1450.1,366.0 L1450.2,365.0 L1450.2,364.0 L1450.3,363.0 L1450.4,362.0 L1450.5,361.0 L1450.6,360.0 L1450.7,359.0 L1450.7,358.0 L1450.8,357.0 L1450.9,356.0 L1451.0,355.0 L1451.2,354.1 L1451.3,353.1 L1451.4,352.1 L1451.6,351.1 L1451.8,350.1 L1452.0,349.1 L1452.2,348.1 L1452.4,347.1 L1452.7,346.1 L1453.0,345.0 L1453.5,343.7 L1454.1,342.5 L1454.6,341.6 L1455.1,341.1 L1455.6,341.2 L1456.0,341.7 L1456.4,342.5 L1456.8,343.5 L1457.1,344.6 L1457.5,345.7 L1457.7,346.8 L1457.9,347.9 L1458.1,348.9 L1458.2,349.9 L1458.3,350.9 L1458.4,351.9 L1458.5,352.9 L1458.6,353.9 L1458.7,354.9 L1458.7,355.8 L1458.8,356.8 L1458.9,357.8 L1459.1,358.8 L1459.2,359.8 L1459.4,360.8 L1459.5,361.8 L1459.7,362.8 L1459.9,363.8 L1460.0,364.7 L1460.2,365.7 L1460.4,366.7 L1460.5,367.7 L1460.7,368.7 L1460.9,369.7 L1461.0,370.7 L1461.2,371.6 L1461.4,372.6 L1461.5,373.6 L1461.7,374.6 L1461.9,375.6 L1462.0,376.6 L1462.2,377.6 L1462.3,378.6 L1462.5,379.5 L1462.6,380.5 L1462.8,381.5 L1463.0,382.5 L1463.1,383.5 L1463.3,384.5 L1463.4,385.5 L1463.6,386.5 L1463.7,387.4 L1463.9,388.4 L1464.1,389.4 L1464.2,390.4 L1464.4,391.4 L1464.5,392.4 L1464.7,393.4 L1464.8,394.4 L1465.0,395.3 L1465.1,396.3 L1465.3,397.3 L1465.4,398.3 L1465.6,399.3 L1465.8,400.3 L1465.9,401.3 L1466.1,402.3 L1466.2,403.3 L1466.3,404.2 L1466.5,405.2 L1466.6,406.2 L1466.8,407.2 L1466.9,408.2 L1467.1,409.2 L1467.2,410.2 L1467.4,411.2 L1467.5,412.2 L1467.6,413.1 L1467.8,414.1 L1467.9,415.1 L1468.1,416.1 L1468.2,417.1 L1468.3,418.1 L1468.5,419.1 L1468.6,420.1 L1468.7,421.1 L1468.8,422.1 L1468.9,423.1 L1469.0,424.1 L1469.1,425.1 L1469.2,426.0 L1469.3,427.0 L1469.4,428.0 L1469.5,429.0 L1469.6,430.0 L1469.6,431.0 L1469.7,432.0 L1469.8,433.0 L1469.8,434.0 L1469.9,435.0 L1470.0,436.0 L1470.0,437.0 L1470.1,438.0 L1470.2,439.0 L1470.2,440.0 L1470.3,441.0 L1470.4,442.0 L1470.5,443.0 L1470.5,444.0 L1470.6,445.0 L1470.7,446.0 L1470.8,447.0 L1470.9,448.0 L1471.0,449.0 L1471.1,450.0 L1471.2,451.0 L1471.3,452.0 L1471.4,453.0 L1471.6,453.9 L1471.7,454.9 L1471.8,455.9 L1472.0,456.9 L1472.1,457.9 L1472.2,458.9 L1472.4,459.9 L1472.5,460.9 L1472.6,461.9 L1472.8,462.9 L1472.9,463.9 L1473.0,464.9 L1473.2,465.8 L1473.3,466.8 L1473.4,467.8 L1473.6,468.8 L1473.7,469.8 L1473.8,470.8 L1473.9,471.8 L1474.0,472.8 L1474.1,473.8 L1474.2,474.8 L1474.3,475.8 L1474.4,476.8 L1474.5,477.8 L1474.6,478.8 L1474.7,479.8 L1474.8,480.8 L1474.9,481.8 L1475.0,482.7 L1475.0,483.7 L1475.1,484.7 L1475.2,485.7 L1475.3,486.7 L1475.4,487.7 L1475.5,488.7 L1475.6,489.7 L1475.6,490.7 L1475.7,491.7 L1475.8,492.7 L1475.9,493.7 L1476.0,494.7 L1476.1,495.7 L1476.1,496.7 L1476.2,497.7 L1476.3,498.7 L1476.4,499.7 L1476.5,500.7 L1476.6,501.7 L1476.7,502.7 L1476.8,503.7 L1476.8,504.7 L1476.9,505.7 L1477.0,506.7 L1477.1,507.7 L1477.2,508.7 L1477.3,509.6 L1477.4,510.6 L1477.5,511.6 L1477.6,512.6 L1477.6,513.6 L1477.7,514.6 L1477.8,515.6 L1477.9,516.6 L1478.0,517.6 L1478.1,518.6 L1478.2,519.6 L1478.3,520.6 L1478.4,521.6 L1478.5,522.6 L1478.5,523.6 L1478.6,524.6 L1478.7,525.6 L1478.8,526.6 L1478.9,527.6 L1479.0,528.6 L1479.1,529.6 L1479.2,530.6 L1479.3,531.6 L1479.4,532.6 L1479.5,533.5 L1479.6,534.5 L1479.7,535.5 L1479.8,536.5 L1479.9,537.5 L1480.0,538.5 L1480.1,539.5 L1480.2,540.5 L1480.3,541.5 L1480.5,542.5 L1480.6,543.5 L1480.7,544.5 L1480.8,545.5 L1480.9,546.5 L1481.0,547.5 L1481.2,548.5 L1481.3,549.4 L1481.3,549.7"/>
<path class="c" stroke="#0000ff" stroke-width="10.2" d="M205.8,928.1 L206.8,928.1 L207.8,928.0 L208.8,928.0 L209.8,927.9 L210.8,927.9 L211.8,927.8 L212.8,927.8 L213.8,927.7 L214.8,927.7 L215.8,927.6 L216.8,927.6 L217.8,927.5 L218.8,927.5 L219.8,927.4 L220.8,927.4 L221.8,927.3 L222.8,927.3 L223.8,927.2 L224.8,927.2 L225.8,927.1 L226.8,927.0 L227.8,927.0 L228.8,926.9 L229.8,926.9 L230.8,926.8 L231.8,926.8 L232.8,926.7 L233.8,926.6 L234.8,926.6 L235.8,926.5 L236.8,926.5 L237.8,926.4 L238.8,926.3 L239.8,926.3 L240.8,926.2 L241.8,926.2 L242.8,926.1 L243.8,926.0 L244.8,926.0 L245.8,925.9 L246.8,925.8 L247.8,925.8 L248.8,925.7 L249.8,925.7 L250.8,925.6 L251.8,925.5 L252.8,925.5 L253.8,925.4 L254.8,925.4 L255.8,925.3 L256.8,925.3 L257.8,925.2 L258.8,925.1 L259.8,925.1 L260.7,925.0 L261.7,925.0 L262.7,925.0 L263.7,924.9 L264.7,924.9 L265.7,924.8 L266.7,924.8 L267.7,924.7 L268.7,924.7 L269.7,924.6 L270.7,924.6 L271.7,924.5 L272.7,924.5 L273.7,924.4 L274.7,924.4 L275.7,924.3 L276.7,924.3 L277.7,924.2 L278.7,924.2 L279.7,924.1 L280.7,924.0 L281.7,923.9 L282.7,923.6 L283.6,923.3 L284.5,922.9 L285.5,922.5 L286.4,921.9 L287.2,921.3 L288.0,920.6 L288.8,919.8 L289.4,919.1 L290.0,918.2 L290.5,917.4 L290.9,916.5 L291.3,915.5 L291.6,914.6 L291.8,913.6 L292.1,912.6 L292.3,911.7 L292.5,910.7 L292.7,909.7 L292.8,908.7 L293.0,907.7 L293.1,906.7 L293.3,905.8 L293.5,904.8 L293.7,903.8 L293.9,902.8 L294.1,901.8 L294.3,900.8 L294.6,899.7 L294.8,898.5 L295.0,897.3 L295.2,896.1 L295.5,895.1 L295.9,894.2 L296.3,893.5 L296.7,893.1 L297.3,893.3 L298.0,894.0 L298.6,895.0 L299.3,896.0 L299.9,896.9 L300.5,897.7 L301.1,898.5 L301.7,899.4 L302.3,900.2 L302.9,901.0 L303.5,901.6 L304.2,901.9 L305.1,901.7 L305.9,901.1 L306.8,900.2 L307.7,899.1 L308.4,898.1 L309.0,897.2 L309.5,896.3 L310.1,895.5 L310.6,894.6 L311.1,893.7 L311.6,892.9 L312.1,892.0 L312.6,891.1 L313.0,890.2 L313.5,889.4 L313.9,888.5 L314.4,887.6 L314.9,886.7 L315.3,885.8 L315.7,885.0 L316.2,884.1 L316.6,883.2 L317.1,882.3 L317.5,881.4 L317.9,880.5 L318.4,879.6 L318.8,878.7 L319.2,877.7 L319.6,876.8 L320.0,875.9 L320.4,875.0 L320.8,874.1 L321.2,873.2 L321.6,872.3 L322.0,871.4 L322.4,870.5 L322.8,869.5 L323.3,868.6 L323.7,867.7 L324.1,866.8 L324.6,865.9 L325.1,865.0 L325.6,864.2 L326.2,863.4 L326.8,862.6 L327.5,861.9 L328.3,861.2 L329.1,860.6 L329.9,860.0 L330.9,859.5 L331.9,859.1 L332.9,858.9 L333.9,858.8 L334.9,858.9 L335.9,859.0 L336.9,859.2 L337.8,859.6 L338.6,860.0 L339.5,860.6 L340.4,861.1 L341.3,861.6 L342.2,862.0 L343.2,862.3 L344.2,862.5 L345.1,862.7 L346.1,862.9 L347.1,863.1 L348.1,863.3 L349.1,863.4 L350.1,863.5 L351.1,863.6 L352.1,863.6 L353.1,863.7 L354.1,863.7 L355.1,863.6 L356.1,863.6 L357.1,863.6 L358.0,863.5 L359.0,863.4 L360.0,863.3 L361.0,863.1 L362.0,863.0 L363.0,862.7 L364.0,862.5 L365.0,862.2 L365.9,861.8 L366.9,861.4 L367.8,861.0 L368.7,860.6 L369.6,860.2 L370.5,859.9 L371.4,859.5 L372.4,859.2 L373.3,858.9 L374.3,858.5 L375.2,858.2 L376.2,857.9 L377.1,857.6 L378.1,857.3 L379.1,857.1 L380.0,856.8 L381.0,856.5 L381.9,856.2 L382.9,855.9 L383.9,855.7 L384.8,855.4 L385.8,855.1 L386.8,854.9 L387.7,854.6 L388.7,854.4 L389.7,854.2 L390.7,854.0 L391.6,853.8 L392.6,853.6 L393.6,853.4 L394.6,853.3 L395.6,853.1 L396.6,853.0 L397.6,852.9 L398.6,852.9 L399.6,852.8 L400.6,852.8 L401.6,852.8 L402.6,852.7 L403.6,852.7 L404.6,852.7 L405.6,852.6 L406.6,852.6 L407.6,852.5 L408.6,852.4 L409.6,852.2 L410.6,852.1 L411.5,852.0 L412.5,851.9 L413.5,851.8 L414.5,851.7 L415.5,851.6 L416.5,851.5 L417.5,851.4 L418.5,851.2 L419.5,851.1 L420.5,851.0 L421.5,850.8 L422.5,850.7 L423.5,850.6 L424.4,850.4 L425.4,850.3 L426.4,850.1 L427.4,849.9 L428.4,849.8 L429.4,849.6 L430.4,849.4 L431.3,849.2 L432.3,849.1 L433.3,848.9 L434.3,848.7 L435.3,848.6 L436.3,848.4 L437.3,848.2 L438.3,848.1 L439.2,847.9 L440.2,847.8 L441.2,847.7 L442.2,847.5 L443.2,847.4 L444.2,847.3 L445.2,847.2 L446.2,847.1 L447.2,847.0 L448.2,846.9 L449.2,846.8 L450.2,846.7 L451.2,846.7 L452.2,846.6 L453.2,846.5 L454.2,846.5 L455.2,846.5 L456.2,846.4 L457.2,846.4 L458.2,846.4 L459.2,846.4 L460.2,846.4 L461.2,846.5 L462.2,846.5 L463.2,846.5 L464.2,846.6 L465.2,846.6 L466.2,846.7 L467.2,846.8 L468.2,846.8 L469.2,846.9 L470.2,847.0 L471.2,847.1 L472.2,847.1 L473.2,847.2 L474.2,847.3 L475.2,847.4 L476.2,847.4 L477.2,847.5 L478.1,847.6 L479.1,847.7 L480.1,847.8 L481.1,847.9 L482.1,848.0 L483.1,848.1 L484.1,848.2 L485.1,848.3 L486.1,848.5 L487.1,848.7 L488.1,848.8 L489.1,849.1 L490.0,849.3 L491.0,849.5 L492.0,849.8 L492.9,850.0 L493.9,850.3 L494.9,850.6 L495.8,850.9 L496.8,851.1 L497.7,851.4 L498.7,851.7 L499.6,852.1 L500.6,852.4 L501.5,852.7 L502.5,853.0 L503.4,853.3 L504.4,853.6 L505.3,853.9 L506.3,854.3 L507.2,854.6 L508.2,854.9 L509.1,855.2 L510.1,855.5 L511.0,855.9 L512.0,856.2 L512.9,856.5 L513.9,856.8 L514.8,857.2 L515.8,857.5 L516.7,857.8 L517.6,858.1 L518.6,858.5 L519.5,858.8 L520.5,859.1 L521.4,859.5 L522.4,859.8 L523.3,860.1 L524.2,860.5 L525.2,860.8 L526.1,861.1 L527.1,861.5 L528.0,861.8 L528.9,862.2 L529.9,862.5 L530.8,862.9 L531.8,863.2 L532.7,863.5 L533.6,863.9 L534.6,864.2 L535.5,864.6 L536.5,864.9 L537.4,865.3 L538.3,865.6 L539.3,866.0 L540.2,866.4 L541.2,866.7 L542.1,867.1 L543.0,867.5 L543.9,867.8 L544.9,868.2 L545.8,868.6 L546.7,869.0 L547.6,869.4 L548.5,869.8 L549.4,870.3 L550.3,870.7 L551.2,871.2 L552.1,871.6 L553.0,872.1 L553.9,872.6 L554.8,873.0 L555.6,873.5 L556.5,874.1 L557.3,874.6 L558.2,875.1 L559.0,875.7 L559.9,876.2 L560.7,876.8 L561.5,877.4 L562.4,877.9 L563.2,878.5 L564.0,879.1 L564.8,879.7 L565.6,880.2 L566.4,880.8 L567.2,881.4 L568.0,882.0 L568.9,882.6 L569.7,883.2 L570.5,883.8 L571.3,884.4 L572.1,885.0 L572.9,885.6 L573.7,886.1 L574.5,886.7 L575.3,887.3 L576.1,887.9 L576.9,888.5 L577.7,889.1 L578.5,889.7 L579.3,890.3 L580.1,890.9 L580.9,891.5 L581.7,892.1 L582.5,892.8 L583.3,893.4 L584.0,894.0 L584.9,894.6 L585.7,895.2 L586.5,895.7 L587.3,896.3 L588.2,896.8 L589.1,897.2 L590.0,897.5 L591.0,897.7 L592.0,897.9 L593.0,898.0 L594.0,898.1 L595.1,898.1 L596.1,898.2 L597.1,898.3 L598.1,898.5 L599.1,898.7 L600.0,899.0 L601.0,899.3 L601.9,899.7 L602.8,900.1 L603.7,900.6 L604.6,901.1 L605.5,901.5 L606.3,902.0 L607.2,902.5 L608.2,902.9 L609.1,903.2 L610.0,903.6 L611.0,903.8 L612.0,904.0 L613.0,904.1 L614.0,904.2 L615.0,904.2 L616.0,904.3 L617.0,904.3 L618.0,904.4 L619.0,904.6 L619.9,904.8 L620.9,905.1 L621.9,905.3 L622.8,905.6 L623.8,905.9 L624.7,906.2 L625.7,906.5 L626.7,906.8 L627.6,907.1 L628.6,907.3 L629.5,907.6 L630.5,907.9 L631.5,908.1 L632.4,908.4 L633.4,908.6 L634.4,908.9 L635.4,909.1 L636.3,909.3 L637.3,909.6 L638.3,909.8 L639.2,910.1 L640.2,910.3 L641.2,910.6 L642.1,910.8 L643.1,911.0 L644.1,911.3 L645.1,911.5 L646.0,911.8 L647.0,912.0 L648.0,912.3 L648.9,912.5 L649.9,912.7 L650.9,913.0 L651.8,913.2 L652.8,913.5 L653.8,913.7 L654.8,914.0 L655.7,914.2 L656.7,914.4 L657.7,914.7 L658.6,914.9 L659.6,915.2 L660.6,915.4 L661.5,915.7 L662.5,915.9 L663.5,916.1 L664.5,916.4 L665.4,916.6 L666.4,916.9 L667.4,917.1 L668.3,917.3 L669.3,917.6 L670.3,917.8 L671.2,918.1 L672.2,918.3 L673.2,918.6 L674.2,918.8 L675.1,919.0 L676.1,919.3 L677.1,919.5 L678.1,919.7 L679.0,919.9 L680.0,920.1 L681.0,920.3 L682.0,920.5 L683.0,920.7 L683.9,920.9 L684.9,921.0 L685.9,921.2 L686.9,921.4 L687.9,921.6 L688.9,921.7 L689.9,921.9 L690.8,922.0 L691.8,922.2 L692.8,922.4 L693.8,922.5 L694.8,922.7 L695.8,922.9 L696.8,923.0 L697.8,923.2 L698.7,923.3 L699.7,923.5 L700.7,923.7 L701.7,923.8 L702.7,924.0 L703.7,924.1 L704.7,924.3 L705.7,924.4 L706.6,924.6 L707.6,924.7 L708.6,924.9 L709.6,925.0 L710.6,925.1 L711.6,925.3 L712.6,925.4 L713.6,925.6 L714.6,925.7 L715.6,925.8 L716.5,926.0 L717.5,926.1 L718.5,926.2 L719.5,926.4 L720.5,926.5 L721.5,926.6 L722.5,926.7 L723.5,926.8 L724.5,926.9 L725.5,927.1 L726.5,927.2 L727.5,927.3 L728.5,927.4 L729.5,927.4 L730.5,927.5 L731.5,927.6 L732.5,927.7 L733.5,927.8 L734.5,927.9 L735.4,927.9 L736.4,928.0 L737.4,928.1 L738.4,928.1 L739.4,928.2 L740.4,928.3 L741.4,928.3 L742.4,928.3 L743.4,928.3 L744.4,928.3 L745.4,928.3 L746.4,928.3 L747.4,928.3 L748.4,928.3 L749.4,928.3 L750.4,928.3 L751.4,928.3 L752.4,928.3 L753.4,928.2 L754.4,928.2 L755.4,928.2 L756.4,928.2 L757.4,928.1 L758.4,928.1 L759.4,928.1 L760.4,928.1 L761.4,928.1 L762.4,928.1 L763.4,928.0 L764.4,928.0 L765.4,927.9 L766.4,927.8 L767.4,927.7 L768.4,927.6 L769.4,927.4 L770.4,927.3 L771.4,927.0 L772.4,926.8 L773.3,926.5 L774.2,926.0 L775.0,925.3 L775.7,924.6 L776.4,923.8 L777.0,922.9 L777.5,922.0 L777.9,921.1 L778.3,920.1 L778.6,919.2 L778.9,918.2 L779.2,917.2 L779.4,916.3 L779.7,915.3 L779.9,914.3 L780.1,913.3 L780.3,912.4 L780.5,911.4 L780.7,910.4 L780.9,909.4 L781.2,908.5 L781.5,907.5 L781.8,906.6 L782.2,905.6 L782.5,904.7 L782.9,903.7 L783.3,902.8 L783.7,901.9 L784.2,901.0 L784.7,900.2 L785.3,899.4 L786.0,898.7 L787.0,898.5 L788.1,898.7 L789.1,899.2 L790.0,899.7 L790.8,900.4 L791.5,901.1 L792.2,901.8 L793.0,902.4 L793.8,903.0 L794.7,903.3 L795.7,903.5 L796.8,903.7 L797.8,904.0 L798.6,904.5 L799.3,905.2 L799.9,906.0 L800.4,906.9 L800.8,907.8 L801.3,908.7 L801.7,909.6 L802.1,910.5 L802.5,911.4 L802.9,912.3 L803.3,913.2 L803.8,914.1 L804.3,915.0 L804.9,915.8 L805.4,916.7 L805.9,917.5 L806.4,918.3 L807.0,919.2 L807.6,920.0 L808.2,920.8 L808.8,921.5 L809.6,922.3 L810.3,923.0 L811.2,923.6 L812.1,924.1 L813.0,924.5 L814.0,924.8 L814.9,924.9 L815.9,925.1 L816.9,925.2 L817.9,925.3 L818.9,925.4 L819.9,925.5 L820.9,925.6 L821.9,925.7 L822.9,925.8 L823.9,925.9 L824.9,926.0 L825.9,926.0 L826.9,926.1 L827.9,926.1 L828.9,926.2 L829.9,926.3 L830.9,926.3 L831.9,926.4 L832.9,926.4 L833.9,926.5 L834.9,926.6 L835.9,926.6 L836.9,926.7 L837.9,926.7 L838.9,926.8 L839.9,926.8 L840.9,926.9 L841.9,926.9 L842.9,927.0 L843.9,927.0 L844.9,927.1 L845.9,927.1 L846.9,927.2 L847.9,927.2 L848.9,927.2 L849.9,927.3 L850.9,927.3 L851.9,927.3 L852.9,927.3 L853.9,927.4 L854.9,927.4 L855.9,927.4 L856.9,927.3 L857.9,927.3 L858.8,927.3 L859.8,927.2 L860.8,927.2 L861.8,927.1 L862.8,927.1 L863.8,927.0 L864.8,926.9 L865.8,926.9 L866.8,926.8 L867.8,926.7 L868.8,926.6 L869.8,926.5 L870.8,926.4 L871.8,926.3 L872.8,926.2 L873.8,926.0 L874.8,925.9 L875.8,925.8 L876.8,925.7 L877.8,925.6 L878.8,925.4 L879.8,925.3 L880.8,925.1 L881.8,924.9 L882.7,924.7 L883.7,924.5 L884.7,924.2 L885.6,923.8 L886.5,923.4 L887.5,923.0 L888.4,922.5 L889.2,922.0 L890.1,921.4 L890.9,920.9 L891.8,920.3 L892.6,919.7 L893.3,919.1 L894.1,918.5 L894.9,917.9 L895.7,917.3 L896.5,916.7 L897.3,916.0 L898.0,915.4 L898.8,914.8 L899.5,914.1 L900.3,913.4 L901.0,912.8 L901.7,912.1 L902.5,911.4 L903.2,910.7 L903.9,910.1 L904.7,909.4 L905.4,908.7 L906.2,908.1 L907.0,907.5 L907.8,906.8 L908.6,906.2 L909.4,905.6 L910.3,905.1 L911.2,904.6 L912.1,904.1 L913.0,903.7 L913.9,903.4 L914.9,903.1 L915.9,902.9 L916.9,902.7 L917.9,902.6 L918.9,902.5 L919.9,902.5 L920.9,902.4 L921.9,902.4 L922.9,902.4 L923.9,902.4 L924.9,902.4 L925.9,902.4 L926.9,902.4 L927.9,902.4 L928.9,902.5 L929.9,902.6 L930.9,902.7 L931.9,902.8 L932.9,902.9 L933.8,903.0 L934.8,903.0 L935.8,903.0 L936.8,902.9 L937.8,902.7 L938.8,902.4 L939.6,902.0 L940.5,901.5 L941.3,900.9 L942.1,900.2 L942.9,899.5 L943.7,898.8 L944.4,898.0 L945.1,897.3 L945.8,896.5 L946.4,895.8 L947.0,895.0 L947.6,894.2 L948.1,893.3 L948.7,892.5 L949.2,891.7 L949.8,890.9 L950.3,890.0 L950.9,889.2 L951.5,888.4 L952.2,887.7 L952.9,886.9 L953.6,886.1 L954.4,885.4 L955.2,884.7 L956.0,884.1 L956.8,883.5 L957.7,883.0 L958.5,882.6 L959.4,882.2 L960.3,882.1 L961.3,882.1 L962.3,882.3 L963.3,882.7 L964.3,883.1 L965.2,883.7 L966.1,884.4 L966.8,885.0 L967.6,885.7 L968.3,886.5 L969.0,887.2 L969.7,887.9 L970.3,888.6 L971.0,889.3 L971.7,890.1 L972.4,890.8 L973.1,891.5 L973.8,892.1 L974.6,892.8 L975.3,893.5 L976.0,894.2 L976.8,894.8 L977.5,895.5 L978.3,896.1 L979.1,896.8 L979.8,897.4 L980.6,898.0 L981.5,898.6 L982.3,899.2 L983.2,899.7 L984.1,900.2 L985.0,900.6 L985.9,901.0 L986.9,901.3 L987.8,901.6 L988.8,901.9 L989.8,902.1 L990.7,902.3 L991.7,902.5 L992.7,902.6 L993.7,902.8 L994.7,903.0 L995.7,903.1 L996.7,903.3 L997.6,903.4 L998.6,903.6 L999.6,903.7 L1000.6,903.8 L1001.6,903.8 L1002.6,903.9 L1003.6,903.8 L1004.6,903.7 L1005.6,903.6 L1006.6,903.4 L1007.6,903.1 L1008.6,902.7 L1009.5,902.2 L1010.4,901.8 L1011.3,901.3 L1012.2,900.8 L1013.0,900.3 L1013.9,899.8 L1014.7,899.2 L1015.5,898.6 L1016.3,898.0 L1017.1,897.4 L1017.9,896.8 L1018.7,896.2 L1019.5,895.6 L1020.2,895.0 L1021.0,894.3 L1021.8,893.7 L1022.6,893.1 L1023.3,892.4 L1024.1,891.8 L1024.9,891.1 L1025.6,890.5 L1026.3,889.8 L1027.1,889.1 L1027.8,888.4 L1028.5,887.7 L1029.1,887.0 L1029.8,886.2 L1030.4,885.5 L1031.1,884.7 L1031.7,884.0 L1032.3,883.2 L1033.0,882.4 L1033.6,881.7 L1034.2,880.9 L1034.9,880.1 L1035.6,879.4 L1036.3,878.6 L1037.0,877.9 L1037.7,877.1 L1038.5,876.4 L1039.4,875.6 L1040.2,874.8 L1041.1,874.1 L1042.0,873.4 L1042.9,872.8 L1043.8,872.4 L1044.6,872.0 L1045.5,871.9 L1046.3,871.9 L1047.1,872.1 L1047.8,872.5 L1048.5,873.2 L1049.2,873.9 L1049.9,874.8 L1050.5,875.8 L1051.1,876.7 L1051.7,877.7 L1052.2,878.6 L1052.7,879.5 L1053.1,880.4 L1053.5,881.4 L1053.8,882.3 L1054.1,883.2 L1054.4,884.2 L1054.8,885.1 L1055.1,886.0 L1055.4,887.0 L1055.7,887.9 L1056.1,888.8 L1056.4,889.8 L1056.9,890.7 L1057.3,891.6 L1057.8,892.5 L1058.2,893.3 L1058.7,894.2 L1059.2,895.1 L1059.7,895.9 L1060.2,896.7 L1060.8,897.5 L1061.5,898.3 L1062.2,899.0 L1063.0,899.7 L1063.9,900.4 L1064.8,901.0 L1065.8,901.4 L1066.8,901.7 L1067.8,901.9 L1068.8,902.0 L1069.8,902.0 L1070.9,901.9 L1071.8,901.8 L1072.8,901.6 L1073.8,901.4 L1074.7,901.2 L1075.7,900.9 L1076.6,900.5 L1077.5,900.2 L1078.5,899.8 L1079.4,899.4 L1080.4,899.0 L1081.3,898.6 L1082.3,898.2 L1083.2,897.9 L1084.2,897.6 L1085.1,897.3 L1086.1,897.1 L1087.1,896.9 L1088.0,896.8 L1089.0,896.7 L1090.0,896.6 L1091.0,896.6 L1092.0,896.6 L1093.0,896.6 L1094.0,896.6 L1095.0,896.6 L1096.0,896.6 L1097.0,896.6 L1098.0,896.6 L1099.0,896.5 L1100.0,896.5 L1101.1,896.5 L1102.0,896.4 L1103.0,896.3 L1104.0,896.2 L1105.0,896.0 L1106.0,895.9 L1107.0,895.7 L1108.0,895.5 L1109.0,895.4 L1109.9,895.2 L1110.9,895.0 L1111.9,894.7 L1112.9,894.5 L1113.8,894.3 L1114.8,894.0 L1115.8,893.7 L1116.8,893.5 L1117.7,893.1 L1118.6,892.8 L1119.6,892.5 L1120.5,892.1 L1121.4,891.7 L1122.3,891.3 L1123.3,890.9 L1124.2,890.5 L1125.1,890.0 L1126.0,889.6 L1126.9,889.1 L1127.7,888.6 L1128.6,888.1 L1129.4,887.6 L1130.3,887.0 L1131.1,886.4 L1131.9,885.9 L1132.7,885.3 L1133.5,884.6 L1134.2,884.0 L1135.0,883.3 L1135.8,882.6 L1136.5,881.9 L1137.3,881.2 L1138.0,880.5 L1138.7,879.8 L1139.4,879.0 L1140.0,878.3 L1140.7,877.5 L1141.2,876.7 L1141.8,875.9 L1142.3,875.0 L1142.8,874.1 L1143.2,873.2 L1143.7,872.3 L1144.0,871.4 L1144.4,870.5 L1144.8,869.5 L1145.2,868.6 L1145.6,867.7 L1146.0,866.8 L1146.3,865.8 L1146.7,864.9 L1147.1,864.0 L1147.4,863.0 L1147.8,862.1 L1148.1,861.2 L1148.5,860.2 L1148.8,859.3 L1149.1,858.4 L1149.5,857.4 L1149.8,856.5 L1150.2,855.5 L1150.5,854.6 L1150.8,853.6 L1151.1,852.7 L1151.5,851.8 L1151.8,850.8 L1152.1,849.9 L1152.4,848.9 L1152.7,848.0 L1153.1,847.0 L1153.4,846.1 L1153.7,845.1 L1154.0,844.2 L1154.4,843.2 L1154.7,842.3 L1155.0,841.3 L1155.3,840.4 L1155.6,839.4 L1155.9,838.5 L1156.3,837.5 L1156.6,836.6 L1156.9,835.6 L1157.2,834.7 L1157.5,833.7 L1157.8,832.8 L1158.0,831.8 L1158.3,830.9 L1158.6,829.9 L1158.8,828.9 L1159.1,828.0 L1159.4,827.0 L1159.6,826.0 L1159.8,825.0 L1160.1,824.1 L1160.3,823.1 L1160.5,822.1 L1160.7,821.1 L1160.9,820.2 L1161.1,819.2 L1161.3,818.2 L1161.5,817.2 L1161.7,816.2 L1161.9,815.3 L1162.1,814.3 L1162.2,813.3 L1162.4,812.3 L1162.6,811.3 L1162.7,810.3 L1162.9,809.3 L1163.1,808.3 L1163.2,807.4 L1163.4,806.4 L1163.5,805.4 L1163.7,804.4 L1163.8,803.4 L1164.0,802.4 L1164.1,801.4 L1164.3,800.4 L1164.4,799.4 L1164.6,798.5 L1164.7,797.5 L1164.8,796.5 L1165.0,795.5 L1165.1,794.5 L1165.2,793.5 L1165.4,792.5 L1165.5,791.5 L1165.6,790.5 L1165.7,789.5 L1165.8,788.5 L1165.9,787.5 L1166.0,786.5 L1166.1,785.6 L1166.2,784.6 L1166.3,783.6 L1166.4,782.6 L1166.5,781.6 L1166.6,780.6 L1166.7,779.6 L1166.8,778.6 L1166.9,777.6 L1167.0,776.6 L1167.1,775.6 L1167.2,774.6 L1167.3,773.6 L1167.4,772.6 L1167.5,771.6 L1167.6,770.6 L1167.7,769.6 L1167.8,768.6 L1167.9,767.6 L1168.0,766.6 L1168.1,765.6 L1168.1,764.7 L1168.2,763.7 L1168.3,762.7 L1168.4,761.7 L1168.5,760.7 L1168.6,759.7 L1168.7,758.7 L1168.8,757.7 L1168.9,756.7 L1169.0,755.7 L1169.1,754.7 L1169.1,753.7 L1169.2,752.7 L1169.3,751.7 L1169.4,750.7 L1169.5,749.7 L1169.6,748.7 L1169.7,747.7 L1169.7,746.7 L1169.8,745.7 L1169.9,744.7 L1170.0,743.7 L1170.1,742.7 L1170.2,741.7 L1170.3,740.7 L1170.3,739.7 L1170.4,738.8 L1170.5,737.8 L1170.6,736.8 L1170.7,735.8 L1170.8,734.8 L1170.9,733.8 L1170.9,732.8 L1171.0,731.8 L1171.1,730.8 L1171.2,729.8 L1171.3,728.8 L1171.3,727.8 L1171.4,726.8 L1171.5,725.8 L1171.6,724.8 L1171.7,723.8 L1171.7,722.8 L1171.8,721.8 L1171.9,720.8 L1172.0,719.8 L1172.0,718.8 L1172.1,717.8 L1172.2,716.8 L1172.3,715.8 L1172.3,714.8 L1172.4,713.8 L1172.5,712.8 L1172.6,711.8 L1172.6,710.8 L1172.7,709.8 L1172.8,708.8 L1172.8,707.8 L1172.9,706.8 L1173.0,705.8 L1173.0,704.9 L1173.1,703.9 L1173.1,702.9 L1173.2,701.9 L1173.3,700.9 L1173.3,699.9 L1173.4,698.9 L1173.4,697.9 L1173.5,696.9 L1173.6,695.9 L1173.6,694.9 L1173.7,693.9 L1173.7,692.9 L1173.8,691.9 L1173.8,690.9 L1173.9,689.9 L1173.9,688.9 L1174.0,687.9 L1174.0,686.9 L1174.0,685.9 L1174.1,684.9 L1174.1,683.9 L1174.2,682.9 L1174.2,681.9 L1174.3,680.9 L1174.3,679.9 L1174.3,678.9 L1174.4,677.9 L1174.4,676.9 L1174.5,675.9 L1174.5,674.9 L1174.5,673.9 L1174.6,672.9 L1174.6,671.9 L1174.6,670.9 L1174.7,669.9 L1174.7,668.9 L1174.7,667.9 L1174.8,666.9 L1174.8,665.9 L1174.8,664.9 L1174.8,663.9 L1174.9,662.9 L1174.9,661.9 L1174.9,660.9 L1174.9,659.9 L1175.0,658.9 L1175.0,657.9 L1175.0,656.9 L1175.1,655.9 L1175.1,654.9 L1175.1,653.9 L1175.2,652.9 L1175.2,651.9 L1175.2,650.9 L1175.3,649.9 L1175.3,648.9 L1175.3,647.9 L1175.4,646.9 L1175.4,645.9 L1175.5,644.9 L1175.5,643.9 L1175.6,642.9 L1175.6,641.9 L1175.6,640.9 L1175.7,639.9 L1175.7,638.9 L1175.8,637.9 L1175.8,636.9 L1175.9,635.9 L1175.9,634.9 L1176.0,633.9 L1176.0,632.9 L1176.1,631.9 L1176.1,630.9 L1176.2,629.9 L1176.2,628.9 L1176.3,627.9 L1176.3,626.9 L1176.4,625.9 L1176.4,624.9 L1176.5,623.9 L1176.5,622.9 L1176.6,621.9 L1176.6,620.9 L1176.6,619.9 L1176.7,618.9 L1176.7,617.9 L1176.8,616.9 L1176.8,615.9 L1176.9,614.9 L1176.9,613.9 L1177.0,612.9 L1177.0,611.9 L1177.0,610.9 L1177.1,609.9 L1177.1,608.9 L1177.1,607.9 L1177.2,606.9 L1177.2,605.9 L1177.3,604.9 L1177.3,603.9 L1177.3,602.9 L1177.4,601.9 L1177.4,600.9 L1177.4,599.9 L1177.5,598.9 L1177.5,597.9 L1177.5,596.9 L1177.6,595.9 L1177.6,594.9 L1177.6,594.0 L1177.7,593.0 L1177.7,592.0 L1177.7,591.0 L1177.8,590.0 L1177.8,589.0 L1177.8,588.0 L1177.9,587.0 L1177.9,586.0 L1177.9,585.0 L1178.0,584.0 L1178.0,583.0 L1178.0,582.0 L1178.1,581.0 L1178.1,580.0 L1178.1,579.0 L1178.2,578.0 L1178.2,577.0 L1178.3,576.0 L1178.3,575.0 L1178.3,574.0 L1178.4,573.0 L1178.4,572.0 L1178.4,571.0 L1178.5,570.0 L1178.5,569.0 L1178.6,568.0 L1178.6,567.0 L1178.6,566.0 L1178.7,565.0 L1178.7,564.0 L1178.8,563.0 L1178.8,562.0 L1178.8,561.0 L1178.9,560.0 L1178.9,559.0 L1179.0,558.0 L1179.0,557.0 L1179.0,556.0 L1179.1,555.0 L1179.1,554.0 L1179.2,553.0 L1179.2,552.0 L1179.2,551.0 L1179.3,550.0 L1179.3,549.0 L1179.4,548.0 L1179.4,547.0 L1179.4,546.0 L1179.5,545.0 L1179.5,544.0 L1179.6,543.0 L1179.6,542.0 L1179.6,541.0 L1179.7,540.0 L1179.7,539.0 L1179.8,538.0 L1179.8,537.0 L1179.8,536.0 L1179.9,535.0 L1179.9,534.0 L1180.0,533.0 L1180.0,532.0 L1180.0,531.0 L1180.1,530.0 L1180.1,529.0 L1180.2,528.0 L1180.2,527.0 L1180.2,526.0 L1180.3,525.0 L1180.3,524.0 L1180.4,523.0 L1180.4,522.0 L1180.5,521.0 L1180.5,520.0 L1180.5,519.0 L1180.6,518.0 L1180.6,517.0 L1180.7,516.0 L1180.7,515.0 L1180.7,514.0 L1180.8,513.0 L1180.8,512.0 L1180.9,511.0 L1180.9,510.0 L1181.0,509.0 L1181.0,508.0 L1181.0,507.0 L1181.1,506.0 L1181.1,505.0 L1181.2,504.0 L1181.2,503.0 L1181.3,502.0 L1181.3,501.0 L1181.4,500.0 L1181.4,499.0 L1181.4,498.0 L1181.5,497.0 L1181.5,496.0 L1181.6,495.0 L1181.6,494.0 L1181.7,493.0 L1181.7,492.0 L1181.7,491.0 L1181.8,490.0 L1181.8,489.0 L1181.9,488.0 L1181.9,487.0 L1182.0,486.0 L1182.0,485.0 L1182.1,484.0 L1182.2,483.0 L1182.2,482.0 L1182.3,481.0 L1182.3,480.0 L1182.4,479.1 L1182.5,478.1 L1182.5,477.1 L1182.6,476.1 L1182.6,475.1 L1182.7,474.1 L1182.8,473.1 L1182.8,472.1 L1182.9,471.1 L1182.9,470.1 L1183.0,469.1 L1183.1,468.1 L1183.1,467.1 L1183.2,466.1 L1183.2,465.1 L1183.2,464.1 L1183.3,463.1 L1183.3,462.1 L1183.4,461.1 L1183.4,460.1 L1183.4,459.1 L1183.5,458.1 L1183.5,457.1 L1183.6,456.1 L1183.6,455.1 L1183.6,454.1 L1183.7,453.1 L1183.7,452.1 L1183.8,451.1 L1183.8,450.1 L1183.8,449.1 L1183.9,448.1 L1183.9,447.1 L1183.9,446.1 L1184.0,445.1 L1184.0,444.1 L1184.0,443.1 L1184.1,442.1 L1184.1,441.1 L1184.2,440.1 L1184.2,439.1 L1184.2,438.1 L1184.3,437.1 L1184.3,436.1 L1184.3,435.1 L1184.4,434.1 L1184.4,433.1 L1184.4,432.1 L1184.5,431.1 L1184.5,430.1 L1184.5,429.1 L1184.6,428.1 L1184.6,427.1 L1184.6,426.1 L1184.7,425.1 L1184.7,424.1 L1184.7,423.1 L1184.7,422.1 L1184.8,421.1 L1184.8,420.1 L1184.8,419.1 L1184.9,418.1 L1184.9,417.1 L1184.9,416.1 L1184.9,415.1 L1185.0,414.1 L1185.0,413.1 L1185.0,412.1 L1185.1,411.1 L1185.1,410.1 L1185.1,409.1 L1185.2,408.1 L1185.2,407.1 L1185.2,406.1 L1185.3,405.1 L1185.3,404.1 L1185.3,403.1 L1185.4,402.1 L1185.4,401.1 L1185.5,400.1 L1185.5,399.1 L1185.5,398.1 L1185.6,397.1 L1185.6,396.1 L1185.7,395.1 L1185.7,394.1 L1185.8,393.1 L1185.9,392.1 L1185.9,391.1 L1186.0,390.1 L1186.0,389.1 L1186.1,388.1 L1186.2,387.1 L1186.2,386.1 L1186.3,385.1 L1186.4,384.1 L1186.5,383.1 L1186.5,382.1 L1186.6,381.2 L1186.7,380.2 L1186.8,379.2 L1186.9,378.2 L1186.9,377.2 L1187.0,376.2 L1187.1,375.2 L1187.2,374.2 L1187.3,373.2 L1187.4,372.2 L1187.5,371.2 L1187.5,370.2 L1187.6,369.2 L1187.7,368.2 L1187.8,367.2 L1187.9,366.2 L1188.0,365.2 L1188.1,364.2 L1188.2,363.2 L1188.2,362.2 L1188.3,361.2 L1188.4,360.2 L1188.5,359.2 L1188.6,358.2 L1188.7,357.2 L1188.8,356.2 L1188.9,355.2 L1189.0,354.2 L1189.1,353.3 L1189.1,352.3 L1189.2,351.3 L1189.3,350.3 L1189.4,349.3 L1189.5,348.3 L1189.6,347.3 L1189.7,346.3 L1189.8,345.3 L1189.9,344.3 L1190.0,343.3 L1190.1,342.3 L1190.2,341.3 L1190.3,340.3 L1190.4,339.3 L1190.5,338.3 L1190.6,337.3 L1190.7,336.3 L1190.8,335.3 L1190.9,334.3 L1191.0,333.3 L1191.1,332.4 L1191.2,331.4 L1191.3,330.4 L1191.4,329.4 L1191.5,328.4 L1191.6,327.4 L1191.7,326.4 L1191.8,325.4 L1192.0,324.4 L1192.1,323.4 L1192.2,322.4 L1192.3,321.4 L1192.4,320.4 L1192.5,319.4 L1192.6,318.4 L1192.8,317.4 L1192.9,316.4 L1193.0,315.5 L1193.1,314.5 L1193.2,313.5 L1193.4,312.5 L1193.5,311.5 L1193.6,310.5 L1193.7,309.5 L1193.9,308.5 L1194.0,307.5 L1194.1,306.5 L1194.2,305.5 L1194.4,304.5 L1194.5,303.6 L1194.6,302.6 L1194.8,301.6 L1194.9,300.6 L1195.1,299.6 L1195.2,298.6 L1195.3,297.6 L1195.5,296.6 L1195.6,295.6 L1195.8,294.6 L1195.9,293.6 L1196.1,292.7 L1196.2,291.7 L1196.4,290.7 L1196.5,289.7 L1196.7,288.7 L1196.8,287.7 L1197.0,286.7 L1197.1,285.7 L1197.3,284.8 L1197.4,283.8 L1197.6,282.8 L1197.8,281.8 L1197.9,280.8 L1198.1,279.8 L1198.3,278.8 L1198.4,277.8 L1198.6,276.9 L1198.8,275.9 L1199.0,274.9 L1199.1,273.9 L1199.3,272.9 L1199.5,271.9 L1199.7,271.0 L1199.9,270.0 L1200.0,269.0 L1200.2,268.0 L1200.4,267.0 L1200.6,266.0 L1200.8,265.1 L1201.0,264.1 L1201.2,263.1 L1201.3,262.1 L1201.5,261.1 L1201.7,260.1 L1201.9,259.2 L1202.1,258.2 L1202.3,257.2 L1202.5,256.2 L1202.6,255.2 L1202.8,254.3 L1203.0,253.3 L1203.2,252.3 L1203.4,251.3 L1203.5,250.3 L1203.7,249.3 L1203.9,248.3 L1204.1,247.4 L1204.2,246.4 L1204.4,245.4 L1204.6,244.4 L1204.7,243.4 L1204.9,242.4 L1205.1,241.4 L1205.2,240.5 L1205.4,239.5 L1205.6,238.5 L1205.7,237.5 L1205.9,236.5 L1206.1,235.5 L1206.3,234.5 L1206.4,233.6 L1206.6,232.6 L1206.7,231.6 L1206.9,230.6 L1207.1,229.6 L1207.2,228.6 L1207.4,227.6 L1207.6,226.7 L1207.7,225.7 L1207.9,224.7 L1208.0,223.7 L1208.2,222.7 L1208.4,221.7 L1208.5,220.7 L1208.7,219.7 L1208.8,218.8 L1209.0,217.8 L1209.1,216.8 L1209.3,215.8 L1209.4,214.8 L1209.5,213.8 L1209.7,212.8 L1209.8,211.8 L1210.0,210.8 L1210.1,209.8 L1210.2,208.9 L1210.4,207.9 L1210.5,206.9 L1210.6,205.9 L1210.7,204.9 L1210.9,203.9 L1211.0,202.9 L1211.1,201.9 L1211.3,200.9 L1211.4,199.9 L1211.5,198.9 L1211.6,197.9 L1211.8,197.0 L1211.9,196.0 L1212.0,195.0 L1212.1,194.0 L1212.3,193.0 L1212.4,192.0 L1212.5,191.0 L1212.6,190.0 L1212.8,189.0 L1212.9,188.0 L1213.0,187.0 L1213.1,186.0 L1213.3,185.0 L1213.4,184.1 L1213.5,183.1 L1213.6,182.1 L1213.7,181.1 L1213.9,180.1 L1214.0,179.1 L1214.1,178.1 L1214.2,177.1 L1214.4,176.1 L1214.5,175.1 L1214.6,174.1 L1214.7,173.1 L1214.8,172.1 L1215.0,171.2 L1215.1,170.2 L1215.2,169.2 L1215.3,168.2 L1215.5,167.2 L1215.6,166.2 L1215.7,165.2 L1215.8,164.2 L1216.0,163.2 L1216.1,162.2 L1216.2,161.2 L1216.3,160.2 L1216.4,159.2 L1216.6,158.2 L1216.7,157.3 L1216.8,156.3 L1216.9,155.3 L1217.1,154.3 L1217.2,153.3 L1217.3,152.3 L1217.4,151.3 L1217.6,150.3 L1217.7,149.3 L1217.8,148.3 L1217.9,147.3 L1218.0,146.3 L1218.2,145.3 L1218.3,144.4 L1218.4,143.4 L1218.5,142.4 L1218.6,141.4 L1218.7,140.4 L1218.9,139.4 L1219.0,138.4 L1219.1,137.4 L1219.2,136.4 L1219.3,135.4 L1219.4,134.4 L1219.6,133.4 L1219.7,132.4 L1219.8,131.4 L1219.9,130.4 L1220.0,129.5 L1220.1,128.5 L1220.2,127.5 L1220.3,126.5 L1220.4,125.5 L1220.5,124.5 L1220.6,123.5 L1220.7,122.5 L1220.8,121.5 L1220.9,120.5 L1221.0,119.5 L1221.1,118.5 L1221.2,117.5 L1221.3,116.5 L1221.4,115.5 L1221.4,114.5 L1221.5,113.5 L1221.6,112.5 L1221.7,111.5 L1221.8,110.5 L1221.9,109.5 L1221.9,108.5 L1222.0,107.5 L1222.1,106.5 L1222.2,105.6 L1222.3,104.6 L1222.3,103.6 L1222.4,102.6 L1222.5,101.6 L1222.6,100.6 L1222.7,99.6 L1222.7,98.6 L1222.8,97.6 L1222.9,96.6 L1223.0,95.6 L1223.1,94.6 L1223.2,93.6 L1223.2,92.6 L1223.3,91.6 L1223.4,90.6 L1223.5,89.6 L1223.6,88.6 L1223.7,87.6 L1223.8,86.6 L1223.9,85.6 L1224.0,84.6 L1224.1,83.6 L1224.2,82.6 L1224.3,81.6 L1224.4,80.6 L1224.5,79.7 L1224.6,78.7 L1224.7,77.7 L1224.8,76.7 L1224.9,75.7 L1225.0,74.7 L1225.1,73.7 L1225.2,72.7 L1225.3,71.7 L1225.4,70.7 L1225.5,69.7 L1225.6,68.7 L1225.8,67.7 L1226.0,66.8 L1226.2,65.8 L1226.5,64.8 L1226.8,63.9 L1227.1,62.9 L1227.4,62.0 L1227.7,61.0 L1228.1,60.1 L1228.5,59.2 L1228.9,58.2 L1229.3,57.3 L1229.7,56.4 L1230.1,55.4 L1230.3,54.9 L1230.6,55.9 L1230.8,56.8 L1231.1,57.8 L1231.4,58.8 L1231.6,59.7 L1231.9,60.7 L1232.1,61.7 L1232.4,62.6 L1232.6,63.6 L1232.8,64.6 L1233.0,65.6 L1233.2,66.6 L1233.4,67.5 L1233.5,68.5 L1233.7,69.5 L1233.8,70.5 L1233.9,71.5 L1234.0,72.5 L1234.2,73.5 L1234.3,74.5 L1234.4,75.5 L1234.5,76.5 L1234.7,77.5 L1234.8,78.4 L1234.9,79.4 L1235.0,80.4 L1235.1,81.4 L1235.3,82.4 L1235.4,83.4 L1235.5,84.4 L1235.6,85.4 L1235.7,86.4 L1235.8,87.4 L1235.9,88.4 L1236.1,89.4 L1236.2,90.4 L1236.3,91.4 L1236.4,92.4 L1236.5,93.3 L1236.6,94.3 L1236.8,95.3 L1236.9,96.3 L1237.0,97.3 L1237.1,98.3 L1237.2,99.3 L1237.4,100.3 L1237.5,101.3 L1237.6,102.3 L1237.7,103.3 L1237.8,104.3 L1238.0,105.3 L1238.1,106.3 L1238.2,107.3 L1238.3,108.2 L1238.4,109.2 L1238.6,110.2 L1238.7,111.2 L1238.8,112.2 L1238.9,113.2 L1239.0,114.2 L1239.1,115.2 L1239.2,116.2 L1239.3,117.2 L1239.5,118.2 L1239.6,119.2 L1239.7,120.2 L1239.8,121.2 L1239.9,122.2 L1240.0,123.2 L1240.0,124.1 L1240.1,125.1 L1240.2,126.1 L1240.3,127.1 L1240.4,128.1 L1240.5,129.1 L1240.5,130.1 L1240.6,131.1 L1240.7,132.1 L1240.8,133.1 L1240.8,134.1 L1240.9,135.1 L1241.0,136.1 L1241.1,137.1 L1241.1,138.1 L1241.2,139.1 L1241.3,140.1 L1241.3,141.1 L1241.4,142.1 L1241.5,143.1 L1241.5,144.1 L1241.6,145.1 L1241.7,146.1 L1241.7,147.1 L1241.8,148.1 L1241.9,149.1 L1241.9,150.1 L1242.0,151.1 L1242.1,152.1 L1242.1,153.1 L1242.2,154.1 L1242.3,155.1 L1242.3,156.1 L1242.4,157.1 L1242.5,158.1 L1242.5,159.1 L1242.6,160.1 L1242.7,161.1 L1242.7,162.1 L1242.8,163.1 L1242.9,164.1 L1242.9,165.0 L1243.0,166.0 L1243.1,167.0 L1243.1,168.0 L1243.2,169.0 L1243.2,170.0 L1243.3,171.0 L1243.4,172.0 L1243.4,173.0 L1243.5,174.0 L1243.6,175.0 L1243.6,176.0 L1243.7,177.0 L1243.8,178.0 L1243.8,179.0 L1243.9,180.0 L1244.0,181.0 L1244.0,182.0 L1244.1,183.0 L1244.2,184.0 L1244.2,185.0 L1244.3,186.0 L1244.4,187.0 L1244.4,188.0 L1244.5,189.0 L1244.6,190.0 L1244.6,191.0 L1244.7,192.0 L1244.8,193.0 L1244.8,194.0 L1244.9,195.0 L1244.9,196.0 L1245.0,197.0 L1245.1,198.0 L1245.1,199.0 L1245.2,200.0 L1245.3,201.0 L1245.3,202.0 L1245.4,203.0 L1245.5,204.0 L1245.5,205.0 L1245.6,206.0 L1245.7,207.0 L1245.7,208.0 L1245.8,209.0 L1245.9,210.0 L1245.9,210.9 L1246.0,211.9 L1246.1,212.9 L1246.1,213.9 L1246.2,214.9 L1246.2,215.9 L1246.3,216.9 L1246.4,217.9 L1246.4,218.9 L1246.5,219.9 L1246.6,220.9 L1246.6,221.9 L1246.7,222.9 L1246.7,223.9 L1246.8,224.9 L1246.9,225.9 L1246.9,226.9 L1247.0,227.9 L1247.1,228.9 L1247.1,229.9 L1247.2,230.9 L1247.2,231.9 L1247.3,232.9 L1247.4,233.9 L1247.4,234.9 L1247.5,235.9 L1247.5,236.9 L1247.6,237.9 L1247.7,238.9 L1247.7,239.9 L1247.8,240.9 L1247.9,241.9 L1247.9,242.9 L1248.0,243.9 L1248.1,244.9 L1248.1,245.9 L1248.2,246.9 L1248.3,247.9 L1248.3,248.9 L1248.4,249.9 L1248.5,250.9 L1248.6,251.9 L1248.6,252.9 L1248.7,253.9 L1248.8,254.9 L1248.9,255.9 L1249.0,256.8 L1249.0,257.8 L1249.1,258.8 L1249.2,259.8 L1249.3,260.8 L1249.4,261.8 L1249.5,262.8 L1249.5,263.8 L1249.6,264.8 L1249.7,265.8 L1249.8,266.8 L1249.9,267.8 L1250.0,268.8 L1250.0,269.8 L1250.1,270.8 L1250.2,271.8 L1250.3,272.8 L1250.4,273.8 L1250.4,274.8 L1250.5,275.8 L1250.6,276.8 L1250.7,277.8 L1250.7,278.8 L1250.8,279.8 L1250.9,280.8 L1250.9,281.8 L1251.0,282.8 L1251.1,283.8 L1251.1,284.8 L1251.2,285.8 L1251.3,286.8 L1251.3,287.8 L1251.4,288.8 L1251.5,289.8 L1251.5,290.8 L1251.6,291.7 L1251.7,292.7 L1251.7,293.7 L1251.8,294.7 L1251.9,295.7 L1251.9,296.7 L1252.0,297.7 L1252.1,298.7 L1252.1,299.7 L1252.2,300.7 L1252.2,301.7 L1252.3,302.7 L1252.4,303.7 L1252.4,304.7 L1252.5,305.7 L1252.5,306.7 L1252.6,307.7 L1252.6,308.7 L1252.7,309.7 L1252.8,310.7 L1252.8,311.7 L1252.9,312.7 L1252.9,313.7 L1253.0,314.7 L1253.0,315.7 L1253.1,316.7 L1253.1,317.7 L1253.2,318.7 L1253.2,319.7 L1253.2,320.7 L1253.3,321.7 L1253.3,322.7 L1253.4,323.7 L1253.4,324.7 L1253.5,325.7 L1253.5,326.7 L1253.6,327.7 L1253.6,328.7 L1253.7,329.7 L1253.7,330.7 L1253.7,331.7 L1253.8,332.7 L1253.8,333.7 L1253.9,334.7 L1253.9,335.7 L1254.0,336.7 L1254.0,337.7 L1254.1,338.7 L1254.1,339.7 L1254.2,340.7 L1254.2,341.7 L1254.2,342.7 L1254.3,343.7 L1254.3,344.7 L1254.4,345.7 L1254.4,346.7 L1254.5,347.7 L1254.5,348.7 L1254.6,349.7 L1254.6,350.7 L1254.7,351.7 L1254.7,352.7 L1254.7,353.7 L1254.8,354.7 L1254.8,355.7 L1254.9,356.7 L1254.9,357.7 L1255.0,358.7 L1255.0,359.7 L1255.1,360.7 L1255.1,361.7 L1255.1,362.7 L1255.2,363.7 L1255.2,364.7 L1255.3,365.7 L1255.3,366.7 L1255.4,367.7 L1255.4,368.7 L1255.5,369.7 L1255.5,370.7 L1255.6,371.6 L1255.6,372.6 L1255.6,373.6 L1255.7,374.6 L1255.7,375.6 L1255.8,376.6 L1255.8,377.6 L1255.9,378.6 L1255.9,379.6 L1256.0,380.6 L1256.0,381.6 L1256.1,382.6 L1256.1,383.6 L1256.1,384.6 L1256.2,385.6 L1256.2,386.6 L1256.3,387.6 L1256.3,388.6 L1256.4,389.6 L1256.4,390.6 L1256.5,391.6 L1256.5,392.6 L1256.5,393.6 L1256.6,394.6 L1256.6,395.6 L1256.7,396.6 L1256.7,397.6 L1256.8,398.6 L1256.8,399.6 L1256.9,400.6 L1256.9,401.6 L1257.0,402.6 L1257.0,403.6 L1257.0,404.6 L1257.1,405.6 L1257.1,406.6 L1257.2,407.6 L1257.2,408.6 L1257.3,409.6 L1257.3,410.6 L1257.4,411.6 L1257.4,412.6 L1257.4,413.6 L1257.5,414.6 L1257.5,415.6 L1257.6,416.6 L1257.6,417.6 L1257.7,418.6 L1257.7,419.6 L1257.7,420.6 L1257.8,421.6 L1257.8,422.6 L1257.9,423.6 L1257.9,424.6 L1257.9,425.6 L1258.0,426.6 L1258.0,427.6 L1258.1,428.6 L1258.1,429.6 L1258.1,430.6 L1258.2,431.6 L1258.2,432.6 L1258.2,433.6 L1258.3,434.6 L1258.3,435.6 L1258.3,436.6 L1258.4,437.6 L1258.4,438.6 L1258.4,439.6 L1258.4,440.6 L1258.5,441.6 L1258.5,442.6 L1258.5,443.6 L1258.6,444.6 L1258.6,445.6 L1258.6,446.6 L1258.6,447.6 L1258.7,448.6 L1258.7,449.6 L1258.7,450.6 L1258.7,451.6 L1258.7,452.6 L1258.8,453.6 L1258.8,454.6 L1258.8,455.6 L1258.8,456.6 L1258.8,457.6 L1258.9,458.6 L1258.9,459.6 L1258.9,460.6 L1258.9,461.6 L1258.9,462.6 L1259.0,463.6 L1259.0,464.6 L1259.0,465.6 L1259.0,466.6 L1259.1,467.6 L1259.1,468.6 L1259.1,469.6 L1259.1,470.6 L1259.1,471.6 L1259.2,472.6 L1259.2,473.6 L1259.2,474.6 L1259.2,475.6 L1259.2,476.6 L1259.2,477.6 L1259.3,478.6 L1259.3,479.6 L1259.3,480.6 L1259.3,481.6 L1259.3,482.6 L1259.3,483.6 L1259.4,484.6 L1259.4,485.6 L1259.4,486.6 L1259.4,487.6 L1259.4,488.6 L1259.5,489.6 L1259.5,490.6 L1259.5,491.6 L1259.5,492.6 L1259.5,493.6 L1259.5,494.6 L1259.6,495.6 L1259.6,496.6 L1259.6,497.6 L1259.6,498.6 L1259.7,499.6 L1259.7,500.6 L1259.7,501.6 L1259.7,502.6 L1259.7,503.6 L1259.8,504.6 L1259.8,505.6 L1259.8,506.6 L1259.8,507.6 L1259.9,508.6 L1259.9,509.6 L1259.9,510.6 L1260.0,511.6 L1260.0,512.6 L1260.1,513.6 L1260.1,514.6 L1260.2,515.6 L1260.2,516.6 L1260.3,517.6 L1260.3,518.6 L1260.4,519.6 L1260.4,520.6 L1260.5,521.6 L1260.5,522.6 L1260.6,523.6 L1260.6,524.6 L1260.7,525.6 L1260.7,526.6 L1260.8,527.6 L1260.8,528.6 L1260.9,529.6 L1260.9,530.5 L1261.0,531.5 L1261.0,532.5 L1261.0,533.5 L1261.1,534.5 L1261.1,535.5 L1261.2,536.5 L1261.2,537.5 L1261.2,538.5 L1261.3,539.5 L1261.3,540.5 L1261.3,541.5 L1261.4,542.5 L1261.4,543.5 L1261.5,544.5 L1261.5,545.5 L1261.5,546.5 L1261.6,547.5 L1261.6,548.5 L1261.7,549.5 L1261.7,550.5 L1261.7,551.5 L1261.8,552.5 L1261.8,553.5 L1261.8,554.5 L1261.9,555.5 L1261.9,556.5 L1261.9,557.5 L1262.0,558.5 L1262.0,559.5 L1262.1,560.5 L1262.1,561.5 L1262.1,562.5 L1262.2,563.5 L1262.2,564.5 L1262.2,565.5 L1262.3,566.5 L1262.3,567.5 L1262.3,568.5 L1262.4,569.5 L1262.4,570.5 L1262.4,571.5 L1262.5,572.5 L1262.5,573.5 L1262.6,574.5 L1262.6,575.5 L1262.6,576.5 L1262.7,577.5 L1262.7,578.5 L1262.7,579.5 L1262.8,580.5 L1262.8,581.5 L1262.8,582.5 L1262.9,583.5 L1262.9,584.5 L1263.0,585.5 L1263.0,586.5 L1263.0,587.5 L1263.1,588.5 L1263.1,589.5 L1263.1,590.5 L1263.2,591.5 L1263.2,592.5 L1263.3,593.5 L1263.3,594.5 L1263.3,595.5 L1263.4,596.5 L1263.4,597.5 L1263.5,598.5 L1263.5,599.5 L1263.5,600.5 L1263.6,601.5 L1263.6,602.5 L1263.7,603.5 L1263.7,604.5 L1263.8,605.5 L1263.8,606.5 L1263.8,607.5 L1263.9,608.5 L1263.9,609.5 L1264.0,610.5 L1264.0,611.5 L1264.1,612.5 L1264.1,613.5 L1264.2,614.5 L1264.2,615.5 L1264.3,616.5 L1264.3,617.5 L1264.4,618.5 L1264.4,619.5 L1264.5,620.5 L1264.5,621.5 L1264.6,622.5 L1264.6,623.5 L1264.7,624.5 L1264.7,625.5 L1264.7,626.5 L1264.8,627.5 L1264.8,628.5 L1264.9,629.5 L1264.9,630.5 L1264.9,631.5 L1265.0,632.5 L1265.0,633.5 L1265.1,634.5 L1265.1,635.5 L1265.2,636.5 L1265.2,637.5 L1265.2,638.5 L1265.3,639.5 L1265.3,640.5 L1265.4,641.5 L1265.4,642.5 L1265.5,643.5 L1265.5,644.5 L1265.6,645.5 L1265.6,646.5 L1265.7,647.5 L1265.7,648.5 L1265.8,649.4 L1265.8,650.4 L1265.9,651.4 L1265.9,652.4 L1266.0,653.4 L1266.1,654.4 L1266.1,655.4 L1266.2,656.4 L1266.2,657.4 L1266.3,658.4 L1266.4,659.4 L1266.4,660.4 L1266.5,661.4 L1266.5,662.4 L1266.6,663.4 L1266.7,664.4 L1266.7,665.4 L1266.8,666.4 L1266.9,667.4 L1266.9,668.4 L1267.0,669.4 L1267.1,670.4 L1267.1,671.4 L1267.2,672.4 L1267.3,673.4 L1267.3,674.4 L1267.4,675.4 L1267.5,676.4 L1267.5,677.4 L1267.6,678.4 L1267.7,679.4 L1267.8,680.4 L1267.8,681.4 L1267.9,682.4 L1268.0,683.4 L1268.1,684.4 L1268.1,685.4 L1268.2,686.4 L1268.3,687.4 L1268.4,688.4 L1268.4,689.4 L1268.5,690.4 L1268.6,691.4 L1268.7,692.3 L1268.8,693.3 L1268.8,694.3 L1268.9,695.3 L1269.0,696.3 L1269.1,697.3 L1269.2,698.3 L1269.3,699.3 L1269.3,700.3 L1269.4,701.3 L1269.5,702.3 L1269.6,703.3 L1269.7,704.3 L1269.9,705.3 L1270.0,706.3 L1270.1,707.3 L1270.2,708.3 L1270.3,709.3 L1270.4,710.3 L1270.5,711.3 L1270.7,712.3 L1270.8,713.2 L1270.9,714.2 L1271.1,715.2 L1271.2,716.2 L1271.4,717.2 L1271.5,718.2 L1271.7,719.2 L1271.9,720.2 L1272.1,721.1 L1272.4,722.1 L1272.6,723.1 L1272.9,724.0 L1273.3,725.0 L1273.6,725.9 L1274.0,726.8 L1274.5,727.7 L1275.0,728.5 L1275.7,729.3 L1276.4,730.0 L1277.2,730.7 L1278.0,731.2 L1278.8,731.8 L1279.5,732.6 L1280.0,733.4 L1280.5,734.3 L1280.9,735.2 L1281.3,736.1 L1281.8,737.0 L1282.2,737.9 L1282.5,738.9 L1282.9,739.8 L1283.2,740.7 L1283.6,741.7 L1283.9,742.6 L1284.2,743.6 L1284.5,744.5 L1284.9,745.5 L1285.2,746.4 L1285.5,747.4 L1285.8,748.3 L1286.1,749.3 L1286.4,750.2 L1286.7,751.2 L1287.0,752.1 L1287.3,753.1 L1287.6,754.0 L1287.9,755.0 L1288.1,756.0 L1288.4,756.9 L1288.7,757.9 L1288.9,758.9 L1289.2,759.8 L1289.4,760.8 L1289.7,761.8 L1290.0,762.7 L1290.2,763.7 L1290.5,764.7 L1290.7,765.6 L1291.0,766.6 L1291.2,767.6 L1291.5,768.5 L1291.7,769.5 L1292.0,770.5 L1292.2,771.4 L1292.5,772.4 L1292.7,773.4 L1293.0,774.3 L1293.3,775.3 L1293.5,776.3 L1293.8,777.2 L1294.1,778.2 L1294.3,779.1 L1294.6,780.1 L1294.9,781.1 L1295.2,782.0 L1295.4,783.0 L1295.7,784.0 L1296.0,784.9 L1296.3,785.9 L1296.6,786.8 L1296.9,787.8 L1297.2,788.7 L1297.5,789.7 L1297.8,790.6 L1298.1,791.6 L1298.4,792.5 L1298.8,793.5 L1299.1,794.4 L1299.5,795.4 L1299.8,796.3 L1300.2,797.2 L1300.6,798.1 L1301.0,799.0 L1301.5,799.9 L1301.9,800.8 L1302.3,801.7 L1302.7,802.7 L1303.2,803.6 L1303.6,804.5 L1304.0,805.4 L1304.4,806.3 L1304.9,807.2 L1305.3,808.1 L1305.7,809.0 L1306.1,809.9 L1306.6,810.8 L1307.1,811.6 L1307.6,812.5 L1308.2,813.3 L1308.7,814.2 L1309.3,815.0 L1309.9,815.8 L1310.6,816.6 L1311.4,817.1 L1312.3,816.6 L1313.1,815.8 L1313.6,815.0 L1314.1,814.1 L1314.4,813.2 L1314.7,812.2 L1315.0,811.3 L1315.2,810.3 L1315.5,809.3 L1315.7,808.4 L1315.8,807.4 L1316.0,806.4 L1316.2,805.4 L1316.4,804.4 L1316.5,803.4 L1316.7,802.4 L1316.9,801.5 L1317.0,800.5 L1317.2,799.5 L1317.3,798.5 L1317.4,797.5 L1317.5,796.5 L1317.7,795.5 L1317.8,794.5 L1317.9,793.5 L1318.0,792.5 L1318.1,791.5 L1318.3,790.5 L1318.4,789.5 L1318.5,788.6 L1318.6,787.6 L1318.7,786.6 L1318.8,785.6 L1318.9,784.6 L1319.0,783.6 L1319.1,782.6 L1319.2,781.6 L1319.3,780.6 L1319.4,779.6 L1319.5,778.6 L1319.6,777.6 L1319.7,776.6 L1319.8,775.6 L1319.9,774.6 L1319.9,773.6 L1320.0,772.6 L1320.1,771.6 L1320.2,770.6 L1320.3,769.6 L1320.4,768.6 L1320.5,767.7 L1320.6,766.7 L1320.7,765.7 L1320.7,764.7 L1320.8,763.7 L1320.9,762.7 L1321.0,761.7 L1321.0,760.7 L1321.1,759.7 L1321.2,758.7 L1321.2,757.7 L1321.3,756.7 L1321.4,755.7 L1321.4,754.7 L1321.5,753.7 L1321.6,752.7 L1321.6,751.7 L1321.7,750.7 L1321.8,749.7 L1321.8,748.7 L1321.9,747.7 L1322.0,746.7 L1322.0,745.7 L1322.1,744.7 L1322.2,743.7 L1322.2,742.7 L1322.3,741.7 L1322.4,740.7 L1322.4,739.7 L1322.5,738.7 L1322.6,737.7 L1322.6,736.7 L1322.7,735.7 L1322.8,734.7 L1322.9,733.7 L1322.9,732.7 L1323.0,731.7 L1323.1,730.7 L1323.2,729.7 L1323.3,728.8 L1323.4,727.8 L1323.4,726.8 L1323.5,725.8 L1323.6,724.8 L1323.7,723.8 L1323.7,722.8 L1323.8,721.8 L1323.9,720.8 L1323.9,719.8 L1324.0,718.8 L1324.1,717.8 L1324.2,716.8 L1324.2,715.8 L1324.3,714.8 L1324.3,713.8 L1324.4,712.8 L1324.5,711.8 L1324.5,710.8 L1324.6,709.8 L1324.7,708.8 L1324.7,707.8 L1324.8,706.8 L1324.8,705.8 L1324.9,704.8 L1325.0,703.8 L1325.0,702.8 L1325.1,701.8 L1325.1,700.8 L1325.2,699.8 L1325.3,698.8 L1325.3,697.8 L1325.4,696.8 L1325.4,695.8 L1325.5,694.8 L1325.6,693.8 L1325.6,692.8 L1325.7,691.8 L1325.7,690.8 L1325.8,689.8 L1325.9,688.8 L1325.9,687.8 L1326.0,686.8 L1326.1,685.8 L1326.1,684.8 L1326.2,683.8 L1326.3,682.9 L1326.3,681.9 L1326.4,680.9 L1326.5,679.9 L1326.5,678.9 L1326.6,677.9 L1326.7,676.9 L1326.7,675.9 L1326.8,674.9 L1326.9,673.9 L1326.9,672.9 L1327.0,671.9 L1327.1,670.9 L1327.2,669.9 L1327.2,668.9 L1327.3,667.9 L1327.4,666.9 L1327.4,665.9 L1327.5,664.9 L1327.6,663.9 L1327.7,662.9 L1327.7,661.9 L1327.8,660.9 L1327.9,659.9 L1328.0,658.9 L1328.0,657.9 L1328.1,656.9 L1328.2,655.9 L1328.3,654.9 L1328.4,653.9 L1328.4,652.9 L1328.5,651.9 L1328.6,650.9 L1328.7,649.9 L1328.8,648.9 L1328.9,647.9 L1328.9,647.0 L1329.0,646.0 L1329.1,645.0 L1329.2,644.0 L1329.3,643.0 L1329.4,642.0 L1329.4,641.0 L1329.5,640.0 L1329.6,639.0 L1329.7,638.0 L1329.8,637.0 L1329.9,636.0 L1330.0,635.0 L1330.1,634.0 L1330.2,633.0 L1330.3,632.0 L1330.4,631.0 L1330.5,630.0 L1330.6,629.0 L1330.7,628.0 L1330.8,627.0 L1330.9,626.0 L1331.0,625.0 L1331.1,624.1 L1331.2,623.1 L1331.3,622.1 L1331.4,621.1 L1331.5,620.1 L1331.6,619.1 L1331.7,618.1 L1331.8,617.1 L1331.9,616.1 L1332.1,615.1 L1332.2,614.1 L1332.3,613.1 L1332.4,612.1 L1332.6,611.1 L1332.7,610.1 L1332.9,609.2 L1333.0,608.2 L1333.2,607.2 L1333.3,606.2 L1333.5,605.2 L1333.6,604.2 L1333.8,603.2 L1334.0,602.2 L1334.2,601.3 L1334.4,600.3 L1334.6,599.3 L1334.9,598.3 L1335.1,597.4 L1335.3,596.4 L1335.5,595.5 L1335.9,594.5 L1336.6,593.6 L1337.4,593.1 L1338.3,593.3 L1339.1,594.2 L1339.6,595.1 L1339.8,596.1 L1340.0,597.0 L1340.2,598.0 L1340.4,599.0 L1340.6,599.9 L1340.8,600.9 L1341.0,601.9 L1341.2,602.9 L1341.4,603.9 L1341.6,604.9 L1341.7,605.8 L1341.8,606.8 L1342.0,607.8 L1342.1,608.8 L1342.2,609.8 L1342.4,610.8 L1342.5,611.8 L1342.6,612.8 L1342.7,613.8 L1342.9,614.8 L1343.0,615.8 L1343.1,616.8 L1343.2,617.8 L1343.3,618.7 L1343.4,619.7 L1343.4,620.7 L1343.5,621.7 L1343.6,622.7 L1343.7,623.7 L1343.8,624.7 L1343.9,625.7 L1344.0,626.7 L1344.1,627.7 L1344.2,628.7 L1344.3,629.7 L1344.4,630.7 L1344.5,631.7 L1344.6,632.7 L1344.6,633.7 L1344.7,634.7 L1344.8,635.7 L1344.9,636.7 L1345.0,637.7 L1345.1,638.7 L1345.2,639.7 L1345.2,640.7 L1345.3,641.7 L1345.4,642.7 L1345.5,643.6 L1345.6,644.6 L1345.6,645.6 L1345.7,646.6 L1345.8,647.6 L1345.9,648.6 L1346.0,649.6 L1346.0,650.6 L1346.1,651.6 L1346.2,652.6 L1346.3,653.6 L1346.3,654.6 L1346.4,655.6 L1346.5,656.6 L1346.5,657.6 L1346.6,658.6 L1346.7,659.6 L1346.8,660.6 L1346.8,661.6 L1346.9,662.6 L1347.0,663.6 L1347.0,664.6 L1347.1,665.6 L1347.2,666.6 L1347.2,667.6 L1347.3,668.6 L1347.3,669.6 L1347.4,670.6 L1347.4,671.6 L1347.4,672.6 L1347.5,673.6 L1347.6,674.6 L1347.7,675.6 L1347.7,676.6 L1347.8,677.6 L1347.9,678.6 L1348.0,679.6 L1348.1,680.6 L1348.2,681.5 L1348.3,682.5 L1348.3,683.5 L1348.4,684.5 L1348.5,685.5 L1348.6,686.5 L1348.7,687.5 L1348.8,688.5 L1348.8,689.5 L1348.9,690.5 L1349.0,691.5 L1349.1,692.5 L1349.2,693.5 L1349.2,694.5 L1349.3,695.5 L1349.4,696.5 L1349.5,697.5 L1349.6,698.5 L1349.6,699.5 L1349.7,700.5 L1349.8,701.5 L1349.9,702.5 L1350.0,703.5 L1350.1,704.5 L1350.1,705.5 L1350.2,706.5 L1350.3,707.5 L1350.4,708.5 L1350.5,709.5 L1350.6,710.4 L1350.7,711.4 L1350.8,712.4 L1350.9,713.4 L1351.0,714.4 L1351.1,715.4 L1351.2,716.4 L1351.3,717.4 L1351.4,718.4 L1351.5,719.4 L1351.6,720.4 L1351.7,721.4 L1351.8,722.4 L1352.0,723.4 L1352.1,724.4 L1352.2,725.4 L1352.3,726.4 L1352.4,727.4 L1352.5,728.3 L1352.6,729.3 L1352.7,730.3 L1352.8,731.3 L1352.9,732.3 L1353.1,733.3 L1353.2,734.3 L1353.3,735.3 L1353.4,736.3 L1353.6,737.3 L1353.8,738.3 L1354.0,739.2 L1354.3,740.2 L1354.5,741.2 L1354.8,742.1 L1355.1,743.1 L1355.4,744.1 L1355.6,745.0 L1355.9,746.0 L1356.3,746.9 L1356.6,747.9 L1357.1,748.8 L1357.6,749.6 L1358.2,750.5 L1358.7,751.3 L1359.3,752.1 L1359.9,752.9 L1360.4,753.7 L1361.0,754.6 L1361.5,755.4 L1362.0,756.3 L1362.6,757.1 L1363.1,758.0 L1363.7,758.8 L1364.2,759.6 L1364.8,760.4 L1365.4,761.2 L1366.0,762.0 L1366.6,762.8 L1367.3,763.5 L1368.0,764.2 L1368.7,764.9 L1369.6,765.6 L1370.5,766.1 L1371.4,766.5 L1372.4,766.7 L1373.3,766.7 L1374.3,766.5 L1375.3,766.2 L1376.3,765.8 L1377.2,765.4 L1378.0,764.8 L1378.8,764.2 L1379.5,763.5 L1380.2,762.8 L1380.9,762.0 L1381.5,761.2 L1382.0,760.4 L1382.6,759.6 L1383.1,758.7 L1383.7,757.9 L1384.2,757.0 L1384.7,756.2 L1385.2,755.3 L1385.7,754.4 L1386.2,753.6 L1386.7,752.7 L1387.2,751.8 L1387.7,751.0 L1388.2,750.1 L1388.6,749.2 L1389.1,748.3 L1389.6,747.5 L1390.1,746.6 L1390.6,745.7 L1391.1,744.9 L1391.6,744.0 L1392.1,743.1 L1392.6,742.2 L1393.1,741.4 L1393.5,740.5 L1394.0,739.6 L1394.5,738.7 L1395.0,737.9 L1395.5,737.0 L1395.9,736.1 L1396.3,735.2 L1396.7,734.3 L1397.1,733.3 L1397.5,732.4 L1397.8,731.5 L1398.2,730.5 L1398.5,729.6 L1398.8,728.6 L1399.2,727.7 L1399.5,726.7 L1399.8,725.8 L1400.1,724.8 L1400.4,723.9 L1400.7,722.9 L1401.0,722.0 L1401.3,721.0 L1401.6,720.1 L1401.9,719.1 L1402.2,718.2 L1402.5,717.2 L1402.8,716.3 L1403.1,715.3 L1403.4,714.4 L1403.7,713.4 L1404.0,712.5 L1404.3,711.5 L1404.6,710.5 L1404.9,709.6 L1405.2,708.6 L1405.5,707.7 L1405.8,706.7 L1406.1,705.8 L1406.4,704.8 L1406.7,703.9 L1407.0,702.9 L1407.3,702.0 L1407.6,701.0 L1407.9,700.0 L1408.2,699.1 L1408.5,698.1 L1408.7,697.2 L1409.0,696.2 L1409.2,695.2 L1409.5,694.2 L1409.7,693.3 L1409.9,692.3 L1410.1,691.3 L1410.4,690.4 L1410.6,689.4 L1410.8,688.4 L1411.0,687.4 L1411.3,686.5 L1411.5,685.5 L1411.7,684.5 L1411.9,683.5 L1412.1,682.5 L1412.3,681.6 L1412.6,680.6 L1412.8,679.6 L1413.0,678.6 L1413.2,677.7 L1413.4,676.7 L1413.6,675.7 L1413.9,674.7 L1414.1,673.8 L1414.3,672.8 L1414.5,671.8 L1414.8,670.8 L1415.0,669.9 L1415.2,668.9 L1415.5,667.9 L1415.7,666.9 L1415.9,666.0 L1416.1,665.0 L1416.4,664.0 L1416.6,663.0 L1416.8,662.1 L1417.0,661.1 L1417.2,660.1 L1417.4,659.1 L1417.6,658.2 L1417.8,657.2 L1418.0,656.2 L1418.2,655.2 L1418.4,654.2 L1418.6,653.3 L1418.9,652.3 L1419.1,651.3 L1419.4,650.3 L1419.6,649.4 L1419.8,648.4 L1420.1,647.4 L1420.3,646.5 L1420.6,645.5 L1420.8,644.5 L1421.1,643.6 L1421.3,642.6 L1421.5,641.6 L1421.8,640.6 L1422.0,639.7 L1422.3,638.7 L1422.5,637.7 L1422.8,636.8 L1423.0,635.8 L1423.2,634.8 L1423.5,633.9 L1423.7,632.9 L1424.0,631.9 L1424.2,630.9 L1424.5,630.0 L1424.7,629.0 L1425.0,628.1 L1425.3,627.1 L1425.6,626.1 L1425.8,625.2 L1426.1,624.2 L1426.4,623.3 L1426.7,622.3 L1427.0,621.3 L1427.3,620.4 L1427.6,619.4 L1428.0,618.5 L1428.3,617.6 L1428.7,616.6 L1429.0,615.7 L1429.4,614.7 L1429.8,613.8 L1430.1,612.9 L1430.5,611.9 L1430.9,611.0 L1431.2,610.1 L1431.6,609.1 L1431.9,608.2 L1432.3,607.3 L1432.6,606.3 L1432.9,605.4 L1433.2,604.4 L1433.5,603.5 L1433.7,602.5 L1434.0,601.5 L1434.2,600.5 L1434.4,599.6 L1434.6,598.6 L1434.7,597.6 L1434.9,596.6 L1435.0,595.6 L1435.1,594.6 L1435.3,593.6 L1435.4,592.6 L1435.5,591.6 L1435.6,590.6 L1435.7,589.7 L1435.8,588.7 L1436.0,587.7 L1436.1,586.7 L1436.2,585.7 L1436.3,584.7 L1436.4,583.7 L1436.6,582.7 L1436.7,581.7 L1436.9,580.7 L1437.0,579.7 L1437.2,578.8 L1437.3,577.8 L1437.5,576.8 L1437.7,575.8 L1437.8,574.8 L1438.0,573.8 L1438.1,572.8 L1438.3,571.8 L1438.4,570.8 L1438.5,569.9 L1438.7,568.9 L1438.8,567.9 L1438.9,566.9 L1439.0,565.9 L1439.2,564.9 L1439.3,563.9 L1439.4,562.9 L1439.5,561.9 L1439.6,560.9 L1439.7,559.9 L1439.8,558.9 L1439.9,557.9 L1439.9,556.9 L1440.0,555.9 L1440.1,554.9 L1440.2,553.9 L1440.2,552.9 L1440.3,551.9 L1440.3,550.9 L1440.4,549.9 L1440.4,548.9 L1440.5,547.9 L1440.5,546.9 L1440.6,545.9 L1440.6,544.9 L1440.7,543.9 L1440.7,542.9 L1440.7,541.9 L1440.8,540.9 L1440.8,539.9 L1440.9,539.0 L1440.9,538.0 L1441.0,537.0 L1441.0,536.0 L1441.1,535.0 L1441.1,534.0 L1441.1,533.0 L1441.2,532.0 L1441.2,531.0 L1441.3,530.0 L1441.3,529.0 L1441.4,528.0 L1441.4,527.0 L1441.5,526.0 L1441.5,525.0 L1441.6,524.0 L1441.6,523.0 L1441.6,522.0 L1441.7,521.0 L1441.7,520.0 L1441.8,519.0 L1441.8,518.0 L1441.9,517.0 L1441.9,516.0 L1442.0,515.0 L1442.0,514.0 L1442.1,513.0 L1442.1,512.0 L1442.1,511.0 L1442.2,510.0 L1442.2,509.0 L1442.3,508.0 L1442.3,507.0 L1442.4,506.0 L1442.4,505.0 L1442.4,504.0 L1442.5,503.0 L1442.5,502.0 L1442.6,501.0 L1442.6,500.0 L1442.6,499.0 L1442.7,498.0 L1442.7,497.0 L1442.7,496.0 L1442.8,495.0 L1442.8,494.0 L1442.9,493.0 L1442.9,492.0 L1442.9,491.0 L1443.0,490.0 L1443.0,489.0 L1443.1,488.0 L1443.1,487.0 L1443.2,486.0 L1443.3,485.0 L1443.3,484.0 L1443.4,483.0 L1443.5,482.0 L1443.5,481.0 L1443.6,480.0 L1443.7,479.0 L1443.7,478.0 L1443.8,477.0 L1443.9,476.0 L1443.9,475.0 L1444.0,474.0 L1444.0,473.0 L1444.1,472.0 L1444.1,471.0 L1444.2,470.0 L1444.2,469.0 L1444.3,468.0 L1444.3,467.0 L1444.4,466.0 L1444.4,465.0 L1444.4,464.0 L1444.5,463.0 L1444.5,462.0 L1444.5,461.0 L1444.6,460.0 L1444.6,459.0 L1444.6,458.0 L1444.6,457.0 L1444.7,456.0 L1444.7,455.0 L1444.7,454.0 L1444.7,453.0 L1444.8,452.0 L1444.8,451.0 L1444.8,450.0 L1444.8,449.0 L1444.8,448.0 L1444.9,447.0 L1444.9,446.0 L1444.9,445.0 L1444.9,444.0 L1444.9,443.0 L1444.9,442.0 L1444.9,441.0 L1445.0,440.0 L1445.0,439.0 L1445.0,438.0 L1445.0,437.0 L1445.0,436.0 L1445.0,435.0 L1445.0,434.0 L1445.1,433.0 L1445.1,432.0 L1445.1,431.0 L1445.1,430.0 L1445.1,429.0 L1445.1,428.0 L1445.2,427.0 L1445.2,426.0 L1445.2,425.0 L1445.2,424.0 L1445.2,423.0 L1445.2,422.0 L1445.3,421.0 L1445.3,420.0 L1445.3,419.0 L1445.3,418.0 L1445.4,417.0 L1445.4,416.0 L1445.4,415.0 L1445.4,414.0 L1445.4,413.0 L1445.5,412.0 L1445.5,411.0 L1445.5,410.0 L1445.5,409.0 L1445.6,408.0 L1445.6,407.0 L1445.6,406.0 L1445.6,405.0 L1445.6,404.1 L1445.7,403.1 L1445.7,402.1 L1445.7,401.1 L1445.7,400.1 L1445.8,399.1 L1445.8,398.1 L1445.8,397.1 L1445.8,396.1 L1445.9,395.1 L1445.9,394.1 L1445.9,393.1 L1445.9,392.1 L1445.9,391.1 L1446.0,390.1 L1446.0,389.1 L1446.0,388.1 L1446.0,387.1 L1446.1,386.1 L1446.1,385.1 L1446.1,384.1 L1446.1,383.1 L1446.1,382.1 L1446.2,381.1 L1446.2,380.1 L1446.2,379.1 L1446.2,378.1 L1446.3,377.1 L1446.3,376.1 L1446.3,375.1 L1446.3,374.1 L1446.3,373.1 L1446.4,372.1 L1446.4,371.1 L1446.4,370.1 L1446.4,369.1 L1446.4,368.1 L1446.5,367.1 L1446.5,366.1 L1446.5,365.1 L1446.5,364.1 L1446.5,363.1 L1446.6,362.1 L1446.6,361.1 L1446.6,360.1 L1446.6,359.1 L1446.6,358.1 L1446.6,357.1 L1446.7,356.1 L1446.7,355.1 L1446.7,354.1 L1446.7,353.1 L1446.7,352.1 L1446.8,351.1 L1446.8,350.1 L1446.8,349.1 L1446.8,348.1 L1446.8,347.1 L1446.9,346.1 L1446.9,345.1 L1446.9,344.1 L1446.9,343.1 L1446.9,342.1 L1447.0,341.1 L1447.0,340.1 L1447.0,339.1 L1447.0,338.1 L1447.1,337.1 L1447.1,336.1 L1447.1,335.1 L1447.2,334.1 L1447.2,333.1 L1447.2,332.1 L1447.2,331.1 L1447.3,330.1 L1447.3,329.1 L1447.4,328.1 L1447.4,327.1 L1447.4,326.1 L1447.5,325.1 L1447.5,324.1 L1447.5,323.1 L1447.6,322.1 L1447.6,321.1 L1447.7,320.1 L1447.7,319.1 L1447.8,318.1 L1447.8,317.1 L1447.8,316.1 L1447.9,315.1 L1447.9,314.1 L1448.0,313.1 L1448.0,312.1 L1448.1,311.1 L1448.1,310.1 L1448.2,309.1 L1448.2,308.1 L1448.3,307.1 L1448.3,306.1 L1448.4,305.1 L1448.4,304.1 L1448.5,303.1 L1448.5,302.1 L1448.5,301.1 L1448.6,300.1 L1448.6,299.1 L1448.7,298.1 L1448.7,297.1 L1448.8,296.1 L1448.9,295.1 L1448.9,294.1 L1449.0,293.1 L1449.0,292.1 L1449.1,291.1 L1449.2,290.1 L1449.2,289.1 L1449.3,288.1 L1449.4,287.1 L1449.4,286.1 L1449.5,285.1 L1449.6,284.1 L1449.6,283.1 L1449.7,282.1 L1449.7,281.1 L1449.8,280.1 L1449.9,279.1 L1449.9,278.1 L1450.0,277.1 L1450.0,276.1 L1450.1,275.1 L1450.1,274.1 L1450.2,273.1 L1450.2,272.1 L1450.3,271.1 L1450.3,270.1 L1450.3,269.1 L1450.4,268.1 L1450.4,267.1 L1450.4,266.1 L1450.5,265.1 L1450.5,264.1 L1450.5,263.1 L1450.6,262.1 L1450.6,261.1 L1450.6,260.1 L1450.7,259.2 L1450.7,258.2 L1450.7,257.2 L1450.7,256.2 L1450.8,255.2 L1450.8,254.2 L1450.8,253.2 L1450.9,252.2 L1450.9,251.2 L1450.9,250.2 L1450.9,249.2 L1451.0,248.2 L1451.0,247.2 L1451.0,246.2 L1451.0,245.2 L1451.1,244.2 L1451.1,243.2 L1451.1,242.2 L1451.2,241.2 L1451.2,240.2 L1451.2,239.2 L1451.2,238.2 L1451.3,237.2 L1451.3,236.2 L1451.3,235.2 L1451.3,234.2 L1451.4,233.2 L1451.4,232.2 L1451.4,231.2 L1451.4,230.2 L1451.5,229.2 L1451.5,228.2 L1451.5,227.2 L1451.5,226.2 L1451.6,225.2 L1451.6,224.2 L1451.6,223.2 L1451.6,222.2 L1451.7,221.2 L1451.7,220.2 L1451.7,219.2 L1451.7,218.2 L1451.8,217.2 L1451.8,216.2 L1451.8,215.2 L1451.8,214.2 L1451.9,213.2 L1451.9,212.2 L1451.9,211.2 L1451.9,210.2 L1452.0,209.2 L1452.0,208.2 L1452.0,207.2 L1452.0,206.2 L1452.1,205.2 L1452.1,204.2 L1452.1,203.2 L1452.1,202.2 L1452.2,201.2 L1452.2,200.2 L1452.2,199.2 L1452.2,198.2 L1452.3,197.2 L1452.3,196.2 L1452.3,195.2 L1452.4,194.2 L1452.4,193.2 L1452.4,192.2 L1452.5,191.2 L1452.5,190.2 L1452.5,189.2 L1452.6,188.2 L1452.6,187.2 L1452.6,186.2 L1452.7,185.2 L1452.7,184.2 L1452.7,183.2 L1452.8,182.2 L1452.8,181.2 L1452.9,180.2 L1452.9,179.2 L1453.0,178.2 L1453.0,177.2 L1453.0,176.2 L1453.1,175.2 L1453.1,174.2 L1453.2,173.2 L1453.2,172.2 L1453.3,171.2 L1453.3,170.2 L1453.4,169.2 L1453.4,168.2 L1453.5,167.2 L1453.5,166.2 L1453.6,165.2 L1453.7,164.2 L1453.7,163.2 L1453.8,162.2 L1453.8,161.2 L1453.9,160.2 L1453.9,159.2 L1454.0,158.2 L1454.1,157.2 L1454.2,156.2 L1454.3,155.2 L1454.4,154.2 L1454.5,153.2 L1454.7,152.3 L1454.8,151.3 L1455.0,150.3 L1455.1,149.3 L1455.3,148.3 L1455.5,147.3 L1455.7,146.3 L1455.9,145.3 L1456.0,144.4 L1456.2,143.4 L1456.4,142.4 L1456.6,141.4 L1456.8,140.6 L1457.0,141.6 L1457.2,142.6 L1457.4,143.6 L1457.5,144.5 L1457.7,145.5 L1457.9,146.5 L1458.1,147.5 L1458.2,148.5 L1458.4,149.5 L1458.6,150.5 L1458.7,151.5 L1458.9,152.4 L1459.0,153.4 L1459.1,154.4 L1459.2,155.4 L1459.3,156.4 L1459.4,157.4 L1459.5,158.4 L1459.6,159.4 L1459.6,160.4 L1459.7,161.4 L1459.7,162.4 L1459.8,163.4 L1459.9,164.4 L1459.9,165.4 L1460.0,166.4 L1460.0,167.4 L1460.1,168.4 L1460.1,169.4 L1460.2,170.4 L1460.2,171.4 L1460.3,172.4 L1460.4,173.4 L1460.4,174.4 L1460.5,175.4 L1460.5,176.4 L1460.6,177.4 L1460.6,178.4 L1460.7,179.4 L1460.7,180.4 L1460.8,181.4 L1460.8,182.4 L1460.9,183.4 L1461.0,184.4 L1461.0,185.4 L1461.1,186.4 L1461.1,187.4 L1461.2,188.4 L1461.2,189.4 L1461.3,190.4 L1461.3,191.3 L1461.4,192.3 L1461.4,193.3 L1461.5,194.3 L1461.6,195.3 L1461.6,196.3 L1461.7,197.3 L1461.7,198.3 L1461.8,199.3 L1461.8,200.3 L1461.9,201.3 L1462.0,202.3 L1462.0,203.3 L1462.1,204.3 L1462.1,205.3 L1462.2,206.3 L1462.2,207.3 L1462.3,208.3 L1462.4,209.3 L1462.4,210.3 L1462.5,211.3 L1462.5,212.3 L1462.6,213.3 L1462.7,214.3 L1462.7,215.3 L1462.8,216.3 L1462.8,217.3 L1462.9,218.3 L1463.0,219.3 L1463.0,220.3 L1463.1,221.3 L1463.1,222.3 L1463.2,223.3 L1463.2,224.3 L1463.3,225.3 L1463.4,226.3 L1463.4,227.3 L1463.5,228.3 L1463.5,229.3 L1463.6,230.3 L1463.6,231.3 L1463.7,232.3 L1463.8,233.3 L1463.8,234.3 L1463.9,235.3 L1463.9,236.3 L1464.0,237.3 L1464.0,238.3 L1464.1,239.3 L1464.1,240.3 L1464.2,241.3 L1464.3,242.3 L1464.3,243.3 L1464.4,244.3 L1464.4,245.3 L1464.5,246.3 L1464.5,247.3 L1464.6,248.3 L1464.6,249.3 L1464.7,250.3 L1464.7,251.3 L1464.8,252.3 L1464.8,253.3 L1464.9,254.3 L1464.9,255.2 L1465.0,256.2 L1465.0,257.2 L1465.0,258.2 L1465.1,259.2 L1465.1,260.2 L1465.2,261.2 L1465.2,262.2 L1465.3,263.2 L1465.3,264.2 L1465.4,265.2 L1465.4,266.2 L1465.5,267.2 L1465.5,268.2 L1465.6,269.2 L1465.6,270.2 L1465.7,271.2 L1465.7,272.2 L1465.7,273.2 L1465.8,274.2 L1465.8,275.2 L1465.9,276.2 L1465.9,277.2 L1466.0,278.2 L1466.0,279.2 L1466.0,280.2 L1466.1,281.2 L1466.1,282.2 L1466.2,283.2 L1466.2,284.2 L1466.2,285.2 L1466.3,286.2 L1466.3,287.2 L1466.4,288.2 L1466.4,289.2 L1466.4,290.2 L1466.5,291.2 L1466.5,292.2 L1466.6,293.2 L1466.6,294.2 L1466.7,295.2 L1466.7,296.2 L1466.8,297.2 L1466.8,298.2 L1466.9,299.2 L1466.9,300.2 L1467.0,301.2 L1467.0,302.2 L1467.1,303.2 L1467.1,304.2 L1467.2,305.2 L1467.3,306.2 L1467.3,307.2 L1467.4,308.2 L1467.4,309.2 L1467.5,310.2 L1467.6,311.2 L1467.6,312.2 L1467.7,313.2 L1467.8,314.2 L1467.8,315.2 L1467.9,316.2 L1468.0,317.2 L1468.0,318.2 L1468.1,319.2 L1468.2,320.2 L1468.3,321.2 L1468.3,322.2 L1468.4,323.2 L1468.5,324.2 L1468.5,325.2 L1468.6,326.1 L1468.7,327.1 L1468.7,328.1 L1468.8,329.1 L1468.9,330.1 L1468.9,331.1 L1469.0,332.1 L1469.1,333.1 L1469.1,334.1 L1469.2,335.1 L1469.3,336.1 L1469.3,337.1 L1469.4,338.1 L1469.5,339.1 L1469.5,340.1 L1469.6,341.1 L1469.6,342.1 L1469.7,343.1 L1469.8,344.1 L1469.8,345.1 L1469.9,346.1 L1469.9,347.1 L1470.0,348.1 L1470.1,349.1 L1470.1,350.1 L1470.2,351.1 L1470.2,352.1 L1470.3,353.1 L1470.3,354.1 L1470.4,355.1 L1470.5,356.1 L1470.5,357.1 L1470.6,358.1 L1470.6,359.1 L1470.7,360.1 L1470.8,361.1 L1470.8,362.1 L1470.9,363.1 L1470.9,364.1 L1471.0,365.1 L1471.0,366.1 L1471.1,367.1 L1471.2,368.1 L1471.2,369.1 L1471.3,370.1 L1471.3,371.1 L1471.4,372.1 L1471.4,373.1 L1471.5,374.1 L1471.6,375.1 L1471.6,376.1 L1471.7,377.1 L1471.7,378.1 L1471.8,379.1 L1471.8,380.1 L1471.9,381.1 L1471.9,382.1 L1472.0,383.0 L1472.0,384.0 L1472.1,385.0 L1472.1,386.0 L1472.2,387.0 L1472.2,388.0 L1472.3,389.0 L1472.3,390.0 L1472.4,391.0 L1472.4,392.0 L1472.5,393.0 L1472.5,394.0 L1472.6,395.0 L1472.6,396.0 L1472.7,397.0 L1472.7,398.0 L1472.8,399.0 L1472.8,400.0 L1472.9,401.0 L1472.9,402.0 L1473.0,403.0 L1473.0,404.0 L1473.1,405.0 L1473.1,406.0 L1473.2,407.0 L1473.2,408.0 L1473.3,409.0 L1473.3,410.0 L1473.4,411.0 L1473.4,412.0 L1473.5,413.0 L1473.5,414.0 L1473.6,415.0 L1473.6,416.0 L1473.7,417.0 L1473.7,418.0 L1473.8,419.0 L1473.8,420.0 L1473.9,421.0 L1473.9,422.0 L1474.0,423.0 L1474.0,424.0 L1474.1,425.0 L1474.1,426.0 L1474.2,427.0 L1474.3,428.0 L1474.3,429.0 L1474.4,430.0 L1474.4,431.0 L1474.5,432.0 L1474.5,433.0 L1474.6,434.0 L1474.7,435.0 L1474.7,436.0 L1474.8,437.0 L1474.8,438.0 L1474.9,439.0 L1475.0,440.0 L1475.0,441.0 L1475.1,442.0 L1475.1,443.0 L1475.2,444.0 L1475.3,445.0 L1475.3,446.0 L1475.4,447.0 L1475.5,448.0 L1475.5,449.0 L1475.6,450.0 L1475.7,450.9 L1475.7,451.9 L1475.8,452.9 L1475.9,453.9 L1476.0,454.9 L1476.1,455.9 L1476.1,456.9 L1476.2,457.9 L1476.3,458.9 L1476.4,459.9 L1476.5,460.9 L1476.6,461.9 L1476.7,462.9 L1476.8,463.9 L1476.9,464.9 L1477.0,465.9 L1477.1,466.9 L1477.2,467.9 L1477.2,468.9 L1477.3,469.9 L1477.4,470.9 L1477.5,471.9 L1477.6,472.9 L1477.7,473.9 L1477.8,474.8 L1477.9,475.8 L1478.0,476.8 L1478.1,477.8 L1478.2,478.8 L1478.3,479.8 L1478.4,480.8 L1478.5,481.8 L1478.6,482.8 L1478.7,483.8 L1478.8,484.8 L1479.0,485.8 L1479.1,486.8 L1479.2,487.8 L1479.3,488.8 L1479.4,489.8 L1479.5,490.8 L1479.6,491.8 L1479.8,492.7 L1479.9,493.7 L1480.0,494.7 L1480.1,495.7 L1480.2,496.7 L1480.4,497.7 L1480.5,498.7 L1480.6,499.7 L1480.8,500.7 L1481.0,501.7 L1481.2,502.6 L1481.4,503.6 L1481.6,504.6 L1481.8,505.5"/>
</g>
<path class="ax" stroke-linecap="square" d="M205.5,975.5 H1482.55"/>
<path class="ax" stroke-linecap="square" d="M205.5,975.5 V27.95"/>
<path class="ax" stroke-linecap="square" style="stroke-width:3.8" d="M205.5,27.95 H1482.55"/>
<path class="ax" stroke-linecap="square" style="stroke-width:4" d="M1482.55,27.95 V975.5"/>
<path class="axt" d="M205.5,975.5 v19.2 M294.1,975.5 v10 M382.8,975.5 v19.2 M471.4,975.5 v10 M560.1,975.5 v19.2 M648.7,975.5 v10 M737.3,975.5 v19.2 M826.0,975.5 v10 M914.6,975.5 v19.2 M1003.3,975.5 v10 M1091.9,975.5 v19.2 M1180.5,975.5 v10 M1269.2,975.5 v19.2 M1357.8,975.5 v10 M1446.5,975.5 v19.2 M205.5,928.4 h-19.2 M205.5,860.8 h-10 M205.5,793.2 h-19.2 M205.5,725.6 h-10 M205.5,658.0 h-19.2 M205.5,590.5 h-10 M205.5,522.9 h-19.2 M205.5,455.3 h-10 M205.5,387.7 h-19.2 M205.5,320.1 h-10 M205.5,252.5 h-19.2 M205.5,184.9 h-10 M205.5,117.3 h-19.2 M205.5,49.7 h-10"/>
<text class="tk" transform="translate(205.5,1043.6) scale(1,1.05)" text-anchor="middle">4000</text>
<text class="tk" transform="translate(382.8,1043.6) scale(1,1.05)" text-anchor="middle">3500</text>
<text class="tk" transform="translate(560.1,1043.6) scale(1,1.05)" text-anchor="middle">3000</text>
<text class="tk" transform="translate(737.3,1043.6) scale(1,1.05)" text-anchor="middle">2500</text>
<text class="tk" transform="translate(914.6,1043.6) scale(1,1.05)" text-anchor="middle">2000</text>
<text class="tk" transform="translate(1091.9,1043.6) scale(1,1.05)" text-anchor="middle">1500</text>
<text class="tk" transform="translate(1269.2,1043.6) scale(1,1.05)" text-anchor="middle">1000</text>
<text class="tk" transform="translate(1446.5,1043.6) scale(1,1.05)" text-anchor="middle">500</text>
<text class="tk" transform="translate(173.6,941.3) scale(1,1.05)" text-anchor="end">0.0</text>
<text class="tk" transform="translate(173.6,806.1) scale(1,1.05)" text-anchor="end">0.2</text>
<text class="tk" transform="translate(173.6,670.9) scale(1,1.05)" text-anchor="end">0.4</text>
<text class="tk" transform="translate(173.6,535.8) scale(1,1.05)" text-anchor="end">0.6</text>
<text class="tk" transform="translate(173.6,400.6) scale(1,1.05)" text-anchor="end">0.8</text>
<text class="tk" transform="translate(173.6,265.4) scale(1,1.05)" text-anchor="end">1.0</text>
<text class="tk" transform="translate(173.6,130.2) scale(1,1.05)" text-anchor="end">1.2</text>
<text class="ti" transform="translate(606.2,1140) scale(1,1.035)" dx="0 3">Wavenumber / cm<tspan dy="-29.5" dx="3" font-size="32px">-1</tspan></text>
<text class="ti" transform="translate(73.7,751.9) rotate(-90) scale(1,1.03)">Absorbance / u.a.</text>
<rect x="347.1" y="74.1" width="582.7" height="464.8" fill="#fff"/>
<g clip-path="url(#ic)">
<path class="c" stroke="#000" stroke-width="6.4" d="M487.9,70.0 L487.9,70.7 L487.9,71.4 L487.9,72.1 L488.0,72.8 L488.0,73.5 L488.0,74.2 L488.1,74.9 L488.1,75.6 L488.1,76.3 L488.2,77.0 L488.2,77.7 L488.3,78.4 L488.3,79.1 L488.3,79.8 L488.4,80.5 L488.4,81.2 L488.4,81.9 L488.5,82.6 L488.5,83.3 L488.6,84.0 L488.6,84.7 L488.6,85.4 L488.7,86.1 L488.7,86.8 L488.8,87.5 L488.8,88.2 L488.9,88.9 L488.9,89.6 L489.0,90.3 L489.0,91.0 L489.1,91.7 L489.1,92.4 L489.2,93.1 L489.2,93.8 L489.3,94.5 L489.3,95.2 L489.4,95.9 L489.4,96.6 L489.5,97.2 L489.6,97.9 L489.6,98.6 L489.7,99.3 L489.7,100.0 L489.8,100.7 L489.9,101.4 L489.9,102.1 L490.0,102.8 L490.1,103.5 L490.1,104.2 L490.2,104.9 L490.2,105.6 L490.3,106.3 L490.4,107.0 L490.4,107.7 L490.5,108.4 L490.6,109.1 L490.6,109.8 L490.7,110.5 L490.8,111.2 L490.8,111.9 L490.9,112.6 L491.0,113.3 L491.0,114.0 L491.1,114.7 L491.1,115.4 L491.2,116.1 L491.3,116.8 L491.3,117.5 L491.4,118.2 L491.5,118.9 L491.5,119.6 L491.6,120.3 L491.6,121.0 L491.7,121.7 L491.8,122.3 L491.8,123.0 L491.9,123.7 L491.9,124.4 L492.0,125.1 L492.1,125.8 L492.1,126.5 L492.2,127.2 L492.2,127.9 L492.3,128.6 L492.3,129.3 L492.4,130.0 L492.4,130.7 L492.5,131.4 L492.5,132.1 L492.6,132.8 L492.6,133.5 L492.6,134.2 L492.7,134.9 L492.7,135.6 L492.8,136.3 L492.8,137.0 L492.9,137.7 L492.9,138.4 L493.0,139.1 L493.0,139.8 L493.1,140.5 L493.2,141.2 L493.2,141.9 L493.3,142.6 L493.3,143.3 L493.4,144.0 L493.5,144.7 L493.5,145.4 L493.6,146.1 L493.7,146.8 L493.7,147.5 L493.8,148.2 L493.9,148.9 L494.0,149.6 L494.0,150.3 L494.1,151.0 L494.2,151.6 L494.3,152.3 L494.4,153.0 L494.4,153.7 L494.5,154.4 L494.6,155.1 L494.7,155.8 L494.8,156.5 L494.8,157.2 L494.9,157.9 L495.0,158.6 L495.1,159.3 L495.2,160.0 L495.2,160.7 L495.3,161.4 L495.4,162.1 L495.5,162.8 L495.5,163.5 L495.6,164.2 L495.7,164.9 L495.8,165.6 L495.9,166.3 L495.9,166.9 L496.0,167.6 L496.1,168.3 L496.2,169.0 L496.3,169.7 L496.3,170.4 L496.4,171.1 L496.5,171.8 L496.6,172.5 L496.7,173.2 L496.7,173.9 L496.8,174.6 L496.9,175.3 L497.0,176.0 L497.1,176.7 L497.1,177.4 L497.2,178.1 L497.3,178.8 L497.4,179.5 L497.5,180.2 L497.5,180.9 L497.6,181.5 L497.7,182.2 L497.8,182.9 L497.9,183.6 L497.9,184.3 L498.0,185.0 L498.1,185.7 L498.2,186.4 L498.3,187.1 L498.3,187.8 L498.4,188.5 L498.5,189.2 L498.6,189.9 L498.7,190.6 L498.7,191.3 L498.8,192.0 L498.9,192.7 L499.0,193.4 L499.1,194.1 L499.1,194.8 L499.2,195.5 L499.3,196.2 L499.4,196.8 L499.5,197.5 L499.5,198.2 L499.6,198.9 L499.7,199.6 L499.8,200.3 L499.9,201.0 L499.9,201.7 L500.0,202.4 L500.1,203.1 L500.2,203.8 L500.3,204.5 L500.4,205.2 L500.4,205.9 L500.5,206.6 L500.6,207.3 L500.7,208.0 L500.8,208.7 L500.9,209.4 L501.0,210.1 L501.0,210.8 L501.1,211.4 L501.2,212.1 L501.3,212.8 L501.4,213.5 L501.5,214.2 L501.6,214.9 L501.7,215.6 L501.7,216.3 L501.8,217.0 L501.9,217.7 L502.0,218.4 L502.1,219.1 L502.2,219.8 L502.2,220.5 L502.3,221.2 L502.4,221.9 L502.5,222.6 L502.5,223.3 L502.6,224.0 L502.7,224.7 L502.8,225.3 L502.9,226.0 L502.9,226.7 L503.0,227.4 L503.1,228.1 L503.2,228.8 L503.3,229.5 L503.3,230.2 L503.4,230.9 L503.5,231.6 L503.6,232.3 L503.6,233.0 L503.7,233.7 L503.8,234.4 L503.9,235.1 L504.0,235.8 L504.0,236.5 L504.1,237.2 L504.2,237.9 L504.3,238.6 L504.4,239.3 L504.4,240.0 L504.5,240.6 L504.6,241.3 L504.7,242.0 L504.8,242.7 L504.8,243.4 L504.9,244.1 L505.0,244.8 L505.1,245.5 L505.1,246.2 L505.2,246.9 L505.3,247.6 L505.4,248.3 L505.5,249.0 L505.5,249.7 L505.6,250.4 L505.7,251.1 L505.8,251.8 L505.9,252.5 L505.9,253.2 L506.0,253.9 L506.1,254.6 L506.2,255.3 L506.2,256.0 L506.3,256.6 L506.4,257.3 L506.5,258.0 L506.6,258.7 L506.6,259.4 L506.7,260.1 L506.8,260.8 L506.9,261.5 L507.0,262.2 L507.1,262.9 L507.1,263.6 L507.2,264.3 L507.3,265.0 L507.4,265.7 L507.5,266.4 L507.6,267.1 L507.7,267.8 L507.8,268.5 L507.9,269.2 L508.0,269.8 L508.1,270.5 L508.1,271.2 L508.2,271.9 L508.3,272.6 L508.4,273.3 L508.5,274.0 L508.6,274.7 L508.7,275.4 L508.8,276.1 L508.9,276.8 L509.0,277.5 L509.1,278.2 L509.2,278.9 L509.3,279.6 L509.4,280.2 L509.5,280.9 L509.6,281.6 L509.7,282.3 L509.8,283.0 L509.9,283.7 L510.0,284.4 L510.1,285.1 L510.2,285.8 L510.3,286.5 L510.4,287.2 L510.5,287.9 L510.6,288.6 L510.7,289.2 L510.9,289.9 L511.0,290.6 L511.1,291.3 L511.2,292.0 L511.3,292.7 L511.4,293.4 L511.5,294.1 L511.6,294.8 L511.7,295.5 L511.8,296.2 L511.9,296.9 L512.1,297.5 L512.2,298.2 L512.3,298.9 L512.4,299.6 L512.5,300.3 L512.6,301.0 L512.7,301.7 L512.9,302.4 L513.0,303.1 L513.1,303.8 L513.2,304.4 L513.4,305.1 L513.5,305.8 L513.6,306.5 L513.8,307.2 L513.9,307.9 L514.0,308.6 L514.2,309.3 L514.3,309.9 L514.4,310.6 L514.6,311.3 L514.7,312.0 L514.9,312.7 L515.0,313.4 L515.1,314.1 L515.3,314.7 L515.4,315.4 L515.6,316.1 L515.7,316.8 L515.8,317.5 L516.0,318.2 L516.1,318.9 L516.3,319.5 L516.4,320.2 L516.6,320.9 L516.8,321.6 L516.9,322.3 L517.1,322.9 L517.3,323.6 L517.4,324.3 L517.6,325.0 L517.8,325.7 L517.9,326.3 L518.1,327.0 L518.3,327.7 L518.5,328.4 L518.7,329.0 L518.8,329.7 L519.0,330.4 L519.2,331.1 L519.4,331.7 L519.6,332.4 L519.8,333.1 L520.0,333.8 L520.2,334.4 L520.4,335.1 L520.7,335.8 L520.9,336.4 L521.2,337.1 L521.4,337.7 L521.7,338.3 L522.0,339.0 L522.3,339.6 L522.5,340.3 L522.8,340.9 L523.1,341.6 L523.4,342.2 L523.7,342.8 L524.0,343.5 L524.4,344.1 L524.7,344.7 L525.1,345.2 L525.4,345.8 L525.8,346.4 L526.2,347.0 L526.7,347.5 L527.1,348.1 L527.6,348.6 L528.2,349.2 L528.7,349.7 L529.3,350.2 L529.8,350.7 L530.4,351.0 L531.0,351.2 L531.6,351.3 L532.2,351.2 L532.8,351.0 L533.5,350.6 L534.1,350.1 L534.7,349.5 L535.3,349.0 L535.8,348.4 L536.3,347.9 L536.7,347.3 L537.2,346.8 L537.5,346.2 L537.9,345.6 L538.2,345.0 L538.5,344.4 L538.8,343.8 L539.0,343.1 L539.2,342.4 L539.4,341.8 L539.7,341.1 L539.9,340.4 L540.1,339.8 L540.3,339.1 L540.5,338.4 L540.7,337.8 L540.9,337.1 L541.1,336.4 L541.4,335.8 L541.5,335.1 L541.7,334.4 L541.9,333.8 L542.1,333.1 L542.3,332.4 L542.5,331.7 L542.7,331.1 L542.9,330.4 L543.1,329.7 L543.3,329.0 L543.5,328.4 L543.7,327.7 L543.9,327.0 L544.0,326.3 L544.2,325.7 L544.4,325.0 L544.6,324.3 L544.8,323.7 L545.0,323.0 L545.2,322.3 L545.3,321.6 L545.5,320.9 L545.7,320.3 L545.9,319.6 L546.0,318.9 L546.2,318.2 L546.3,317.5 L546.5,316.9 L546.7,316.2 L546.8,315.5 L547.0,314.8 L547.1,314.1 L547.3,313.5 L547.4,312.8 L547.6,312.1 L547.8,311.4 L547.9,310.7 L548.1,310.0 L548.2,309.4 L548.4,308.7 L548.5,308.0 L548.7,307.3 L548.9,306.6 L549.0,305.9 L549.2,305.3 L549.3,304.6 L549.5,303.9 L549.7,303.2 L549.8,302.5 L550.0,301.9 L550.1,301.2 L550.3,300.5 L550.4,299.8 L550.6,299.1 L550.8,298.4 L550.9,297.8 L551.1,297.1 L551.2,296.4 L551.4,295.7 L551.5,295.0 L551.7,294.4 L551.9,293.7 L552.0,293.0 L552.2,292.3 L552.3,291.6 L552.5,290.9 L552.6,290.3 L552.8,289.6 L553.0,288.9 L553.1,288.2 L553.3,287.5 L553.4,286.9 L553.6,286.2 L553.7,285.5 L553.9,284.8 L554.1,284.1 L554.2,283.4 L554.4,282.8 L554.5,282.1 L554.7,281.4 L554.9,280.7 L555.0,280.0 L555.2,279.4 L555.4,278.7 L555.5,278.0 L555.7,277.3 L555.9,276.6 L556.0,276.0 L556.2,275.3 L556.4,274.6 L556.6,273.9 L556.7,273.2 L556.9,272.6 L557.1,271.9 L557.2,271.2 L557.4,270.5 L557.6,269.9 L557.8,269.2 L557.9,268.5 L558.1,267.8 L558.3,267.1 L558.5,266.5 L558.7,265.8 L558.9,265.1 L559.1,264.5 L559.3,263.8 L559.5,263.1 L559.7,262.4 L559.9,261.8 L560.1,261.1 L560.3,260.4 L560.5,259.8 L560.8,259.1 L561.0,258.5 L561.2,257.8 L561.4,257.1 L561.7,256.5 L561.9,255.8 L562.1,255.1 L562.4,254.5 L562.6,253.8 L562.9,253.2 L563.1,252.5 L563.4,251.9 L563.7,251.3 L564.0,250.6 L564.3,250.0 L564.6,249.4 L564.9,248.8 L565.3,248.1 L565.6,247.5 L565.9,246.9 L566.3,246.3 L566.6,245.6 L567.0,245.1 L567.4,244.5 L567.8,243.9 L568.2,243.4 L568.7,242.9 L569.2,242.4 L569.8,242.0 L570.3,241.5 L571.0,241.1 L571.6,240.7 L572.3,240.3 L573.0,240.0 L573.7,239.8 L574.3,239.7 L575.0,239.6 L575.7,239.6 L576.3,239.7 L577.0,239.8 L577.7,240.0 L578.3,240.2 L579.0,240.4 L579.6,240.8 L580.2,241.1 L580.9,241.5 L581.5,242.0 L582.1,242.4 L582.7,242.9 L583.2,243.4 L583.7,243.9 L584.2,244.3 L584.7,244.8 L585.2,245.3 L585.6,245.9 L586.0,246.4 L586.4,247.0 L586.7,247.6 L587.1,248.2 L587.4,248.8 L587.8,249.4 L588.1,250.0 L588.5,250.6 L588.8,251.3 L589.1,251.9 L589.5,252.5 L589.8,253.1 L590.2,253.7 L590.5,254.3 L590.8,254.9 L591.2,255.5 L591.5,256.2 L591.8,256.8 L592.2,257.4 L592.5,258.0 L592.9,258.6 L593.2,259.2 L593.5,259.8 L593.9,260.4 L594.2,261.1 L594.6,261.7 L594.9,262.3 L595.2,262.9 L595.5,263.5 L595.9,264.2 L596.2,264.8 L596.5,265.4 L596.7,266.1 L597.0,266.7 L597.3,267.3 L597.6,268.0 L597.9,268.6 L598.2,269.3 L598.4,269.9 L598.7,270.5 L599.0,271.2 L599.3,271.8 L599.6,272.5 L599.9,273.1 L600.1,273.7 L600.4,274.4 L600.7,275.0 L601.0,275.7 L601.3,276.3 L601.6,276.9 L601.9,277.6 L602.1,278.2 L602.4,278.8 L602.7,279.5 L603.0,280.1 L603.3,280.8 L603.6,281.4 L603.8,282.0 L604.1,282.7 L604.4,283.3 L604.7,284.0 L605.0,284.6 L605.3,285.2 L605.6,285.9 L605.8,286.5 L606.1,287.2 L606.4,287.8 L606.7,288.4 L607.0,289.1 L607.3,289.7 L607.5,290.4 L607.8,291.0 L608.1,291.7 L608.3,292.3 L608.5,293.0 L608.8,293.6 L609.0,294.3 L609.2,295.0 L609.4,295.6 L609.7,296.3 L609.9,297.0 L610.1,297.6 L610.4,298.3 L610.6,298.9 L610.9,299.6 L611.2,300.2 L611.4,300.9 L611.7,301.5 L612.0,302.2 L612.2,302.8 L612.5,303.4 L612.8,304.1 L613.1,304.7 L613.4,305.4 L613.6,306.0 L613.9,306.7 L614.2,307.3 L614.5,307.9 L614.8,308.6 L615.1,309.2 L615.4,309.8 L615.6,310.5 L615.9,311.1 L616.2,311.8 L616.5,312.4 L616.8,313.0 L617.1,313.7 L617.4,314.3 L617.7,314.9 L618.0,315.6 L618.3,316.2 L618.6,316.8 L618.9,317.5 L619.2,318.1 L619.5,318.7 L619.8,319.4 L620.1,320.0 L620.4,320.6 L620.7,321.3 L621.0,321.9 L621.3,322.5 L621.6,323.1 L621.9,323.8 L622.2,324.4 L622.5,325.0 L622.9,325.7 L623.2,326.3 L623.5,326.9 L623.8,327.5 L624.1,328.2 L624.4,328.8 L624.7,329.4 L625.1,330.0 L625.4,330.7 L625.7,331.3 L626.0,331.9 L626.3,332.5 L626.7,333.2 L627.0,333.8 L627.3,334.4 L627.6,335.0 L628.0,335.6 L628.3,336.2 L628.7,336.8 L629.0,337.4 L629.4,338.0 L629.7,338.6 L630.1,339.2 L630.4,339.8 L630.8,340.4 L631.2,341.0 L631.5,341.6 L631.9,342.2 L632.3,342.8 L632.7,343.4 L633.1,344.0 L633.5,344.5 L634.0,345.1 L634.4,345.6 L634.9,346.1 L635.3,346.7 L635.8,347.2 L636.3,347.7 L636.8,348.2 L637.2,348.7 L637.7,349.2 L638.2,349.7 L638.7,350.2 L639.2,350.6 L639.8,351.1 L640.3,351.5 L640.9,351.9 L641.5,352.3 L642.1,352.7 L642.8,353.1 L643.4,353.5 L644.1,353.8 L644.7,354.0 L645.4,354.2 L646.1,354.4 L646.7,354.5 L647.4,354.6 L648.1,354.7 L648.7,354.6 L649.4,354.5 L650.1,354.3 L650.8,354.1 L651.4,353.8 L652.1,353.5 L652.8,353.1 L653.4,352.7 L654.0,352.2 L654.5,351.8 L655.0,351.3 L655.5,350.8 L655.9,350.3 L656.4,349.7 L656.8,349.2 L657.1,348.6 L657.5,348.0 L657.9,347.3 L658.3,346.7 L658.6,346.1 L659.0,345.5 L659.3,344.9 L659.6,344.3 L659.9,343.7 L660.2,343.0 L660.5,342.4 L660.8,341.8 L661.0,341.1 L661.3,340.4 L661.5,339.8 L661.7,339.1 L661.9,338.4 L662.1,337.8 L662.3,337.1 L662.5,336.4 L662.6,335.7 L662.8,335.1 L663.0,334.4 L663.2,333.7 L663.4,333.1 L663.6,332.4 L663.8,331.7 L664.0,331.0 L664.2,330.4 L664.3,329.7 L664.5,329.0 L664.7,328.3 L664.9,327.6 L665.1,327.0 L665.2,326.3 L665.4,325.6 L665.6,324.9 L665.8,324.3 L665.9,323.6 L666.1,322.9 L666.3,322.2 L666.5,321.5 L666.6,320.9 L666.8,320.2 L667.0,319.5 L667.1,318.8 L667.3,318.2 L667.5,317.5 L667.6,316.8 L667.8,316.1 L668.0,315.4 L668.1,314.8 L668.3,314.1 L668.5,313.4 L668.6,312.7 L668.8,312.0 L668.9,311.3 L669.1,310.7 L669.2,310.0 L669.4,309.3 L669.5,308.6 L669.7,307.9 L669.8,307.2 L670.0,306.6 L670.1,305.9 L670.2,305.2 L670.4,304.5 L670.5,303.8 L670.7,303.1 L670.8,302.4 L670.9,301.8 L671.1,301.1 L671.2,300.4 L671.3,299.7 L671.5,299.0 L671.6,298.3 L671.7,297.6 L671.9,296.9 L672.0,296.3 L672.1,295.6 L672.3,294.9 L672.4,294.2 L672.5,293.5 L672.6,292.8 L672.7,292.1 L672.9,291.4 L673.0,290.7 L673.1,290.0 L673.2,289.4 L673.3,288.7 L673.4,288.0 L673.6,287.3 L673.7,286.6 L673.8,285.9 L673.9,285.2 L674.0,284.5 L674.1,283.8 L674.2,283.1 L674.3,282.5 L674.5,281.8 L674.6,281.1 L674.7,280.4 L674.8,279.7 L674.9,279.0 L675.0,278.3 L675.1,277.6 L675.2,276.9 L675.3,276.2 L675.5,275.5 L675.6,274.8 L675.7,274.2 L675.8,273.5 L675.9,272.8 L676.0,272.1 L676.1,271.4 L676.2,270.7 L676.4,270.0 L676.5,269.3 L676.6,268.6 L676.7,267.9 L676.8,267.3 L676.9,266.6 L677.1,265.9 L677.2,265.2 L677.3,264.5 L677.4,263.8 L677.6,263.1 L677.7,262.4 L677.8,261.7 L677.9,261.0 L678.1,260.4 L678.2,259.7 L678.3,259.0 L678.4,258.3 L678.6,257.6 L678.7,256.9 L678.8,256.2 L678.9,255.5 L679.1,254.9 L679.2,254.2 L679.3,253.5 L679.4,252.8 L679.6,252.1 L679.7,251.4 L679.8,250.7 L680.0,250.0 L680.1,249.3 L680.2,248.7 L680.3,248.0 L680.5,247.3 L680.6,246.6 L680.7,245.9 L680.9,245.2 L681.0,244.5 L681.1,243.8 L681.3,243.2 L681.4,242.5 L681.5,241.8 L681.6,241.1 L681.8,240.4 L681.9,239.7 L682.0,239.0 L682.2,238.3 L682.3,237.7 L682.4,237.0 L682.6,236.3 L682.7,235.6 L682.8,234.9 L683.0,234.2 L683.1,233.5 L683.3,232.8 L683.4,232.2 L683.5,231.5 L683.7,230.8 L683.8,230.1 L684.0,229.4 L684.1,228.7 L684.3,228.1 L684.4,227.4 L684.5,226.7 L684.7,226.0 L684.8,225.3 L685.0,224.6 L685.1,223.9 L685.3,223.3 L685.4,222.6 L685.6,221.9 L685.7,221.2 L685.9,220.5 L686.1,219.8 L686.2,219.2 L686.4,218.5 L686.5,217.8 L686.7,217.1 L686.8,216.4 L687.0,215.8 L687.2,215.1 L687.3,214.4 L687.5,213.7 L687.6,213.0 L687.8,212.3 L688.0,211.7 L688.2,211.0 L688.4,210.3 L688.6,209.7 L688.8,209.0 L689.0,208.3 L689.2,207.7 L689.5,207.0 L689.7,206.3 L689.9,205.7 L690.2,205.0 L690.4,204.4 L690.7,203.7 L690.9,203.0 L691.1,202.4 L691.4,201.7 L691.6,201.1 L691.9,200.4 L692.1,199.8 L692.4,199.1 L692.7,198.5 L693.0,197.8 L693.2,197.2 L693.5,196.6 L693.8,195.9 L694.1,195.3 L694.5,194.7 L694.8,194.1 L695.1,193.4 L695.4,192.8 L695.8,192.2 L696.1,191.6 L696.5,191.0 L696.9,190.5 L697.3,190.0 L697.8,189.5 L698.4,189.0 L699.0,188.5 L699.6,188.0 L700.3,187.7 L701.0,187.5 L701.6,187.5 L702.3,187.5 L702.9,187.6 L703.6,187.8 L704.2,188.1 L704.9,188.5 L705.4,189.1 L706.0,189.7 L706.4,190.3 L706.8,190.9 L707.2,191.5 L707.5,192.1 L707.8,192.7 L708.1,193.3 L708.3,193.9 L708.6,194.5 L708.9,195.2 L709.2,195.8 L709.4,196.5 L709.7,197.1 L710.0,197.8 L710.3,198.4 L710.5,199.0 L710.8,199.7 L711.1,200.3 L711.3,201.0 L711.6,201.6 L711.9,202.3 L712.1,202.9 L712.4,203.6 L712.6,204.2 L712.9,204.9 L713.1,205.5 L713.4,206.2 L713.6,206.9 L713.9,207.5 L714.1,208.2 L714.3,208.8 L714.6,209.5 L714.8,210.2 L715.0,210.8 L715.2,211.5 L715.4,212.2 L715.6,212.8 L715.7,213.5 L715.9,214.2 L716.1,214.9 L716.2,215.6 L716.4,216.3 L716.6,216.9 L716.7,217.6 L716.9,218.3 L717.0,219.0 L717.2,219.7 L717.3,220.4 L717.5,221.0 L717.6,221.7 L717.8,222.4 L717.9,223.1 L718.1,223.8 L718.2,224.5 L718.3,225.1 L718.5,225.8 L718.6,226.5 L718.7,227.2 L718.9,227.9 L719.0,228.6 L719.1,229.3 L719.3,230.0 L719.4,230.6 L719.5,231.3 L719.7,232.0 L719.8,232.7 L719.9,233.4 L720.1,234.1 L720.2,234.8 L720.3,235.5 L720.4,236.1 L720.6,236.8 L720.7,237.5 L720.8,238.2 L720.9,238.9 L721.1,239.6 L721.2,240.3 L721.3,241.0 L721.4,241.7 L721.6,242.3 L721.7,243.0 L721.8,243.7 L721.9,244.4 L722.1,245.1 L722.2,245.8 L722.3,246.5 L722.4,247.2 L722.6,247.9 L722.7,248.5 L722.8,249.2 L722.9,249.9 L723.0,250.6 L723.2,251.3 L723.3,252.0 L723.4,252.7 L723.5,253.4 L723.7,254.1 L723.8,254.8 L723.9,255.4 L724.0,256.1 L724.1,256.8 L724.2,257.5 L724.4,258.2 L724.5,258.9 L724.6,259.6 L724.7,260.3 L724.8,261.0 L725.0,261.6 L725.1,262.3 L725.2,263.0 L725.3,263.7 L725.4,264.4 L725.5,265.1 L725.7,265.8 L725.8,266.5 L725.9,267.2 L725.9,267.9 L726.0,268.6 L726.1,269.3 L726.2,270.0 L726.2,270.7 L726.3,271.4 L726.4,272.0 L726.5,272.7 L726.7,273.4 L726.8,274.1 L727.0,274.8 L727.2,275.5 L727.3,276.1 L727.5,276.8 L727.6,277.5 L727.8,278.2 L728.0,278.9 L728.1,279.5 L728.3,280.2 L728.5,280.9 L728.7,281.6 L728.8,282.3 L729.0,282.9 L729.2,283.6 L729.3,284.3 L729.5,285.0 L729.6,285.7 L729.8,286.3 L730.0,287.0 L730.1,287.7 L730.3,288.4 L730.4,289.1 L730.6,289.8 L730.7,290.4 L730.9,291.1 L731.1,291.8 L731.2,292.5 L731.4,293.2 L731.5,293.9 L731.7,294.5 L731.8,295.2 L732.0,295.9 L732.2,296.6 L732.3,297.3 L732.5,297.9 L732.6,298.6 L732.8,299.3 L732.9,300.0 L733.1,300.7 L733.3,301.4 L733.4,302.0 L733.6,302.7 L733.7,303.4 L733.9,304.1 L734.0,304.8 L734.2,305.5 L734.4,306.1 L734.5,306.8 L734.7,307.5 L734.8,308.2 L735.0,308.9 L735.1,309.5 L735.3,310.2 L735.4,310.9 L735.6,311.6 L735.8,312.3 L735.9,313.0 L736.1,313.6 L736.3,314.3 L736.4,315.0 L736.6,315.7 L736.9,316.3 L737.1,317.0 L737.3,317.6 L737.5,318.3 L737.8,318.9 L738.0,319.6 L738.3,320.3 L738.6,320.9 L738.9,321.5 L739.1,322.2 L739.4,322.8 L739.7,323.5 L740.0,324.1 L740.3,324.8 L740.6,325.4 L741.0,326.0 L741.4,326.6 L741.7,327.2 L742.1,327.8 L742.6,328.4 L743.0,328.9 L743.5,329.4 L744.0,329.9 L744.5,330.4 L745.0,330.9 L745.6,331.3 L746.1,331.8 L746.7,332.2 L747.3,332.6 L747.8,333.0 L748.4,333.4 L749.0,333.8 L749.6,334.1 L750.2,334.5 L750.8,334.9 L751.4,335.3 L752.0,335.6 L752.6,336.0 L753.2,336.3 L753.8,336.7 L754.4,337.0 L755.0,337.4 L755.6,337.7 L756.2,338.1 L756.8,338.4 L757.4,338.8 L758.0,339.1 L758.6,339.5 L759.2,339.8 L759.8,340.2 L760.4,340.5 L761.1,340.9 L761.7,341.2 L762.3,341.5 L762.9,341.9 L763.5,342.2 L764.1,342.5 L764.7,342.9 L765.4,343.2 L766.0,343.5 L766.6,343.9 L767.2,344.2 L767.8,344.5 L768.5,344.8 L769.1,345.1 L769.7,345.4 L770.4,345.7 L771.0,346.0 L771.7,346.2 L772.3,346.5 L773.0,346.7 L773.6,347.0 L774.3,347.2 L775.0,347.5 L775.6,347.7 L776.3,347.9 L776.9,348.2 L777.6,348.4 L778.2,348.6 L778.9,348.9 L779.6,349.1 L780.2,349.4 L780.9,349.6 L781.5,349.9 L782.2,350.1 L782.8,350.4 L783.5,350.6 L784.1,350.9 L784.8,351.1 L785.4,351.4 L786.1,351.6 L786.8,351.9 L787.4,352.1 L788.1,352.4 L788.7,352.7 L789.3,353.0 L789.9,353.3 L790.5,353.6 L791.1,353.9 L791.7,354.3 L792.4,354.6 L793.0,354.9 L793.6,355.3 L794.2,355.6 L794.9,355.9 L795.6,356.2 L796.2,356.4 L796.9,356.7 L797.6,356.8 L798.3,357.0 L799.0,357.1 L799.7,357.2 L800.4,357.2 L801.1,357.2 L801.8,357.2 L802.4,357.1 L803.1,357.1 L803.8,357.0 L804.5,356.8 L805.2,356.7 L805.9,356.5 L806.6,356.2 L807.2,356.0 L807.9,355.7 L808.5,355.4 L809.2,355.1 L809.8,354.8 L810.4,354.5 L811.1,354.2 L811.7,353.9 L812.3,353.6 L813.0,353.3 L813.6,353.0 L814.2,352.8 L814.9,352.5 L815.5,352.2 L816.1,351.9 L816.8,351.6 L817.4,351.3 L818.1,351.0 L818.7,350.8 L819.3,350.5 L820.0,350.2 L820.6,349.9 L821.3,349.7 L822.0,349.5 L822.6,349.4 L823.3,349.2 L824.0,349.1 L824.7,349.0 L825.4,349.0 L826.1,348.8 L826.8,348.7 L827.5,348.5 L828.2,348.4 L828.9,348.2 L829.6,348.0 L830.2,347.9 L830.9,347.6 L831.6,347.4 L832.2,347.1 L832.8,346.8 L833.4,346.4 L834.0,346.0 L834.6,345.7 L835.2,345.3 L835.8,344.9 L836.4,344.5 L837.0,344.2 L837.6,343.8 L838.1,343.4 L838.7,343.0 L839.3,342.7 L839.9,342.3 L840.5,341.9 L841.1,341.5 L841.7,341.2 L842.3,340.8 L842.9,340.4 L843.5,340.0 L844.0,339.7 L844.6,339.3 L845.2,338.9 L845.8,338.5 L846.4,338.1 L846.9,337.6 L847.5,337.2 L848.0,336.8 L848.5,336.3 L849.0,335.8 L849.6,335.3 L850.1,334.8 L850.5,334.3 L851.0,333.8 L851.5,333.3 L851.9,332.7 L852.4,332.2 L852.9,331.7 L853.3,331.1 L853.7,330.6 L854.2,330.1 L854.6,329.5 L855.1,329.0 L855.5,328.4 L855.9,327.9 L856.4,327.3 L856.8,326.8 L857.2,326.2 L857.7,325.7 L858.1,325.1 L858.5,324.6 L858.9,324.0 L859.3,323.4 L859.7,322.9 L860.2,322.3 L860.6,321.7 L861.0,321.2 L861.4,320.6 L861.8,320.0 L862.2,319.5 L862.6,318.9 L863.0,318.3 L863.5,317.8 L863.9,317.2 L864.3,316.6 L864.7,316.1 L865.1,315.5 L865.5,315.0 L865.9,314.4 L866.4,313.8 L866.8,313.3 L867.2,312.7 L867.6,312.1 L868.0,311.6 L868.4,311.0 L868.9,310.4 L869.3,309.9 L869.7,309.3 L870.1,308.8 L870.5,308.2 L871.0,307.7 L871.4,307.1 L871.8,306.5 L872.2,306.0 L872.6,305.4 L873.0,304.8 L873.4,304.3 L873.8,303.7 L874.2,303.1 L874.6,302.5 L875.0,301.9 L875.3,301.3 L875.7,300.7 L876.0,300.1 L876.4,299.5 L876.7,298.9 L877.0,298.2 L877.3,297.6 L877.6,297.0 L877.9,296.3 L878.2,295.7 L878.5,295.1 L878.7,294.4 L879.0,293.8 L879.3,293.1 L879.6,292.5 L879.8,291.8 L880.1,291.2 L880.4,290.5 L880.7,289.9 L880.9,289.2 L881.2,288.6 L881.5,288.0 L881.8,287.3 L882.1,286.7 L882.4,286.1 L882.7,285.4 L883.0,284.8 L883.3,284.2 L883.6,283.5 L883.9,282.9 L884.2,282.3 L884.5,281.6 L884.8,281.0 L885.1,280.4 L885.4,279.8 L885.7,279.1 L886.0,278.5 L886.3,277.9 L886.6,277.2 L886.9,276.6 L887.2,276.0 L887.5,275.3 L887.8,274.7 L888.1,274.1 L888.4,273.4 L888.7,272.8 L889.0,272.2 L889.3,271.5 L889.6,270.9 L889.9,270.2 L890.1,269.6 L890.4,269.0 L890.7,268.3 L891.0,267.7 L891.3,267.0 L891.6,266.4 L891.8,265.8 L892.1,265.1 L892.4,264.5 L892.7,263.8 L893.0,263.2 L893.2,262.5 L893.5,261.9 L893.8,261.3 L894.1,260.6 L894.3,260.0 L894.6,259.3 L894.9,258.7 L895.2,258.1 L895.5,257.4 L895.7,256.8 L896.0,256.1 L896.3,255.5 L896.6,254.8 L896.9,254.2 L897.1,253.6 L897.4,252.9 L897.7,252.3 L898.0,251.6 L898.2,251.0 L898.5,250.3 L898.8,249.7 L899.1,249.1 L899.4,248.4 L899.6,247.8 L899.9,247.1 L900.2,246.5 L900.5,245.8 L900.7,245.2 L901.0,244.6 L901.3,243.9 L901.6,243.3 L901.9,242.6 L902.1,242.0 L902.4,241.4 L902.7,240.7 L903.0,240.1 L903.3,239.4 L903.5,238.8 L903.8,238.1 L904.1,237.5 L904.4,236.9 L904.7,236.2 L904.9,235.6 L905.2,234.9 L905.5,234.3 L905.8,233.7 L906.1,233.0 L906.4,232.4 L906.7,231.8 L907.0,231.1 L907.3,230.5 L907.6,229.9 L907.9,229.3 L908.3,228.6 L908.6,228.0 L908.9,227.4 L909.2,226.8 L909.6,226.2 L909.9,225.5 L910.2,224.9 L910.6,224.3 L910.9,223.7 L911.2,223.1 L911.6,222.5 L911.9,221.8 L912.3,221.2 L912.6,220.6 L913.0,220.0 L913.3,219.4 L913.7,218.8 L914.0,218.2 L914.4,217.6 L914.8,217.0 L915.1,216.4 L915.5,215.8 L915.9,215.2 L916.2,214.7 L916.6,214.1 L917.0,213.5 L917.4,212.9 L917.7,212.3 L918.1,211.7 L918.5,211.1 L918.8,210.5 L919.2,209.9 L919.6,209.3 L920.0,208.7 L920.3,208.1 L920.7,207.5 L921.1,207.0 L921.5,206.4 L921.9,205.8 L922.3,205.2 L922.7,204.6 L923.1,204.1 L923.5,203.5 L923.9,202.9 L924.3,202.4 L924.7,201.8 L925.2,201.2 L925.6,200.7 L926.1,200.2 L926.6,199.7 L927.1,199.2 L927.6,198.8 L928.1,198.3 L928.7,197.8 L929.2,197.4 L929.8,196.9 L930.3,196.5 L930.9,196.1 L931.4,195.7 L932.0,195.2 L932.6,194.8 L933.1,194.4 L933.7,194.0 L934.3,193.7 L934.9,193.3 L935.2,193.1"/>
<path class="c" stroke="#0000ff" stroke-width="7.3" d="M500.6,70.0 L500.6,70.7 L500.7,71.4 L500.7,72.1 L500.8,72.8 L500.8,73.5 L500.9,74.2 L500.9,74.9 L501.0,75.6 L501.0,76.3 L501.1,77.0 L501.1,77.7 L501.2,78.4 L501.2,79.1 L501.3,79.8 L501.3,80.5 L501.4,81.2 L501.4,81.9 L501.5,82.6 L501.5,83.3 L501.6,84.0 L501.6,84.7 L501.7,85.4 L501.8,86.1 L501.8,86.8 L501.9,87.5 L501.9,88.2 L502.0,88.8 L502.1,89.5 L502.1,90.2 L502.2,90.9 L502.2,91.6 L502.3,92.3 L502.4,93.0 L502.4,93.7 L502.5,94.4 L502.6,95.1 L502.6,95.8 L502.7,96.5 L502.8,97.2 L502.8,97.9 L502.9,98.6 L503.0,99.3 L503.1,100.0 L503.1,100.7 L503.2,101.4 L503.3,102.1 L503.4,102.8 L503.4,103.5 L503.5,104.2 L503.6,104.9 L503.7,105.6 L503.8,106.3 L503.8,107.0 L503.9,107.6 L504.0,108.3 L504.1,109.0 L504.2,109.7 L504.3,110.4 L504.3,111.1 L504.4,111.8 L504.5,112.5 L504.6,113.2 L504.7,113.9 L504.7,114.6 L504.8,115.3 L504.9,116.0 L505.0,116.7 L505.0,117.4 L505.1,118.1 L505.2,118.8 L505.3,119.5 L505.3,120.2 L505.4,120.9 L505.5,121.6 L505.5,122.3 L505.6,123.0 L505.7,123.7 L505.7,124.3 L505.8,125.0 L505.9,125.7 L505.9,126.4 L506.0,127.1 L506.1,127.8 L506.1,128.5 L506.2,129.2 L506.3,129.9 L506.3,130.6 L506.4,131.3 L506.4,132.0 L506.5,132.7 L506.6,133.4 L506.6,134.1 L506.7,134.8 L506.8,135.5 L506.8,136.2 L506.9,136.9 L507.0,137.6 L507.0,138.3 L507.1,139.0 L507.1,139.7 L507.2,140.4 L507.3,141.1 L507.3,141.8 L507.4,142.5 L507.4,143.2 L507.5,143.9 L507.6,144.6 L507.6,145.3 L507.7,146.0 L507.8,146.7 L507.8,147.4 L507.9,148.1 L507.9,148.8 L508.0,149.4 L508.1,150.1 L508.1,150.8 L508.2,151.5 L508.2,152.2 L508.3,152.9 L508.4,153.6 L508.4,154.3 L508.5,155.0 L508.5,155.7 L508.6,156.4 L508.7,157.1 L508.7,157.8 L508.8,158.5 L508.8,159.2 L508.9,159.9 L508.9,160.6 L509.0,161.3 L509.1,162.0 L509.1,162.7 L509.2,163.4 L509.2,164.1 L509.3,164.8 L509.4,165.5 L509.4,166.2 L509.5,166.9 L509.5,167.6 L509.6,168.3 L509.7,169.0 L509.7,169.7 L509.8,170.4 L509.8,171.1 L509.9,171.8 L510.0,172.5 L510.0,173.2 L510.1,173.9 L510.1,174.6 L510.2,175.3 L510.3,176.0 L510.3,176.7 L510.4,177.3 L510.4,178.0 L510.5,178.7 L510.6,179.4 L510.6,180.1 L510.7,180.8 L510.7,181.5 L510.8,182.2 L510.9,182.9 L510.9,183.6 L511.0,184.3 L511.1,185.0 L511.1,185.7 L511.2,186.4 L511.3,187.1 L511.3,187.8 L511.4,188.5 L511.5,189.2 L511.5,189.9 L511.6,190.6 L511.7,191.3 L511.7,192.0 L511.8,192.7 L511.9,193.4 L511.9,194.1 L512.0,194.8 L512.1,195.5 L512.1,196.2 L512.2,196.9 L512.3,197.6 L512.3,198.3 L512.4,199.0 L512.5,199.6 L512.6,200.3 L512.6,201.0 L512.7,201.7 L512.8,202.4 L512.8,203.1 L512.9,203.8 L513.0,204.5 L513.1,205.2 L513.1,205.9 L513.2,206.6 L513.3,207.3 L513.4,208.0 L513.5,208.7 L513.5,209.4 L513.6,210.1 L513.7,210.8 L513.8,211.5 L513.9,212.2 L514.0,212.9 L514.0,213.6 L514.1,214.3 L514.2,215.0 L514.3,215.6 L514.4,216.3 L514.4,217.0 L514.5,217.7 L514.6,218.4 L514.7,219.1 L514.8,219.8 L514.8,220.5 L514.9,221.2 L515.0,221.9 L515.0,222.6 L515.1,223.3 L515.2,224.0 L515.3,224.7 L515.3,225.4 L515.4,226.1 L515.5,226.8 L515.5,227.5 L515.6,228.2 L515.7,228.9 L515.7,229.6 L515.8,230.3 L515.9,231.0 L515.9,231.7 L516.0,232.4 L516.1,233.1 L516.1,233.8 L516.2,234.4 L516.3,235.1 L516.3,235.8 L516.4,236.5 L516.5,237.2 L516.6,237.9 L516.6,238.6 L516.7,239.3 L516.8,240.0 L516.9,240.7 L516.9,241.4 L517.0,242.1 L517.1,242.8 L517.2,243.5 L517.3,244.2 L517.4,244.9 L517.4,245.6 L517.5,246.3 L517.6,247.0 L517.7,247.7 L517.8,248.4 L517.9,249.1 L518.0,249.7 L518.1,250.4 L518.2,251.1 L518.3,251.8 L518.4,252.5 L518.5,253.2 L518.6,253.9 L518.7,254.6 L518.8,255.3 L518.9,256.0 L519.0,256.7 L519.1,257.4 L519.2,258.1 L519.3,258.8 L519.4,259.4 L519.5,260.1 L519.6,260.8 L519.7,261.5 L519.8,262.2 L519.9,262.9 L520.0,263.6 L520.1,264.3 L520.2,265.0 L520.3,265.7 L520.4,266.4 L520.5,267.1 L520.6,267.8 L520.8,268.4 L520.9,269.1 L521.0,269.8 L521.1,270.5 L521.2,271.2 L521.3,271.9 L521.4,272.6 L521.5,273.3 L521.6,274.0 L521.8,274.7 L521.9,275.4 L522.0,276.0 L522.1,276.7 L522.2,277.4 L522.3,278.1 L522.5,278.8 L522.6,279.5 L522.7,280.2 L522.8,280.9 L522.9,281.6 L523.0,282.3 L523.2,282.9 L523.3,283.6 L523.4,284.3 L523.5,285.0 L523.7,285.7 L523.8,286.4 L523.9,287.1 L524.0,287.8 L524.2,288.5 L524.3,289.1 L524.4,289.8 L524.5,290.5 L524.7,291.2 L524.8,291.9 L524.9,292.6 L525.1,293.3 L525.2,294.0 L525.3,294.6 L525.5,295.3 L525.6,296.0 L525.7,296.7 L525.9,297.4 L526.0,298.1 L526.2,298.8 L526.3,299.4 L526.4,300.1 L526.6,300.8 L526.7,301.5 L526.9,302.2 L527.0,302.9 L527.2,303.6 L527.4,304.2 L527.5,304.9 L527.7,305.6 L527.9,306.3 L528.0,306.9 L528.2,307.6 L528.4,308.3 L528.6,309.0 L528.8,309.7 L528.9,310.3 L529.1,311.0 L529.3,311.7 L529.5,312.4 L529.7,313.0 L529.9,313.7 L530.1,314.4 L530.3,315.0 L530.5,315.7 L530.7,316.4 L530.9,317.0 L531.2,317.7 L531.4,318.3 L531.7,319.0 L531.9,319.7 L532.2,320.3 L532.4,321.0 L532.7,321.6 L533.0,322.3 L533.3,322.9 L533.6,323.5 L534.0,324.1 L534.3,324.7 L534.7,325.3 L535.1,325.9 L535.5,326.4 L536.0,327.0 L536.4,327.5 L536.9,328.1 L537.4,328.6 L537.9,329.1 L538.4,329.6 L538.9,330.1 L539.5,330.5 L540.0,330.9 L540.6,331.3 L541.3,331.6 L541.9,331.9 L542.5,332.2 L543.2,332.5 L543.8,332.7 L544.5,333.0 L545.1,333.2 L545.8,333.5 L546.4,333.7 L547.1,334.0 L547.8,334.2 L548.4,334.3 L549.1,334.5 L549.8,334.7 L550.4,334.9 L551.1,335.2 L551.7,335.5 L552.4,335.8 L552.9,336.2 L553.5,336.6 L554.1,337.0 L554.6,337.5 L555.2,337.9 L555.7,338.4 L556.2,338.8 L556.8,339.3 L557.3,339.8 L557.8,340.3 L558.3,340.7 L558.8,341.2 L559.3,341.7 L559.8,342.2 L560.3,342.7 L560.7,343.3 L561.2,343.8 L561.6,344.3 L562.1,344.8 L562.6,345.4 L563.0,345.9 L563.5,346.5 L563.9,347.0 L564.3,347.5 L564.8,348.1 L565.2,348.6 L565.7,349.2 L566.1,349.7 L566.5,350.3 L567.0,350.8 L567.4,351.4 L567.8,351.9 L568.3,352.5 L568.7,353.0 L569.1,353.6 L569.5,354.1 L570.0,354.7 L570.4,355.2 L570.8,355.8 L571.2,356.4 L571.6,356.9 L572.0,357.5 L572.4,358.1 L572.8,358.7 L573.2,359.2 L573.6,359.8 L574.0,360.4 L574.4,361.0 L574.8,361.6 L575.1,362.2 L575.5,362.8 L575.9,363.3 L576.3,363.9 L576.7,364.5 L577.0,365.1 L577.4,365.7 L577.8,366.3 L578.2,366.9 L578.5,367.5 L578.9,368.1 L579.3,368.7 L579.7,369.3 L580.0,369.8 L580.4,370.4 L580.8,371.0 L581.1,371.6 L581.5,372.2 L581.9,372.8 L582.3,373.4 L582.6,374.0 L583.0,374.6 L583.4,375.2 L583.7,375.8 L584.1,376.4 L584.5,377.0 L584.8,377.6 L585.2,378.2 L585.6,378.8 L586.0,379.3 L586.3,379.9 L586.7,380.5 L587.1,381.1 L587.5,381.7 L587.8,382.3 L588.2,382.9 L588.6,383.5 L589.0,384.0 L589.4,384.6 L589.8,385.2 L590.2,385.8 L590.6,386.4 L591.0,387.0 L591.3,387.5 L591.7,388.1 L592.1,388.7 L592.5,389.3 L592.9,389.8 L593.3,390.4 L593.7,391.0 L594.1,391.6 L594.5,392.1 L594.9,392.7 L595.3,393.3 L595.7,393.9 L596.2,394.4 L596.6,395.0 L597.0,395.5 L597.4,396.1 L597.9,396.6 L598.3,397.2 L598.7,397.7 L599.2,398.3 L599.6,398.8 L600.0,399.4 L600.5,399.9 L600.9,400.5 L601.4,401.0 L601.9,401.5 L602.3,402.0 L602.8,402.5 L603.3,403.1 L603.8,403.6 L604.3,404.1 L604.8,404.6 L605.3,405.0 L605.8,405.5 L606.3,406.0 L606.8,406.5 L607.3,406.9 L607.9,407.4 L608.4,407.9 L608.9,408.3 L609.4,408.8 L609.9,409.3 L610.5,409.7 L611.0,410.2 L611.5,410.7 L612.0,411.1 L612.5,411.6 L613.1,412.1 L613.6,412.5 L614.1,413.0 L614.6,413.5 L615.1,414.0 L615.7,414.4 L616.2,414.9 L616.7,415.4 L617.2,415.8 L617.7,416.3 L618.3,416.8 L618.8,417.2 L619.3,417.7 L619.8,418.2 L620.4,418.6 L620.9,419.1 L621.5,419.5 L622.0,419.9 L622.6,420.3 L623.2,420.7 L623.8,421.0 L624.4,421.4 L624.9,421.8 L625.5,422.2 L626.1,422.6 L626.7,423.0 L627.4,423.3 L628.0,423.7 L628.6,424.0 L629.2,424.4 L629.8,424.7 L630.5,424.9 L631.1,425.2 L631.8,425.4 L632.4,425.6 L633.1,425.7 L633.8,425.6 L634.5,425.5 L635.2,425.2 L635.9,424.9 L636.5,424.7 L637.2,424.4 L637.8,424.1 L638.4,423.7 L638.9,423.3 L639.5,422.8 L640.0,422.2 L640.4,421.7 L640.9,421.1 L641.3,420.6 L641.7,420.0 L642.1,419.4 L642.5,418.8 L642.8,418.2 L643.2,417.6 L643.5,417.0 L643.8,416.4 L644.1,415.7 L644.3,415.1 L644.6,414.4 L644.9,413.8 L645.2,413.2 L645.4,412.5 L645.7,411.9 L646.0,411.2 L646.2,410.6 L646.5,409.9 L646.7,409.3 L647.0,408.6 L647.2,407.9 L647.4,407.3 L647.6,406.6 L647.8,405.9 L648.0,405.3 L648.2,404.6 L648.4,403.9 L648.6,403.3 L648.8,402.6 L649.0,401.9 L649.2,401.2 L649.4,400.6 L649.6,399.9 L649.8,399.2 L650.0,398.6 L650.2,397.9 L650.4,397.2 L650.6,396.5 L650.7,395.9 L650.9,395.2 L651.1,394.5 L651.3,393.8 L651.4,393.1 L651.6,392.5 L651.8,391.8 L651.9,391.1 L652.1,390.4 L652.3,389.7 L652.4,389.1 L652.6,388.4 L652.7,387.7 L652.9,387.0 L653.1,386.3 L653.2,385.6 L653.4,385.0 L653.5,384.3 L653.7,383.6 L653.8,382.9 L654.0,382.2 L654.1,381.5 L654.3,380.9 L654.4,380.2 L654.6,379.5 L654.7,378.8 L654.9,378.1 L655.0,377.4 L655.2,376.8 L655.3,376.1 L655.5,375.4 L655.6,374.7 L655.8,374.0 L655.9,373.3 L656.0,372.6 L656.2,372.0 L656.3,371.3 L656.5,370.6 L656.6,369.9 L656.7,369.2 L656.8,368.5 L657.0,367.8 L657.1,367.1 L657.2,366.5 L657.3,365.8 L657.4,365.1 L657.5,364.4 L657.6,363.7 L657.7,363.0 L657.9,362.3 L658.0,361.6 L658.1,360.9 L658.2,360.2 L658.3,359.5 L658.4,358.9 L658.5,358.2 L658.6,357.5 L658.7,356.8 L658.9,356.1 L659.0,355.4 L659.1,354.7 L659.2,354.0 L659.3,353.3 L659.4,352.6 L659.5,351.9 L659.6,351.2 L659.7,350.6 L659.8,349.9 L660.0,349.2 L660.1,348.5 L660.2,347.8 L660.3,347.1 L660.4,346.4 L660.5,345.7 L660.6,345.0 L660.7,344.3 L660.8,343.6 L661.0,343.0 L661.1,342.3 L661.2,341.6 L661.3,340.9 L661.4,340.2 L661.5,339.5 L661.6,338.8 L661.7,338.1 L661.9,337.4 L662.0,336.7 L662.1,336.1 L662.3,335.4 L662.4,334.7 L662.5,334.0 L662.7,333.3 L662.8,332.6 L662.9,331.9 L663.1,331.2 L663.2,330.6 L663.4,329.9 L663.5,329.2 L663.6,328.5 L663.8,327.8 L663.9,327.1 L664.0,326.4 L664.1,325.7 L664.2,325.1 L664.3,324.4 L664.5,323.7 L664.6,323.0 L664.7,322.3 L664.8,321.6 L664.9,320.9 L665.0,320.2 L665.1,319.5 L665.2,318.8 L665.4,318.1 L665.5,317.5 L665.6,316.8 L665.7,316.1 L665.8,315.4 L665.9,314.7 L666.0,314.0 L666.1,313.3 L666.2,312.6 L666.3,311.9 L666.4,311.2 L666.5,310.5 L666.6,309.8 L666.7,309.1 L666.8,308.5 L666.9,307.8 L667.0,307.1 L667.1,306.4 L667.2,305.7 L667.3,305.0 L667.4,304.3 L667.5,303.6 L667.6,302.9 L667.7,302.2 L667.8,301.5 L667.9,300.8 L668.0,300.1 L668.1,299.4 L668.2,298.7 L668.3,298.1 L668.4,297.4 L668.5,296.7 L668.6,296.0 L668.7,295.3 L668.8,294.6 L668.9,293.9 L669.0,293.2 L669.1,292.5 L669.2,291.8 L669.3,291.1 L669.4,290.4 L669.5,289.7 L669.6,289.1 L669.7,288.4 L669.8,287.7 L669.9,287.0 L670.0,286.3 L670.1,285.6 L670.3,284.9 L670.4,284.2 L670.5,283.5 L670.6,282.8 L670.7,282.1 L670.8,281.4 L670.9,280.8 L671.0,280.1 L671.1,279.4 L671.2,278.7 L671.4,278.0 L671.5,277.3 L671.6,276.6 L671.7,275.9 L671.8,275.2 L671.9,274.5 L672.0,273.8 L672.1,273.2 L672.3,272.5 L672.4,271.8 L672.5,271.1 L672.6,270.4 L672.7,269.7 L672.8,269.0 L672.9,268.3 L673.1,267.6 L673.2,266.9 L673.3,266.2 L673.4,265.6 L673.5,264.9 L673.6,264.2 L673.8,263.5 L673.9,262.8 L674.0,262.1 L674.1,261.4 L674.3,260.7 L674.4,260.0 L674.5,259.4 L674.6,258.7 L674.8,258.0 L674.9,257.3 L675.0,256.6 L675.1,255.9 L675.3,255.2 L675.4,254.5 L675.5,253.8 L675.7,253.2 L675.8,252.5 L675.9,251.8 L676.1,251.1 L676.2,250.4 L676.3,249.7 L676.5,249.0 L676.6,248.4 L676.7,247.7 L676.9,247.0 L677.0,246.3 L677.1,245.6 L677.3,244.9 L677.4,244.2 L677.6,243.5 L677.7,242.9 L677.8,242.2 L678.0,241.5 L678.1,240.8 L678.2,240.1 L678.4,239.4 L678.5,238.7 L678.7,238.1 L678.8,237.4 L679.0,236.7 L679.1,236.0 L679.2,235.3 L679.4,234.6 L679.5,233.9 L679.7,233.3 L679.8,232.6 L680.0,231.9 L680.1,231.2 L680.3,230.5 L680.5,229.9 L680.6,229.2 L680.8,228.5 L680.9,227.8 L681.1,227.1 L681.3,226.4 L681.4,225.8 L681.6,225.1 L681.7,224.4 L681.9,223.7 L682.1,223.0 L682.2,222.4 L682.4,221.7 L682.6,221.0 L682.7,220.3 L682.9,219.6 L683.1,219.0 L683.3,218.3 L683.4,217.6 L683.6,216.9 L683.8,216.2 L683.9,215.6 L684.1,214.9 L684.3,214.2 L684.5,213.5 L684.6,212.9 L684.8,212.2 L685.0,211.5 L685.2,210.8 L685.4,210.2 L685.6,209.5 L685.8,208.8 L686.0,208.2 L686.2,207.5 L686.4,206.8 L686.7,206.2 L686.9,205.5 L687.1,204.8 L687.4,204.2 L687.6,203.5 L687.8,202.9 L688.1,202.2 L688.3,201.5 L688.6,200.9 L688.8,200.2 L689.0,199.6 L689.3,198.9 L689.6,198.3 L689.9,197.6 L690.1,197.0 L690.4,196.4 L690.8,195.7 L691.1,195.1 L691.4,194.5 L691.7,193.9 L692.1,193.3 L692.4,192.7 L692.8,192.1 L693.2,191.5 L693.6,190.9 L694.0,190.3 L694.4,189.8 L694.9,189.3 L695.4,188.8 L696.0,188.4 L696.7,188.0 L697.4,187.7 L698.1,187.6 L698.7,187.5 L699.4,187.5 L700.1,187.5 L700.8,187.6 L701.4,187.8 L702.1,188.2 L702.8,188.7 L703.3,189.2 L703.8,189.7 L704.2,190.2 L704.6,190.8 L704.9,191.4 L705.3,192.0 L705.6,192.6 L705.9,193.2 L706.3,193.8 L706.6,194.4 L707.0,195.0 L707.3,195.7 L707.6,196.3 L707.9,196.9 L708.2,197.5 L708.5,198.2 L708.8,198.8 L709.0,199.5 L709.2,200.1 L709.5,200.8 L709.7,201.5 L709.9,202.1 L710.2,202.8 L710.4,203.5 L710.6,204.1 L710.8,204.8 L711.0,205.5 L711.2,206.1 L711.4,206.8 L711.6,207.5 L711.8,208.1 L712.0,208.8 L712.2,209.5 L712.4,210.2 L712.6,210.8 L712.7,211.5 L712.9,212.2 L713.1,212.9 L713.2,213.6 L713.4,214.2 L713.5,214.9 L713.7,215.6 L713.8,216.3 L714.0,217.0 L714.2,217.7 L714.3,218.3 L714.5,219.0 L714.6,219.7 L714.8,220.4 L714.9,221.1 L715.1,221.8 L715.2,222.4 L715.4,223.1 L715.5,223.8 L715.7,224.5 L715.8,225.2 L716.0,225.9 L716.1,226.5 L716.3,227.2 L716.4,227.9 L716.6,228.6 L716.7,229.3 L716.9,230.0 L717.0,230.6 L717.2,231.3 L717.3,232.0 L717.4,232.7 L717.6,233.4 L717.7,234.1 L717.9,234.8 L718.0,235.4 L718.1,236.1 L718.3,236.8 L718.4,237.5 L718.5,238.2 L718.7,238.9 L718.8,239.6 L718.9,240.3 L719.1,240.9 L719.2,241.6 L719.3,242.3 L719.5,243.0 L719.6,243.7 L719.7,244.4 L719.8,245.1 L720.0,245.8 L720.1,246.5 L720.2,247.1 L720.4,247.8 L720.5,248.5 L720.6,249.2 L720.7,249.9 L720.8,250.6 L721.0,251.3 L721.1,252.0 L721.2,252.7 L721.3,253.3 L721.5,254.0 L721.6,254.7 L721.7,255.4 L721.8,256.1 L721.9,256.8 L722.0,257.5 L722.2,258.2 L722.3,258.9 L722.4,259.6 L722.5,260.2 L722.6,260.9 L722.7,261.6 L722.8,262.3 L723.0,263.0 L723.1,263.7 L723.2,264.4 L723.3,265.1 L723.4,265.8 L723.5,266.5 L723.6,267.2 L723.7,267.9 L723.7,268.6 L723.8,269.2 L723.9,269.9 L723.9,270.6 L724.0,271.3 L724.1,272.0 L724.2,272.7 L724.3,273.4 L724.4,274.1 L724.6,274.8 L724.7,275.5 L724.8,276.2 L725.0,276.9 L725.1,277.5 L725.2,278.2 L725.4,278.9 L725.5,279.6 L725.7,280.3 L725.8,281.0 L726.0,281.7 L726.1,282.3 L726.2,283.0 L726.4,283.7 L726.5,284.4 L726.6,285.1 L726.8,285.8 L726.9,286.5 L727.0,287.1 L727.2,287.8 L727.3,288.5 L727.4,289.2 L727.6,289.9 L727.7,290.6 L727.8,291.3 L728.0,292.0 L728.1,292.6 L728.2,293.3 L728.3,294.0 L728.5,294.7 L728.6,295.4 L728.7,296.1 L728.9,296.8 L729.0,297.5 L729.1,298.1 L729.3,298.8 L729.4,299.5 L729.5,300.2 L729.7,300.9 L729.8,301.6 L729.9,302.3 L730.1,303.0 L730.2,303.6 L730.3,304.3 L730.5,305.0 L730.6,305.7 L730.8,306.4 L730.9,307.1 L731.1,307.8 L731.2,308.4 L731.4,309.1 L731.5,309.8 L731.7,310.5 L731.8,311.2 L732.0,311.9 L732.1,312.5 L732.3,313.2 L732.4,313.9 L732.6,314.6 L732.8,315.3 L732.9,315.9 L733.1,316.6 L733.3,317.3 L733.4,318.0 L733.6,318.7 L733.8,319.3 L733.9,320.0 L734.1,320.7 L734.3,321.4 L734.5,322.1 L734.6,322.7 L734.8,323.4 L735.0,324.1 L735.2,324.8 L735.3,325.4 L735.5,326.1 L735.7,326.8 L735.8,327.5 L736.0,328.2 L736.2,328.8 L736.4,329.5 L736.5,330.2 L736.7,330.9 L736.9,331.5 L737.1,332.2 L737.2,332.9 L737.4,333.6 L737.6,334.3 L737.8,334.9 L738.0,335.6 L738.2,336.3 L738.4,337.0 L738.6,337.6 L738.7,338.3 L738.9,339.0 L739.1,339.6 L739.4,340.3 L739.6,341.0 L739.9,341.6 L740.2,342.2 L740.6,342.8 L740.9,343.4 L741.3,344.0 L741.7,344.6 L742.1,345.2 L742.5,345.8 L742.9,346.3 L743.3,346.9 L743.7,347.5 L744.2,348.1 L744.6,348.7 L745.0,349.2 L745.4,349.8 L745.8,350.4 L746.3,350.9 L746.7,351.4 L747.2,351.9 L747.7,352.4 L748.3,352.9 L748.8,353.3 L749.4,353.7 L750.0,354.1 L750.6,354.5 L751.2,354.8 L751.8,355.2 L752.4,355.5 L753.0,355.9 L753.6,356.2 L754.2,356.6 L754.8,356.9 L755.4,357.3 L756.0,357.7 L756.6,358.1 L757.2,358.4 L757.7,358.8 L758.3,359.2 L758.9,359.6 L759.5,360.0 L760.1,360.4 L760.6,360.8 L761.2,361.2 L761.8,361.6 L762.4,362.0 L763.0,362.3 L763.6,362.7 L764.1,363.1 L764.7,363.5 L765.3,363.8 L765.9,364.2 L766.5,364.6 L767.1,364.9 L767.7,365.3 L768.3,365.6 L769.0,366.0 L769.6,366.3 L770.2,366.6 L770.8,367.0 L771.4,367.3 L772.0,367.6 L772.7,368.0 L773.3,368.3 L773.9,368.6 L774.5,368.9 L775.2,369.1 L775.8,369.4 L776.5,369.7 L777.1,369.9 L777.8,370.1 L778.5,370.4 L779.1,370.6 L779.8,370.8 L780.5,371.0 L781.2,371.2 L781.9,371.4 L782.6,371.5 L783.3,371.7 L783.9,371.8 L784.6,371.9 L785.3,371.9 L786.0,372.0 L786.7,372.0 L787.4,372.1 L788.1,372.1 L788.8,372.1 L789.5,372.1 L790.2,372.0 L790.9,372.0 L791.6,371.9 L792.3,371.9 L793.0,371.8 L793.7,371.7 L794.4,371.6 L795.1,371.5 L795.8,371.4 L796.5,371.2 L797.2,371.1 L797.8,371.0 L798.5,370.8 L799.2,370.7 L799.9,370.5 L800.6,370.3 L801.2,370.2 L801.9,370.0 L802.6,369.7 L803.2,369.5 L803.9,369.2 L804.6,369.0 L805.2,368.7 L805.9,368.4 L806.5,368.1 L807.1,367.8 L807.7,367.5 L808.4,367.2 L809.0,366.9 L809.6,366.5 L810.2,366.2 L810.8,365.8 L811.4,365.4 L812.0,365.1 L812.6,364.7 L813.2,364.3 L813.8,363.9 L814.4,363.6 L815.0,363.2 L815.5,362.8 L816.1,362.4 L816.7,362.0 L817.3,361.6 L817.9,361.2 L818.4,360.8 L819.0,360.4 L819.5,360.0 L820.1,359.6 L820.7,359.2 L821.2,358.7 L821.8,358.3 L822.3,357.9 L822.9,357.5 L823.5,357.1 L824.0,356.6 L824.6,356.2 L825.1,355.8 L825.7,355.4 L826.3,355.0 L826.8,354.5 L827.4,354.1 L827.9,353.7 L828.5,353.3 L829.1,352.9 L829.6,352.4 L830.2,352.0 L830.7,351.6 L831.3,351.2 L831.9,350.8 L832.4,350.3 L833.0,349.9 L833.5,349.5 L834.1,349.1 L834.7,348.7 L835.2,348.2 L835.8,347.8 L836.3,347.4 L836.9,347.0 L837.5,346.6 L838.0,346.1 L838.6,345.7 L839.1,345.3 L839.7,344.9 L840.3,344.5 L840.8,344.0 L841.4,343.6 L841.9,343.2 L842.5,342.8 L843.1,342.4 L843.6,341.9 L844.2,341.5 L844.7,341.1 L845.3,340.6 L845.8,340.2 L846.3,339.7 L846.9,339.3 L847.4,338.8 L847.9,338.3 L848.4,337.8 L848.9,337.4 L849.4,336.9 L849.9,336.4 L850.4,335.8 L850.9,335.3 L851.3,334.8 L851.8,334.3 L852.2,333.7 L852.7,333.2 L853.1,332.6 L853.6,332.1 L854.0,331.6 L854.5,331.0 L854.9,330.5 L855.3,329.9 L855.8,329.4 L856.2,328.8 L856.6,328.3 L857.1,327.7 L857.5,327.2 L857.9,326.6 L858.3,326.1 L858.8,325.5 L859.2,324.9 L859.6,324.4 L860.0,323.8 L860.4,323.3 L860.9,322.7 L861.3,322.1 L861.7,321.6 L862.1,321.0 L862.5,320.5 L863.0,319.9 L863.4,319.3 L863.8,318.8 L864.2,318.2 L864.6,317.7 L865.1,317.1 L865.5,316.5 L865.9,316.0 L866.3,315.4 L866.7,314.9 L867.2,314.3 L867.6,313.7 L868.0,313.2 L868.4,312.6 L868.8,312.1 L869.3,311.5 L869.7,310.9 L870.1,310.4 L870.5,309.8 L870.9,309.3 L871.4,308.7 L871.8,308.1 L872.2,307.6 L872.6,307.0 L873.0,306.5 L873.5,305.9 L873.9,305.3 L874.3,304.8 L874.7,304.2 L875.1,303.7 L875.6,303.1 L876.0,302.5 L876.4,302.0 L876.8,301.4 L877.2,300.8 L877.6,300.2 L877.9,299.6 L878.3,299.1 L878.7,298.5 L879.1,297.9 L879.4,297.3 L879.8,296.7 L880.2,296.1 L880.5,295.5 L880.9,294.9 L881.2,294.3 L881.6,293.6 L881.9,293.0 L882.3,292.4 L882.6,291.8 L882.9,291.2 L883.3,290.6 L883.6,290.0 L883.9,289.4 L884.3,288.7 L884.6,288.1 L885.0,287.5 L885.3,286.9 L885.6,286.3 L885.9,285.7 L886.3,285.0 L886.6,284.4 L886.9,283.8 L887.3,283.2 L887.6,282.6 L887.9,281.9 L888.2,281.3 L888.5,280.7 L888.9,280.1 L889.2,279.5 L889.5,278.8 L889.8,278.2 L890.2,277.6 L890.5,277.0 L890.8,276.4 L891.1,275.7 L891.5,275.1 L891.8,274.5 L892.1,273.9 L892.5,273.3 L892.8,272.7 L893.1,272.0 L893.5,271.4 L893.8,270.8 L894.2,270.2 L894.5,269.6 L894.9,269.0 L895.2,268.4 L895.5,267.8 L895.9,267.2 L896.2,266.5 L896.6,265.9 L896.9,265.3 L897.2,264.7 L897.6,264.1 L897.9,263.5 L898.3,262.9 L898.6,262.3 L898.9,261.6 L899.3,261.0 L899.6,260.4 L899.9,259.8 L900.2,259.1 L900.5,258.5 L900.8,257.9 L901.1,257.2 L901.4,256.6 L901.7,256.0 L902.0,255.3 L902.3,254.7 L902.6,254.1 L902.9,253.5 L903.2,252.8 L903.6,252.2 L903.9,251.6 L904.2,251.0 L904.6,250.4 L905.0,249.8 L905.3,249.2 L905.7,248.6 L906.0,248.0 L906.4,247.4 L906.7,246.8 L907.1,246.2 L907.5,245.6 L907.8,245.0 L908.2,244.4 L908.5,243.8 L908.9,243.2 L909.2,242.6 L909.6,242.0 L910.0,241.4 L910.3,240.8 L910.7,240.2 L911.0,239.6 L911.4,239.0 L911.8,238.4 L912.1,237.8 L912.5,237.2 L912.8,236.6 L913.2,236.0 L913.5,235.4 L913.9,234.7 L914.3,234.1 L914.6,233.5 L915.0,232.9 L915.3,232.3 L915.7,231.7 L916.1,231.1 L916.4,230.5 L916.8,229.9 L917.1,229.3 L917.5,228.7 L917.8,228.1 L918.2,227.5 L918.6,226.9 L918.9,226.3 L919.3,225.8 L919.7,225.2 L920.1,224.6 L920.5,224.0 L920.9,223.4 L921.3,222.9 L921.7,222.3 L922.1,221.7 L922.5,221.1 L922.9,220.6 L923.3,220.0 L923.7,219.4 L924.1,218.9 L924.6,218.3 L925.0,217.7 L925.4,217.2 L925.8,216.6 L926.3,216.1 L926.7,215.6 L927.2,215.0 L927.6,214.5 L928.1,214.0 L928.6,213.5 L929.0,212.9 L929.5,212.4 L930.0,211.9 L930.5,211.4 L931.0,210.9 L931.5,210.4 L932.0,209.9 L932.5,209.4 L933.0,209.0 L933.5,208.5 L934.0,208.0 L934.6,207.6 L935.1,207.1 L935.2,207.0"/>
</g>
<rect class="iax" x="347.1" y="74.1" width="582.7" height="464.8"/>
<path class="iax" d="M347.1,538.9 v10 M391.9,538.9 v5.5 M436.7,538.9 v10 M481.5,538.9 v5.5 M526.3,538.9 v10 M571.1,538.9 v5.5 M615.9,538.9 v10 M660.7,538.9 v5.5 M705.5,538.9 v10 M750.3,538.9 v5.5 M795.1,538.9 v10 M839.9,538.9 v5.5 M884.7,538.9 v10 M929.5,538.9 v5.5 M347.1,472.2 h-5 M347.1,400.3 h-9 M347.1,328.4 h-5 M347.1,256.6 h-9 M347.1,184.7 h-5 M347.1,112.8 h-9"/>
<text class="itk" transform="translate(347.1,583) scale(1,1.155)" text-anchor="middle">1200</text>
<text class="itk" transform="translate(436.7,583) scale(1,1.155)" text-anchor="middle">1100</text>
<text class="itk" transform="translate(526.3,583) scale(1,1.155)" text-anchor="middle">1000</text>
<text class="itk" transform="translate(615.9,583) scale(1,1.155)" text-anchor="middle">900</text>
<text class="itk" transform="translate(705.5,583) scale(1,1.155)" text-anchor="middle">800</text>
<text class="itk" transform="translate(795.1,583) scale(1,1.155)" text-anchor="middle">700</text>
<text class="itk" transform="translate(884.7,583) scale(1,1.155)" text-anchor="middle">600</text>
<text class="itk" transform="translate(333.6,411.0) scale(1,1.155)" text-anchor="end">0.2</text>
<text class="itk" transform="translate(333.6,267.2) scale(1,1.155)" text-anchor="end">0.4</text>
<text class="itk" transform="translate(333.6,123.5) scale(1,1.155)" text-anchor="end">0.6</text>
<text class="iti" transform="translate(491,624.8) scale(1,1.15)">Wavenumber / cm<tspan dy="-16.5" dx="0.6" font-size="19.5px">-1</tspan></text>
<text class="iti" style="font-size:37.3px" transform="translate(264.8,478) rotate(-90) scale(1,1.035)">Absorbance / u.a.</text>
</svg>
</body></html>
